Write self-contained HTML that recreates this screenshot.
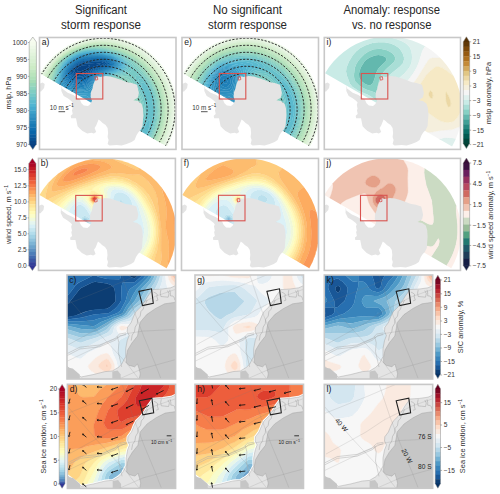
<!DOCTYPE html>
<html><head><meta charset="utf-8"><style>html,body{margin:0;padding:0;background:#fff;width:500px;height:494px;overflow:hidden}svg{display:block}</style></head><body>
<svg width="500" height="494" viewBox="0 0 500 494" font-family='"Liberation Sans", sans-serif'>
<rect width="500" height="494" fill="#ffffff"/>
<text x="101" y="14.4" text-anchor="middle" font-size="12" fill="#262626" textLength="52" lengthAdjust="spacingAndGlyphs">Significant</text>
<text x="101" y="28.6" text-anchor="middle" font-size="12" fill="#262626" textLength="80" lengthAdjust="spacingAndGlyphs">storm response</text>
<text x="247.5" y="14.4" text-anchor="middle" font-size="12" fill="#262626" textLength="69" lengthAdjust="spacingAndGlyphs">No significant</text>
<text x="247.5" y="28.6" text-anchor="middle" font-size="12" fill="#262626" textLength="79" lengthAdjust="spacingAndGlyphs">storm response</text>
<text x="391.7" y="14.4" text-anchor="middle" font-size="12" fill="#262626" textLength="96.6" lengthAdjust="spacingAndGlyphs">Anomaly: response</text>
<text x="391.7" y="28.6" text-anchor="middle" font-size="12" fill="#262626" textLength="79.5" lengthAdjust="spacingAndGlyphs">vs. no response</text>
<clipPath id="pc1f"><rect x="39.5" y="37.5" width="136.5" height="111.9"/></clipPath>
<clipPath id="pc1"><path d="M40.12,73.15 A73.3,73.3 0 0 1 167.08,146.45 Z"/></clipPath>
<g clip-path="url(#pc1f)"><g clip-path="url(#pc1)" >
<path fill="#084384" stroke="#084384" stroke-width="0.3" d="M83.5,65.2 87.5,65.1 89.9,65.5 88.3,67.5 85.2,69.5 80.4,71.5 79.5,71.7 77.5,71.3 76.8,69.5 78.2,67.5 82.2,65.5Z"/>
<path fill="#08488a" stroke="#08488a" stroke-width="0.3" d="M85.5,63.5 95.5,62.9 101.1,63.5 97.5,65.6 93.5,66.7 91.5,67.7 83.5,72.6 79.5,73.6 77.4,73.5 75.5,72.7 74.6,71.5 74.8,69.5 75.5,68.2 77.5,66.3 79.5,65.1 85.1,63.5ZM82.2,65.5 78.2,67.5 76.8,69.5 77.5,71.3 79.5,71.7 80.4,71.5 85.2,69.5 88.3,67.5 89.9,65.5 87.5,65.1 83.5,65.2Z"/>
<path fill="#084d8f" stroke="#084d8f" stroke-width="0.3" d="M97.5,61.5 101.5,61.9 104.5,63.5 101.5,65.5 93.5,68.2 83.5,74.4 79.5,75.3 75.5,74.5 73.8,73.5 73,71.5 73.5,69.1 74.6,67.5 76.8,65.5 80.7,63.5 83.5,62.8 96,61.5ZM85.1,63.5 79.5,65.1 77.5,66.3 75.5,68.2 74.8,69.5 74.6,71.5 75.5,72.7 77.4,73.5 79.5,73.6 83.5,72.6 91.5,67.7 93.5,66.7 97.5,65.6 101.1,63.5 97.5,62.9 85.5,63.5Z"/>
<path fill="#085395" stroke="#085395" stroke-width="0.3" d="M85.5,61.5 99.5,60.8 104.1,61.5 106.5,63.5 104.1,65.5 93.5,69.5 83.5,76 79.5,76.8 77.5,76.6 73.5,75.1 72.1,73.5 71.7,71.5 72.3,69.5 73.4,67.5 75.5,65.4 77.5,64.1 81.5,62.4 85.4,61.5ZM96,61.5 83.5,62.8 80.7,63.5 76.8,65.5 74.6,67.5 73.5,69.1 73,71.5 73.8,73.5 75.5,74.5 79.5,75.3 83.5,74.4 93.5,68.2 101.5,65.5 104.5,63.5 101.5,61.9 97.5,61.5Z"/>
<path fill="#08589b" stroke="#08589b" stroke-width="0.3" d="M83.5,61.1 91.5,60.2 99.5,60.1 105.5,61.2 108.1,63.5 106.2,65.5 95.5,69.5 91.5,71.9 85.5,76.4 81.5,78 77.5,77.9 73.5,76.5 71.5,75 70.8,73.5 70.7,71.5 71.5,69.1 73.5,66.3 77.1,63.5 81.8,61.5ZM85.4,61.5 81.5,62.4 77.5,64.1 75.5,65.4 73.4,67.5 72.3,69.5 71.7,71.5 72.1,73.5 73.5,75.1 77.5,76.6 79.5,76.8 83.5,76 93.5,69.5 104.1,65.5 106.5,63.5 104.1,61.5 99.5,60.8 85.5,61.5Z"/>
<path fill="#085da1" stroke="#085da1" stroke-width="0.3" d="M91.5,59.5 97.5,59.3 103.5,59.9 107.5,61.3 109.4,63.5 107.5,65.7 95.5,70.4 91.5,73 85.5,77.8 83.5,78.8 79.5,79.4 77.5,79.2 73.5,77.8 71.5,76.7 70.5,75.5 69.7,73.5 69.8,71.5 71.6,67.5 75.9,63.5 79.5,61.6 83.5,60.4 90.8,59.5ZM81.8,61.5 77.1,63.5 73.5,66.3 71.5,69.1 70.7,71.5 70.8,73.5 71.5,75 73.5,76.5 77.5,77.9 81.5,78 85.5,76.4 91.5,71.9 95.5,69.5 106.2,65.5 108.1,63.5 105.5,61.2 99.5,60.1 91.5,60.2 83.5,61.1Z"/>
<path fill="#0863a6" stroke="#0863a6" stroke-width="0.3" d="M85.5,59.4 95.5,58.7 103.5,59.3 105.5,59.8 109.1,61.5 110.5,63.5 109.3,65.5 105.5,67.3 97.5,70.2 93.5,72.6 85.5,79.1 83.5,80.1 81.5,80.5 77.5,80.4 71.5,78.1 69.2,75.5 68.8,73.5 69.1,71.5 69.7,69.5 70.9,67.5 72.5,65.5 74.9,63.5 79.5,61 84.7,59.5ZM90.8,59.5 83.5,60.4 79.5,61.6 75.9,63.5 71.6,67.5 69.8,71.5 69.7,73.5 70.5,75.5 71.5,76.7 73.5,77.8 77.5,79.2 79.5,79.4 83.5,78.8 85.5,77.8 91.5,73 95.5,70.4 107.5,65.7 109.4,63.5 107.5,61.3 103.5,59.9 97.5,59.3 91.5,59.5Z"/>
<path fill="#0868ac" stroke="#0868ac" stroke-width="0.3" d="M83.5,59.1 87.5,58.5 95.5,58.1 103.5,58.8 105.5,59.2 109.5,61 111.5,63.5 110.5,65.5 109.5,66.1 106.6,67.5 99.5,70 95.5,72.1 87.5,79 83.5,81.3 79.5,81.8 77.5,81.5 73.5,80.3 71.5,79.3 69.1,77.5 68.2,75.5 68,73.5 69.1,69.5 71.7,65.5 73.9,63.5 77.5,61.2 82,59.5ZM84.7,59.5 79.5,61 74.9,63.5 72.5,65.5 70.9,67.5 69.7,69.5 69.1,71.5 68.8,73.5 69.2,75.5 71.5,78.1 77.5,80.4 81.5,80.5 83.5,80.1 85.5,79.1 93.5,72.6 97.5,70.2 105.5,67.3 109.3,65.5 110.5,63.5 109.1,61.5 105.5,59.8 103.5,59.3 95.5,58.7 85.5,59.4Z"/>
<path fill="#0d6dae" stroke="#0d6dae" stroke-width="0.3" d="M81.5,59.1 87.5,57.9 91.5,57.6 101.5,58 107.5,59.3 109.5,60.3 111.2,61.5 112.4,63.5 111.7,65.5 109.5,66.8 99.5,70.7 95.5,72.9 87.5,80.3 85.5,81.7 83.5,82.5 81.5,82.8 77.5,82.6 73.7,81.5 69.6,79.5 67.9,77.5 67.3,75.5 67.6,71.5 69.5,67.5 71,65.5 75.5,61.7 80.2,59.5ZM82,59.5 77.5,61.2 73.9,63.5 71.7,65.5 69.1,69.5 68,73.5 68.2,75.5 69.1,77.5 71.5,79.3 73.5,80.3 77.5,81.5 79.5,81.8 83.5,81.3 87.5,79 95.5,72.1 99.5,70 106.6,67.5 109.5,66.1 110.5,65.5 111.5,63.5 109.5,61 105.5,59.2 103.5,58.8 95.5,58.1 87.5,58.5 83.5,59.1Z"/>
<path fill="#1172b1" stroke="#1172b1" stroke-width="0.3" d="M87.5,57.4 97.5,57.1 103.5,57.8 109.2,59.5 112.1,61.5 113.2,63.5 112.7,65.5 111.5,66.3 109.6,67.5 101.5,70.4 97.5,72.4 93.5,75.5 87.5,81.6 85.5,82.9 81.5,83.9 77.5,83.7 75.5,83.2 69.5,80.7 68,79.5 66.9,77.5 66.6,73.5 67,71.5 68.9,67.5 70.3,65.5 73.5,62.5 79.5,59.2 86.4,57.5ZM80.2,59.5 75.5,61.7 71,65.5 69.5,67.5 67.6,71.5 67.3,75.5 67.9,77.5 69.6,79.5 73.7,81.5 77.5,82.6 81.5,82.8 83.5,82.5 85.5,81.7 87.5,80.3 95.5,72.9 99.5,70.7 109.5,66.8 111.7,65.5 112.4,63.5 111.2,61.5 109.5,60.3 107.5,59.3 101.5,58 91.5,57.6 87.5,57.9 81.5,59.1Z"/>
<path fill="#1676b3" stroke="#1676b3" stroke-width="0.3" d="M83.5,57.5 91.5,56.6 99.5,56.8 103.5,57.3 110.3,59.5 113,61.5 114.1,63.5 113.6,65.5 111.5,67.1 99.5,71.9 94.5,75.5 87.5,82.9 85.5,84.1 81.5,85 75.5,84.3 69.5,82 67.5,80.6 66.7,79.5 65.9,77.5 65.7,75.5 65.9,73.5 67.2,69.5 69.5,65.7 71.5,63.5 77.5,59.5 83.4,57.5ZM86.4,57.5 79.5,59.2 73.5,62.5 70.3,65.5 68.9,67.5 67,71.5 66.6,73.5 66.9,77.5 68,79.5 69.5,80.7 75.5,83.2 77.5,83.7 81.5,83.9 85.5,82.9 87.5,81.6 93.5,75.5 97.5,72.4 101.5,70.4 109.6,67.5 111.5,66.3 112.7,65.5 113.2,63.5 112.1,61.5 109.2,59.5 103.5,57.8 97.5,57.1 87.5,57.4Z"/>
<path fill="#1b7bb6" stroke="#1b7bb6" stroke-width="0.3" d="M83.5,57 89.5,56.2 95.5,56.1 99.5,56.3 105.5,57.3 111.5,59.6 113.8,61.5 114.8,63.5 114.5,65.5 111.9,67.5 101.5,71.5 97.9,73.5 93.6,77.5 89.5,82.5 87.5,84.2 83.5,85.9 77.5,85.8 73.5,84.9 69.9,83.5 66.9,81.5 65.6,79.5 65.1,77.5 65.3,73.5 66.6,69.5 69.5,65 73.5,61.3 77.5,59 81.5,57.5ZM83.4,57.5 77.5,59.5 71.5,63.5 69.5,65.7 67.5,68.9 65.9,73.5 65.9,77.5 67.5,80.6 71.5,83 75.5,84.3 79.5,85 83.5,84.7 85.5,84.1 87.5,82.9 94.5,75.5 96.9,73.5 100.3,71.5 111.5,67.1 113.6,65.5 114.1,63.5 113,61.5 110.3,59.5 103.5,57.3 99.5,56.8 91.5,56.6 83.5,57.5Z"/>
<path fill="#1f80b8" stroke="#1f80b8" stroke-width="0.3" d="M81.5,57.1 87.5,55.9 91.5,55.6 97.5,55.7 103.5,56.4 107.9,57.5 112.3,59.5 114.6,61.5 115.6,63.5 115.4,65.5 113.5,67.2 109.5,69.2 102.8,71.5 97.5,74.5 94.5,77.5 89.5,83.9 87.5,85.5 85.5,86.5 81.5,87.2 79.5,87.1 71.7,85.5 67.3,83.5 65.4,81.5 64.7,79.5 64.4,77.5 64.7,73.5 65.5,70.9 67.5,66.9 69.5,64.2 72.5,61.5 75.5,59.5 80.1,57.5ZM81.5,57.5 77.5,59 73.5,61.3 69.5,65 66.6,69.5 65.3,73.5 65.1,77.5 65.6,79.5 66.9,81.5 69.9,83.5 73.5,84.9 77.5,85.8 83.5,85.9 87.5,84.2 89.5,82.5 93.6,77.5 97.9,73.5 101.5,71.5 111.9,67.5 114.5,65.5 114.8,63.5 113.8,61.5 111.5,59.6 105.5,57.3 99.5,56.3 95.5,56.1 89.5,56.2 83.5,57Z"/>
<path fill="#2485ba" stroke="#2485ba" stroke-width="0.3" d="M87.5,55.4 91.5,55.1 99.5,55.4 105.5,56.4 109.5,57.6 113.2,59.5 115.4,61.5 116.4,63.5 116.2,65.5 114.1,67.5 111.5,68.9 103.5,71.7 99.5,73.7 95.4,77.5 91.5,83.1 89.5,85.3 87.5,86.8 83.5,88.1 79.5,88.2 74.8,87.5 71.5,86.7 67.5,85.1 65.4,83.5 64.3,81.5 63.6,77.5 64.2,73.5 65.5,69.5 67.5,66 69.5,63.5 73.5,60.2 77.5,58 81.5,56.6 86.7,55.5ZM80.1,57.5 75.5,59.5 72.5,61.5 69.5,64.2 67.5,66.9 65.5,70.9 64.7,73.5 64.4,75.5 64.7,79.5 65.4,81.5 67.3,83.5 71.7,85.5 79.5,87.1 81.5,87.2 85.5,86.5 87.5,85.5 89.5,83.9 94.5,77.5 97.5,74.5 102.8,71.5 109.5,69.2 113.5,67.2 115.4,65.5 115.6,63.5 114.6,61.5 112.3,59.5 107.9,57.5 103.5,56.4 97.5,55.7 91.5,55.6 87.5,55.9 81.5,57.1Z"/>
<path fill="#298abd" stroke="#298abd" stroke-width="0.3" d="M85.5,55.2 91.5,54.7 97.5,54.8 107.5,56.5 110.4,57.5 114.1,59.5 116.1,61.5 117.1,63.5 117,65.5 115.1,67.5 111.5,69.5 103.5,72.2 98.1,75.5 96.2,77.5 90.8,85.5 87.5,88.2 85.5,88.9 81.5,89.4 75.5,88.9 67.5,86.8 65.5,85.6 64,83.5 63,79.5 63.2,75.5 64.2,71.5 66,67.5 68.9,63.5 71.5,61.1 75.5,58.5 79.5,56.8 84,55.5ZM86.7,55.5 81.5,56.6 77.5,58 73.5,60.2 69.5,63.5 67.5,66 65.5,69.5 64.2,73.5 63.6,77.5 64.3,81.5 65.4,83.5 67.5,85.1 71.5,86.7 74.8,87.5 79.5,88.2 83.5,88.1 87.5,86.8 89.5,85.3 91.5,83.1 95.4,77.5 99.5,73.7 103.5,71.7 111.5,68.9 114.1,67.5 116.2,65.5 116.4,63.5 115.4,61.5 113.2,59.5 109.5,57.6 105.5,56.4 99.5,55.4 93.5,55.1 87.5,55.4Z"/>
<path fill="#2d8fbf" stroke="#2d8fbf" stroke-width="0.3" d="M83.5,55.2 89.5,54.3 93.5,54.2 101.5,54.8 105.2,55.5 109.5,56.7 113.5,58.6 116.9,61.5 117.9,63.5 117.8,65.5 115.5,67.9 111.5,70 103.5,72.7 98.9,75.5 97,77.5 91.5,86.4 89.5,88.5 85.5,90.3 79.5,90.6 69.5,89.2 65.5,89.2 63.5,85.6 62.4,81.5 62.4,77.5 63.1,73.5 64.5,69.5 66.7,65.5 69.5,62.3 73,59.5 77.5,57.1 82.2,55.5ZM84,55.5 79.5,56.8 75.5,58.5 71.5,61.1 68.9,63.5 66,67.5 64.2,71.5 63.2,75.5 63,79.5 64,83.5 65.5,85.6 67.5,86.8 75.5,88.9 81.5,89.4 85.5,88.9 87.5,88.2 90.8,85.5 96.2,77.5 98.1,75.5 103.5,72.2 111.5,69.5 115.1,67.5 117,65.5 117.1,63.5 116.1,61.5 114.1,59.5 110.4,57.5 107.5,56.5 97.5,54.8 91.5,54.7 85.5,55.2Z"/>
<path fill="#3294c2" stroke="#3294c2" stroke-width="0.3" d="M81.5,55.3 87.5,54.1 93.5,53.8 101.5,54.4 106.9,55.5 111.5,57 115.5,59.3 117.5,61.3 118.6,63.5 118.6,65.5 117.5,67.1 115.5,68.6 113.5,69.7 103.5,73.2 99.5,75.7 96.4,79.5 91.5,88.5 89.5,90.4 87.5,91.3 83.5,91.9 71.5,91.5 68.7,97.5 67.2,103.5 66.6,111.5 67.9,119.5 71.1,127.5 75.2,133.5 79.1,137.5 85.5,142.1 93.5,145.4 99.5,146.6 103.5,146.8 103.6,149.5 76.9,149.5 69.5,143.4 63.5,135.9 59.5,128.4 57.2,121.5 55.8,111.5 56,105.5 57.5,96.9 59.5,91.2 62.1,85.5 61.6,79.5 62.1,75.5 63.2,71.5 66.2,65.5 69.7,61.5 75.5,57.6 80.7,55.5ZM82.2,55.5 77.5,57.1 73,59.5 69.5,62.3 66.7,65.5 64.5,69.5 63.1,73.5 62.4,77.5 62.4,81.5 63.5,85.6 65.5,89.2 69.5,89.2 79.5,90.6 85.5,90.3 89.5,88.5 91.5,86.4 97,77.5 98.9,75.5 103.5,72.7 111.5,70 115.5,67.9 117.8,65.5 117.9,63.5 116.9,61.5 113.5,58.6 109.5,56.7 105.2,55.5 101.5,54.8 93.5,54.2 89.5,54.3 83.5,55.2Z"/>
<path fill="#3799c5" stroke="#3799c5" stroke-width="0.3" d="M89.5,53.5 95.5,53.4 101.5,54 109.5,55.8 113.5,57.5 116.6,59.5 118.4,61.5 119.3,63.5 119.4,65.5 117.5,68 113.5,70.2 103.5,73.7 99.5,76.5 97.2,79.5 93.6,87.5 91.3,91.5 91.5,93.6 89.5,93.1 75,93.5 73,97.5 71.2,103.5 70.6,109.5 71.5,117.5 73.5,123.3 77.5,130 82.9,135.5 89.5,139.6 95.5,141.8 103.5,142.8 103.8,149.5 103.5,146.8 99.5,146.6 93.5,145.4 85.5,142.1 79.1,137.5 75.2,133.5 71.1,127.5 67.9,119.5 66.6,111.5 66.9,105.5 68.7,97.5 71.5,91.5 83.5,91.9 87.5,91.3 89.5,90.4 91.5,88.5 96.4,79.5 99.5,75.7 103.5,73.2 113.5,69.7 117.5,67.1 118.6,65.5 118.6,63.5 117.5,61.3 115.5,59.3 113.5,58 106.9,55.5 97.5,54 89.5,53.9 80.7,55.5 75.5,57.6 69.7,61.5 66.2,65.5 63.5,70.7 62.1,75.5 61.6,79.5 62.1,85.5 59.5,91.2 57.5,96.9 56,105.5 55.8,111.5 56.8,119.5 57.5,122.7 59.5,128.4 63.5,135.9 69.5,143.4 76.9,149.5 74.4,149.5 71.8,147.5 67.5,143.4 63.5,138.5 59.5,131.9 57.5,127.5 55.3,119.5 54.4,111.5 55,101.5 57.5,92.3 60.7,85.5 61.5,75.9 62.7,71.5 64.4,67.5 67.1,63.5 69,61.5 73.5,58.2 79.4,55.5 83.5,54.4 89.2,53.5Z"/>
<path fill="#3b9ec8" stroke="#3b9ec8" stroke-width="0.3" d="M87.5,53.3 97.5,53.1 103.5,53.9 109.5,55.4 114.5,57.5 117.4,59.5 119.2,61.5 120.1,63.5 120.2,65.5 119.1,67.5 115.5,69.9 105.5,73.3 101.4,75.5 99.3,77.5 97,81.5 94.2,89.5 98.4,99.5 99.5,101.2 100.2,103.5 101.5,105.4 101.5,108.4 99.5,106.3 87.5,96.3 85.5,95.6 79.3,95.5 77.5,97.9 75.6,103.5 74.9,109.5 75.5,115.5 77.4,121.5 79.6,125.5 81.5,128.1 84.9,131.5 87.4,133.5 90.9,135.5 97.5,137.8 103.5,138.4 103.9,149.5 103.5,142.8 95.5,141.8 89.5,139.6 82.9,135.5 77.5,130 73.5,123.3 71.5,117.5 70.6,109.5 70.9,105.5 72.3,99.5 75,93.5 89.5,93.1 91.5,93.6 91.3,91.5 93.6,87.5 97.2,79.5 99.5,76.5 103.5,73.7 113.5,70.2 118.1,67.5 119.4,65.5 119.3,63.5 118.4,61.5 115.5,58.7 109.5,55.8 101.5,54 91.5,53.4 83.5,54.4 79.4,55.5 75.5,57.1 71.5,59.5 67.1,63.5 63.5,69.4 61.2,77.5 60.7,85.5 57.8,91.5 55.5,98.8 54.4,107.5 54.7,115.5 55.5,120.8 57.5,127.5 61.5,135.5 67.5,143.4 74.4,149.5 72.6,149.5 69.5,146.9 65.5,142.8 61.5,137.5 57.2,129.5 55.1,123.5 53.8,117.5 53.2,109.5 53.9,101.5 55.9,93.5 59.5,85.3 61,75.5 63.5,68.3 65.5,64.9 67.5,62.4 71.5,59 77.5,55.8 85.8,53.5Z"/>
<path fill="#40a3cb" stroke="#40a3cb" stroke-width="0.3" d="M85.5,53.2 91.5,52.6 97.5,52.7 107.5,54.4 113.5,56.5 117.5,58.9 120,61.5 120.9,63.5 121,65.5 120.1,67.5 117.5,69.5 113.5,71.3 105.5,73.8 102.3,75.5 100.1,77.5 98.7,79.5 97.5,82.2 95.9,87.5 95.7,89.5 100.9,103.5 101.5,104.3 101.9,107.5 101.5,109.5 103.5,111.5 103.5,133.5 104.1,149.5 103.5,138.4 97.5,137.8 90.9,135.5 87.4,133.5 84.9,131.5 81.5,128.1 79.6,125.5 77.4,121.5 76,117.5 75,111.5 75,107.5 75.6,103.5 77.7,97.5 79.3,95.5 81.5,95.4 85.5,95.6 87.5,96.3 99.5,106.3 101.5,108.4 101.5,105.4 100.2,103.5 99.5,101.2 98.4,99.5 94.2,89.5 96.2,83.5 98,79.5 99.3,77.5 101.4,75.5 105.5,73.3 115.5,69.9 119.5,66.9 120.2,65.5 120.1,63.5 119.2,61.5 117.4,59.5 114.5,57.5 107.5,54.8 99.5,53.3 91.5,53 85.8,53.5 77.5,55.8 71.5,59 67.5,62.4 65.5,64.9 63.5,68.3 61,75.5 59.5,85.3 55.9,93.5 54.3,99.5 53.3,107.5 53.5,115.5 55.5,124.9 59.1,133.5 61.5,137.5 65.5,142.8 72.6,149.5 71.1,149.5 69.5,148.1 65.5,144.1 61.5,139.1 57.1,131.5 55.4,127.5 53.5,120.8 52.4,111.5 53,101.5 55.5,92 59.3,83.5 60.5,75.5 62.4,69.5 65.5,64.1 70.1,59.5 73.5,57.3 77.5,55.4 83.8,53.5Z"/>
<path fill="#45a9cd" stroke="#45a9cd" stroke-width="0.3" d="M83.5,53.2 89.5,52.3 95.5,52.2 101.5,52.8 107.5,54 112.2,55.5 117.5,58.3 119.1,59.5 120.8,61.5 121.7,63.5 121.8,65.5 121,67.5 118.6,69.5 115.5,71.1 105.5,74.3 103.2,75.5 100.8,77.5 98.5,81.5 97.3,85.5 97,89.5 101.6,103.5 102.1,107.5 103.5,109.4 103.7,135.5 104.3,149.5 103.5,133.5 103.5,111.5 101.5,109.5 101.9,107.5 101.5,104.3 100.9,103.5 95.7,89.5 95.9,87.5 97,83.5 98.7,79.5 100.1,77.5 102.3,75.5 105.5,73.8 115.5,70.5 117.5,69.5 120.1,67.5 121,65.5 120.9,63.5 120,61.5 118.2,59.5 115.4,57.5 111,55.5 107.5,54.4 99.5,52.9 91.5,52.6 83.8,53.5 77.5,55.4 73.5,57.3 70.1,59.5 65.5,64.1 62.4,69.5 60.5,75.5 59.3,83.5 55.5,92 53.5,98.8 52.4,107.5 52.9,117.5 55.4,127.5 59.2,135.5 63.5,141.8 66.8,145.5 71.1,149.5 69.9,149.5 65.5,145.3 59.5,137.5 55.4,129.5 52.9,121.5 51.9,115.5 51.5,109.5 52.6,99.5 54.9,91.5 58.5,83.5 60,75.5 61.9,69.5 65.4,63.5 69.4,59.5 76.3,55.5 82.2,53.5Z"/>
<path fill="#49aed0" stroke="#49aed0" stroke-width="0.3" d="M81.5,53.3 85.5,52.4 91.5,51.8 97.5,51.9 105.5,53.1 111.5,54.8 117.3,57.5 119.9,59.5 121.6,61.5 122.5,63.5 122.7,65.5 122,67.5 119.8,69.5 115.9,71.5 107.5,74 104.2,75.5 101.5,77.6 99.2,81.5 98.6,83.5 97.9,87.5 98.1,89.5 101.5,101.9 102.3,107.5 103.7,109.5 103.9,137.5 104.4,149.5 103.7,135.5 103.5,109.4 102.1,107.5 101.6,103.5 97,89.5 97,87.5 98.5,81.5 99.4,79.5 101.5,76.9 103.5,75.3 105.5,74.3 115.5,71.1 118.6,69.5 121,67.5 121.8,65.5 121.7,63.5 120.8,61.5 119.1,59.5 115.5,57 111.5,55.2 107.5,54 99.5,52.5 89.5,52.3 82.2,53.5 76.3,55.5 69.4,59.5 65.4,63.5 61.9,69.5 60,75.5 58.5,83.5 55.5,89.9 53,97.5 51.7,105.5 51.5,109.5 51.9,115.5 53.5,124 55.4,129.5 57.5,134 62.3,141.5 65.5,145.3 69.9,149.5 68.9,149.5 65.5,146.3 61.4,141.5 58.7,137.5 55.5,131.5 53.2,125.5 52.2,121.5 51.4,117.5 50.9,111.5 51,105.5 51.5,101.4 53.4,93.5 55.5,88.1 57.8,83.5 60,73.5 61.4,69.5 63.5,65.4 64.9,63.5 68.8,59.5 75.5,55.4 80.8,53.5Z"/>
<path fill="#4eb3d3" stroke="#4eb3d3" stroke-width="0.3" d="M91.5,51.4 97.5,51.5 103.5,52.3 109.5,53.7 113.5,55.1 118.2,57.5 120.8,59.5 122.4,61.5 123.3,63.5 123.6,65.5 123,67.5 119.5,70.4 115.5,72.2 107.5,74.5 103.5,76.6 100.9,79.5 99.3,83.5 98.8,87.5 99,89.5 101.5,100.3 102.5,107.5 103.8,109.5 104,111.5 104,135.5 104.6,149.5 103.9,137.5 103.7,109.5 102.3,107.5 101.5,101.9 98.1,89.5 97.9,87.5 99.2,81.5 101.6,77.5 105.5,74.8 117.5,70.8 119.8,69.5 122,67.5 122.7,65.5 122.5,63.5 121.6,61.5 119.9,59.5 117.3,57.5 111.5,54.8 103.5,52.7 95.5,51.8 89.5,51.9 85.5,52.4 77.5,54.6 71.6,57.5 66.6,61.5 62.3,67.5 60,73.5 57.8,83.5 54.9,89.5 52.3,97.5 51,105.5 51,113.5 52.2,121.5 53.2,125.5 55.5,131.5 57.5,135.5 61.4,141.5 65.5,146.3 68.9,149.5 67.9,149.5 63.5,145.1 60.6,141.5 57.5,136.7 53.2,127.5 51.1,119.5 50.2,109.5 50.6,103.5 51.6,97.5 53.4,91.5 57.5,82.3 59.5,73.5 60.9,69.5 62.9,65.5 67.5,60.1 73.5,56 81.5,52.9 89.8,51.5Z"/>
<path fill="#54b6d1" stroke="#54b6d1" stroke-width="0.3" d="M87.5,51.4 91.5,51 99.5,51.3 105.5,52.3 111.5,53.9 115.5,55.5 119.5,57.7 121.7,59.5 123.3,61.5 124.3,63.5 124.5,65.5 124,67.5 122.2,69.5 117.5,72.1 107.5,75 105.5,75.9 103.2,77.5 101.6,79.5 100.1,83.5 99.6,87.5 102.7,107.5 104,109.5 104.2,111.5 104.2,137.5 104.8,149.5 104.3,145.5 104,135.5 104,111.5 103.8,109.5 102.5,107.5 101.5,100.3 99,89.5 99,85.5 99.9,81.5 100.9,79.5 103.5,76.6 107.5,74.5 117.5,71.5 120.9,69.5 123,67.5 123.6,65.5 123.3,63.5 122.4,61.5 120.8,59.5 117.5,57.1 113.5,55.1 109.5,53.7 103.5,52.3 95.5,51.4 89.5,51.5 85.5,52 77.5,54.2 70.9,57.5 66,61.5 63.5,64.6 61.8,67.5 59.5,73.5 57.1,83.5 53.4,91.5 51.6,97.5 50.4,105.5 50.5,115.5 52,123.5 53.2,127.5 55.5,133 60.6,141.5 63.5,145.1 67.9,149.5 67,149.5 63.5,146 57.2,137.5 53.3,129.5 51.3,123.5 50.5,119.5 49.7,113.5 49.6,107.5 51,97.5 53.5,89.5 57.1,81.5 59,73.5 61.5,67.1 63.7,63.5 65.4,61.5 67.5,59.5 71.5,56.7 78.5,53.5 86.6,51.5Z"/>
<path fill="#5abacf" stroke="#5abacf" stroke-width="0.3" d="M85.5,51.3 89.5,50.8 97.5,50.7 105.5,51.9 111.5,53.5 116.6,55.5 120.2,57.5 122.7,59.5 124.3,61.5 125.2,63.5 125.5,65.5 125.1,67.5 123.5,69.6 119.5,72 107.5,75.5 105.5,76.6 104.1,77.5 102.4,79.5 100.8,83.5 100.4,87.5 100.6,89.5 102.9,107.5 104.1,109.5 104.3,111.5 104.3,135.5 104.9,149.5 104.2,137.5 104.2,111.5 104,109.5 102.7,107.5 99.6,87.5 99.8,85.5 100.7,81.5 101.6,79.5 103.2,77.5 107.5,75 118.9,71.5 122.2,69.5 124,67.5 124.5,65.5 124.3,63.5 123.3,61.5 121.7,59.5 119.5,57.7 115.5,55.5 109.5,53.3 99.5,51.3 91.5,51 86.6,51.5 78.5,53.5 73.7,55.5 69.5,58 65.4,61.5 62.4,65.5 60.4,69.5 59,73.5 57.1,81.5 52.1,93.5 50.2,101.5 49.6,111.5 49.9,115.5 51.3,123.5 54.1,131.5 57.2,137.5 59.5,141 63.5,146 67,149.5 66.1,149.5 63.5,146.9 57.5,139.1 53.5,131.6 50.7,123.5 49.5,117.5 49,111.5 49.6,101.5 51.5,93.4 56.6,81.5 58.5,73.5 60.8,67.5 63.2,63.5 64.9,61.5 69.6,57.5 73.5,55.2 77.4,53.5 84.5,51.5Z"/>
<path fill="#60bdcd" stroke="#60bdcd" stroke-width="0.3" d="M83.5,51.4 89.5,50.4 95.5,50.2 103.5,51.1 109.5,52.5 115.5,54.5 121.2,57.5 125.3,61.5 126.3,63.5 126.7,65.5 126.4,67.5 125.1,69.5 119.5,72.7 109.1,75.5 105.5,77.2 103.2,79.5 101.6,83.5 101.2,87.5 103.1,107.5 104.3,109.5 104.5,111.5 104.5,139.5 105.1,149.5 104.6,145.5 104.3,135.5 104.3,111.5 104.1,109.5 102.9,107.5 100.6,89.5 100.5,85.5 101.4,81.5 102.4,79.5 104.1,77.5 107.5,75.5 119.5,72 123.5,69.6 125.1,67.5 125.5,65.5 125.2,63.5 124.3,61.5 121.5,58.5 116.6,55.5 111.5,53.5 103.5,51.5 95.5,50.6 87.5,51 79.5,52.8 73.5,55.2 69.6,57.5 64.9,61.5 61.5,66.1 59.9,69.5 58.5,73.5 56.6,81.5 51.5,93.4 49.3,103.5 49,111.5 49.5,117.5 50.7,123.5 53.5,131.6 56.5,137.5 59.1,141.5 66.1,149.5 65.3,149.5 61.5,145.5 58.4,141.5 55.5,136.9 52.9,131.5 50.1,123.5 48.7,115.5 48.4,111.5 49,101.5 51.5,91.5 56,81.5 58,73.5 60.2,67.5 64.3,61.5 68.9,57.5 75.5,53.9 82.9,51.5ZM149.5,118.1 149.9,121.5 149.7,125.5 147.5,133 143.6,139.5 141.5,142 137.5,146.2 133.6,149.5 122.4,149.5 129.5,145.3 136,139.5 140.6,133.5 144.5,127.5 147.5,121.6 149.1,119.5Z"/>
<path fill="#66c0cb" stroke="#66c0cb" stroke-width="0.3" d="M81.5,51.5 87.5,50.3 93.5,49.8 97.5,49.9 103.5,50.7 111.5,52.6 118.8,55.5 123.5,58.5 126.4,61.5 127.9,65.5 127.7,67.5 126.7,69.5 123.9,71.5 119.5,73.5 109.5,75.9 105.5,77.9 104,79.5 102.3,83.5 102,87.5 103.3,107.5 104.4,109.5 104.7,111.5 104.7,141.5 105.3,149.5 104.5,139.5 104.5,111.5 104.3,109.5 103.1,107.5 101.2,87.5 101.3,85.5 102.2,81.5 103.2,79.5 105,77.5 109.1,75.5 117.5,73.4 121.5,71.8 125.1,69.5 126.4,67.5 126.7,65.5 126.3,63.5 125.3,61.5 121.5,57.7 117.5,55.4 113.5,53.7 103.5,51.1 97.5,50.3 89.5,50.4 82.9,51.5 75.5,53.9 68.9,57.5 64.3,61.5 61.3,65.5 59.3,69.5 56,81.5 51.5,91.5 49,101.5 48.4,111.5 48.7,115.5 50.1,123.5 53.5,132.9 58.4,141.5 61.5,145.5 65.3,149.5 64.4,149.5 61.5,146.4 56.4,139.5 52.2,131.5 49.5,123.5 48.1,115.5 47.8,109.5 48.8,99.5 50.9,91.5 55.5,81.2 58.8,69.5 62.1,63.5 67.5,58.1 71.5,55.5 75.5,53.5 81.5,51.5ZM141.5,82.4 143.5,82.7 145.5,84.3 147.9,87.5 150.7,93.5 152.3,99.5 153.2,107.5 153,115.5 151.7,125.5 149.5,132.3 145.5,139.4 140.4,145.5 136,149.5 133.6,149.5 137.5,146.2 141.5,142 143.6,139.5 147.5,133 149.7,125.5 149.9,121.5 149.5,118.1 149.1,119.5 147.5,121.6 144.5,127.5 140.6,133.5 137.5,137.8 133.5,142 129.5,145.3 122.4,149.5 116.9,149.5 121.5,147.7 125.5,145.5 131,141.5 133.5,139.1 138.2,133.5 143.5,125 146,119.5 147.2,115.5 147.8,111.5 147.6,105.5 145.8,97.5 141.5,86.4 141,83.5Z"/>
<path fill="#6cc4c9" stroke="#6cc4c9" stroke-width="0.3" d="M93.5,49.5 97.5,49.5 105.5,50.6 113.5,52.8 120,55.5 123.5,57.6 125.8,59.5 127.6,61.5 129.3,65.5 129.4,67.5 128.8,69.5 127.5,70.7 121.5,73.6 107.5,77.3 104.9,79.5 103.7,81.5 103.1,83.5 102.8,89.5 103.5,107.5 104.6,109.5 104.8,111.5 104.8,139.5 105.5,149.5 104.7,141.5 104.7,111.5 104.4,109.5 103.3,107.5 102,87.5 102.3,83.5 104,79.5 106.1,77.5 109.5,75.9 119.5,73.5 123.9,71.5 126.7,69.5 127.7,67.5 127.9,65.5 126.4,61.5 123.5,58.5 118.8,55.5 109.5,52 99.5,50.1 93.5,49.8 85.5,50.6 75.5,53.5 69.5,56.7 65.8,59.5 63.5,61.8 60.8,65.5 58.8,69.5 55.4,81.5 51.5,89.9 49.7,95.5 48.2,103.5 47.8,109.5 48.1,115.5 49.5,123.5 52.2,131.5 54.1,135.5 57.7,141.5 64.4,149.5 63.6,149.5 60,145.5 57,141.5 53.5,135.5 50.1,127.5 47.8,117.5 47.3,111.5 47.4,105.5 49.1,95.5 51.5,88.4 54.8,81.5 58.3,69.5 61.5,63.6 65.2,59.5 67.7,57.5 74.8,53.5 79.5,51.7 83.5,50.7 92.6,49.5ZM139.5,78.6 141.5,78.8 143.5,79.9 145.5,81.7 149.6,87.5 151.5,91.5 153.4,97.5 154.7,107.5 154.1,119.5 153.5,123.2 151.5,130.4 149.5,135.1 147.5,138.5 142,145.5 137.8,149.5 136,149.5 140.4,145.5 143.9,141.5 147.5,136.3 149.5,132.3 151.7,125.5 152.6,119.5 153.2,107.5 151.9,97.5 149.5,90.4 147.9,87.5 145.5,84.3 143.5,82.7 141.5,82.4 141,83.5 141.2,85.5 145.8,97.5 147.3,103.5 147.8,107.5 147.8,111.5 147.2,115.5 144.3,123.5 136.7,135.5 133.1,139.5 128.5,143.5 123.5,146.7 116.9,149.5 109.8,149.5 115.5,148.2 121.5,145.8 125.5,143.5 130.7,139.5 136.1,133.5 141.5,125.1 144.2,119.5 145.7,113.5 145.8,105.5 143.9,97.5 138.5,83.5 138.6,79.5Z"/>
<path fill="#72c7c7" stroke="#72c7c7" stroke-width="0.3" d="M89.5,49.4 95.5,49.1 103.5,49.8 111.5,51.7 117.5,53.8 123.5,56.9 127,59.5 130.2,63.5 131.5,67.5 131.6,69.5 130.6,71.5 121.5,74.5 108.6,77.5 105.8,79.5 103.9,83.5 103.6,103.5 103.9,107.5 105,111.5 105,141.5 105.5,148.4 111.5,147.6 117.5,145.8 123.5,142.9 127.5,140.1 130.5,137.5 134.1,133.5 139.5,125.5 142.6,119.5 144.2,113.5 144.5,109.5 144.2,105.5 142.3,97.5 136.6,83.5 135.5,77.5 136.3,75.5 137.5,75.1 139.6,75.5 143.5,77.9 147.5,82.2 151.8,89.5 154,95.5 155.6,103.5 155.9,107.5 155.7,115.5 154.5,123.5 152.9,129.5 149.3,137.5 143.5,145.3 139.3,149.5 137.8,149.5 143.8,143.5 149.3,135.5 151.5,130.4 153.5,123.2 154.5,115.5 154.7,107.5 153.5,97.9 151.5,91.5 149.6,87.5 145.5,81.7 143.5,79.9 141.5,78.8 139.5,78.6 138.6,79.5 138.5,83.5 143.9,97.5 145.1,101.5 146,107.5 145.3,115.5 144.2,119.5 142.4,123.5 137.5,131.4 134.5,135.5 130.7,139.5 127.5,142.1 121.5,145.8 115.5,148.2 109.8,149.5 105.5,149.5 104.8,139.5 104.8,111.5 104.6,109.5 103.5,107.5 102.8,89.5 103.1,83.5 103.7,81.5 104.9,79.5 107.5,77.3 111.5,76 117.5,74.8 123.5,72.8 127.5,70.7 128.8,69.5 129.4,67.5 129.3,65.5 127.6,61.5 123.5,57.6 120,55.5 113.5,52.8 105.5,50.6 101.5,49.9 97.5,49.5 89.5,49.7 80.3,51.5 75.5,53.2 70.8,55.5 65.2,59.5 61.5,63.6 59.5,66.9 56.9,73.5 54.8,81.5 51.5,88.4 49.1,95.5 47.6,103.5 47.3,111.5 48.5,121.5 51.6,131.5 57,141.5 63.6,149.5 62.8,149.5 59.3,145.5 55.5,140.2 52.8,135.5 49.5,127.5 47.9,121.5 46.8,113.5 46.7,107.5 47.3,101.5 48.5,95.5 50.4,89.5 54.2,81.5 57.7,69.5 59.7,65.5 62.7,61.5 67.1,57.5 70.1,55.5 75.5,52.8 79.1,51.5 88.3,49.5Z"/>
<path fill="#78cac5" stroke="#78cac5" stroke-width="0.3" d="M87.5,49.3 95.5,48.7 101.5,49.1 107.5,50.2 115.5,52.5 119.5,54.1 125.7,57.5 130.3,61.5 135.4,69.5 145.5,78 149.5,83.3 151.9,87.5 153.5,91.1 155.5,97.4 156.5,103.5 156.9,111.5 155.9,121.5 154.5,127.5 151.4,135.5 147.7,141.5 144.5,145.5 140.6,149.5 139.3,149.5 143.5,145.3 149.3,137.5 152.9,129.5 154.5,123.5 155.7,115.5 155.9,107.5 155.3,101.5 153.4,93.5 149.7,85.5 145.5,79.8 143.5,77.9 139.6,75.5 137.5,75.1 136.3,75.5 135.5,77.5 136.6,83.5 142.3,97.5 144.2,105.5 144.5,109.5 144.2,113.5 142.6,119.5 139.5,125.5 134.1,133.5 131.5,136.5 127.5,140.1 123.5,142.9 117.5,145.8 111.5,147.6 105.5,148.4 105,141.5 105,111.5 103.9,107.5 103.6,103.5 103.9,83.5 105.8,79.5 108.6,77.5 121.5,74.5 129.5,72 130.6,71.5 131.6,69.5 131.5,67.5 130.2,63.5 127.5,60 124.5,57.5 119.5,54.7 113.5,52.3 107.5,50.6 101.5,49.5 93.5,49.1 87.5,49.6 81.5,50.8 75.5,52.8 70.1,55.5 65.5,58.8 61.1,63.5 58.6,67.5 57,71.5 54.2,81.5 50.4,89.5 48.5,95.5 47,103.5 46.8,113.5 47.9,121.5 51,131.5 55.5,140.2 59.3,145.5 62.8,149.5 62.1,149.5 61.5,148.9 57,143.5 53.2,137.5 51.2,133.5 48.3,125.5 46.6,117.5 46.1,109.5 46.7,101.5 47.9,95.5 50.6,87.5 53.6,81.5 56.4,71.5 59.2,65.5 61.5,62.3 67.5,56.8 73.2,53.5 77.5,51.7 86,49.5ZM121.4,75.5 111.5,77.2 109.5,77.9 106.9,79.5 105.5,81.4 104.8,83.5 104,103.5 104.2,107.5 105.2,111.5 105.1,139.5 105.5,146.7 113.5,145.5 117.5,144.1 122.7,141.5 128.1,137.5 132,133.5 137.7,125.5 140.1,121.5 142.4,115.5 143.1,109.5 142.1,101.5 139.2,93.5 135.5,85.5 132.8,77.5 131.4,75.5 129.5,74.6 127.5,74.4 121.5,75.5Z"/>
<path fill="#7ecdc3" stroke="#7ecdc3" stroke-width="0.3" d="M85.5,49.2 95.5,48.3 105.5,49.3 115.5,52 123.6,55.5 127.5,57.9 131.8,61.5 138.4,69.5 145.5,76.4 149.5,81.6 151.5,84.9 155.3,93.5 157.2,101.5 157.8,111.5 157.1,119.5 155.4,127.5 152.3,135.5 147.5,143.1 141.8,149.5 140.6,149.5 144.5,145.5 147.7,141.5 151.4,135.5 153.5,130.5 155.5,123.5 156.8,113.5 156.7,105.5 155.5,97.4 153.5,91.1 150.8,85.5 147.5,80.4 143.5,76 135.4,69.5 131.8,63.5 128.3,59.5 122.3,55.5 115.5,52.5 107.5,50.2 101.5,49.1 95.5,48.7 89.5,49 83.5,50 75.5,52.5 69.5,55.5 64.2,59.5 61.5,62.3 58.1,67.5 56.4,71.5 53.6,81.5 51.5,85.5 49.1,91.5 47.5,97.4 46.3,105.5 46.1,111.5 46.6,117.5 47.3,121.5 49.6,129.5 51.2,133.5 54.4,139.5 57,143.5 62.1,149.5 61.2,149.5 57.8,145.5 53.7,139.5 50.6,133.5 48.3,127.5 46.7,121.5 45.8,115.5 45.6,107.5 46.1,101.5 48.5,91.5 53.7,79.5 56.7,69.5 58.7,65.5 61.5,61.7 66,57.5 71.5,54 77.1,51.5 84.2,49.5ZM121.5,75.5 127.5,74.4 129.5,74.6 131.4,75.5 132.8,77.5 135.5,85.5 139.2,93.5 142.1,101.5 143.1,109.5 142.4,115.5 140.1,121.5 137.7,125.5 132,133.5 128.1,137.5 122.7,141.5 117.5,144.1 113.5,145.5 105.5,146.7 105.1,139.5 105.2,111.5 104.2,107.5 104,103.5 104.8,83.5 105.5,81.4 106.9,79.5 109.5,77.9 111.5,77.2 121.4,75.5ZM113.9,77.5 109.5,78.8 107.5,80.2 106.6,81.5 105.5,85.2 104.4,103.5 104.5,107.5 105.3,111.5 105.3,141.5 105.5,145 107.5,144.8 113.9,143.5 117.5,142.2 122.6,139.5 127.5,135.7 131.5,131.4 138.4,121.5 141,115.5 141.7,111.5 141.5,105.5 140.1,99.5 131.2,79.5 129.5,77.4 127.5,76.5 125.5,76.2 115.5,77.3Z"/>
<path fill="#84cfc1" stroke="#84cfc1" stroke-width="0.3" d="M83.5,49.3 93.5,48 103.5,48.5 115.5,51.5 123.5,54.8 131,59.5 135.2,63.5 147.5,77.3 151.5,83.3 155.5,91.7 157.7,99.5 158.6,109.5 158.2,117.5 156.2,127.5 153.5,134.7 149.5,141.7 142.9,149.5 141.8,149.5 147.5,143.1 152.3,135.5 155.4,127.5 157.1,119.5 157.8,111.5 157.2,101.5 155.9,95.5 153.5,88.9 149.5,81.6 145.5,76.4 138.4,69.5 131.8,61.5 127.5,57.9 123.6,55.5 115.5,52 107.5,49.7 99.5,48.5 95.5,48.3 85.5,49.2 79.5,50.7 73.5,53 67.5,56.4 63.6,59.5 59.5,64.3 57.5,67.7 55.9,71.5 53.7,79.5 50,87.5 47.3,95.5 46.1,101.5 45.6,107.5 45.8,115.5 46.7,121.5 49,129.5 50.6,133.5 53.7,139.5 56.3,143.5 61.2,149.5 60.4,149.5 59.5,148.5 54.2,141.5 49.9,133.5 48.3,129.5 46.1,121.5 45.5,117.7 44.9,109.5 45.1,105.5 46.2,97.5 47.5,92.7 50.2,85.5 53.1,79.5 56.1,69.5 58.2,65.5 61.2,61.5 65.5,57.4 71.5,53.6 77.5,51 82.8,49.5ZM115.5,77.3 125.5,76.2 127.5,76.5 129.5,77.4 131.2,79.5 140.1,99.5 141.5,105.5 141.7,111.5 141,115.5 138.4,121.5 131.5,131.4 127.5,135.7 122.6,139.5 117.5,142.2 113.9,143.5 107.5,144.8 105.5,145 105.3,141.5 105.3,111.5 104.5,107.5 104.4,103.5 105.5,85.2 106.6,81.5 107.5,80.2 109.5,78.8 113.9,77.5ZM110.1,79.5 107.8,81.5 106.9,83.5 104.9,101.5 104.9,107.5 105.5,111.5 105.5,142.6 113.5,141.2 117.5,139.7 121.5,137.5 126.4,133.5 129.5,130.1 137.8,119.5 139.5,115.6 140.4,109.5 139.5,102.6 137.5,96.6 131.1,83.5 128.4,79.5 125.5,78 123.5,77.8 117.5,78.1 111.5,79Z"/>
<path fill="#8ad2bf" stroke="#8ad2bf" stroke-width="0.3" d="M81.5,49.5 87.5,48.2 91.5,47.8 99.5,47.7 105.5,48.4 110.4,49.5 122.1,53.5 129.5,57.5 132.3,59.5 136.7,63.5 145.6,73.5 151.4,81.5 155.5,89.6 157.5,95.5 158.8,101.5 159.4,111.5 158.7,119.5 158,123.5 156.3,129.5 153.5,136.4 149.1,143.5 143.9,149.5 142.9,149.5 149.5,141.7 153.5,134.7 155.6,129.5 157.6,121.5 158.5,113.5 158.4,105.5 157.7,99.5 154.6,89.5 151.5,83.3 147.5,77.3 135.2,63.5 131,59.5 124.8,55.5 117.5,52.2 108.4,49.5 99.5,48.1 91.5,48.1 85.5,48.9 77.5,51 71.7,53.5 67.5,56 63.1,59.5 59.5,63.6 56.1,69.5 53.1,79.5 49.5,87.2 46.7,95.5 45.5,101.5 44.9,109.5 45.2,115.5 46.1,121.5 48.3,129.5 49.9,133.5 54.2,141.5 60.4,149.5 59.5,149.4 53.5,141.5 48.4,131.5 46.4,125.5 44.8,117.5 44.3,111.5 44.5,105.5 45.2,99.5 47.2,91.5 52.4,79.5 55.5,69.7 57.5,65.8 60.7,61.5 64.9,57.5 69.5,54.4 75.4,51.5 81.4,49.5ZM111.5,79 117.5,78.1 123.5,77.8 125.5,78 128.4,79.5 131.1,83.5 137.5,96.6 139.5,102.6 140.4,109.5 139.5,115.6 137.8,119.5 129.5,130.1 126.4,133.5 121.5,137.5 117.5,139.7 113.5,141.2 105.5,142.6 105.5,111.5 104.9,107.5 104.9,101.5 106.9,83.5 107.8,81.5 110.1,79.5ZM114,79.5 111.5,80.3 109.5,81.5 108.4,83.5 106.8,95.5 105.5,100.5 105.1,105.5 105.5,110.6 107.5,110.9 109.5,111.9 123.5,116.6 125.1,117.5 129.5,122 131.5,122.3 133.5,121.5 135.5,119.7 137.9,115.5 138.9,109.5 138.5,105.5 137.5,101.1 133.3,91.5 129.5,84.6 127.2,81.5 123.5,79.5 115.5,79.3Z"/>
<path fill="#90d4bd" stroke="#90d4bd" stroke-width="0.3" d="M91.5,47.4 101.5,47.4 107.5,48.3 117.5,51.1 127.5,55.5 133.6,59.5 140,65.5 147.5,74.5 153.4,83.5 157,91.5 159.2,99.5 160.1,107.5 159.7,117.5 157.7,127.5 154.7,135.5 152.6,139.5 149.5,144.1 144.9,149.5 143.9,149.5 149.1,143.5 153.5,136.4 155.5,131.9 158,123.5 159.3,113.5 159.2,105.5 158,97.5 155.5,89.6 151.4,81.5 147.2,75.5 136.7,63.5 132.3,59.5 126.1,55.5 119.5,52.4 110.4,49.5 103.5,48.1 93.5,47.6 87.5,48.2 81.4,49.5 75.4,51.5 69.5,54.4 64.9,57.5 60.7,61.5 57.5,65.8 55.5,69.7 52.4,79.5 48.7,87.5 46.6,93.5 44.9,101.5 44.3,111.5 44.8,117.5 45.9,123.5 48.4,131.5 53.5,141.5 59.6,149.5 58.7,149.5 55.5,145.5 50.5,137.5 47,129.5 44.8,121.5 43.8,113.5 43.8,105.5 45.4,95.5 47.2,89.5 51.8,79.5 54.2,71.5 56,67.5 60.2,61.5 62.1,59.5 67.1,55.5 71.5,52.9 79.5,49.7 90.6,47.5ZM115.5,79.3 123.5,79.5 127.2,81.5 129.5,84.6 133.3,91.5 137.5,101.1 138.5,105.5 138.9,109.5 137.9,115.5 135.5,119.7 133.5,121.5 131.5,122.3 129.5,122 125.1,117.5 123.5,116.6 109.5,111.9 107.5,110.9 105.5,110.6 105.1,105.5 105.5,100.5 106.8,95.5 108.4,83.5 109.5,81.5 111.5,80.3 114,79.5ZM113.1,81.5 110.8,83.5 110.4,85.5 111.7,89.5 110.8,93.5 109.4,95.5 109.4,99.5 113.5,92.7 114.4,91.5 115.5,91.3 118.1,93.5 119.5,95.4 119.5,97.3 119.2,97.5 121.5,97.3 123.5,99.6 124.1,101.5 124,103.5 123.5,104.3 119.6,105.5 113.5,106.7 112.2,107.5 105.5,107.9 105.5,109.6 109.5,109.9 116.6,111.5 125.5,112.6 129.5,116.6 131.5,117.7 133.5,117.5 135.6,115.5 136.4,113.5 136.9,111.5 136.9,107.5 135.5,101.4 131.5,92.8 127.5,86.1 125.4,83.5 121.5,81.5 117.5,81.1 113.5,81.4ZM107.4,101.5 107.5,103 108.7,101.5 107.5,100.4ZM105.5,105.5 105.5,106.6 106.8,105.5 105.5,105.3Z"/>
<path fill="#96d6bb" stroke="#96d6bb" stroke-width="0.3" d="M89.5,47.3 97.5,46.8 103.5,47.2 109.5,48.3 120.1,51.5 128.7,55.5 134.7,59.5 141.2,65.5 147.8,73.5 153.5,82.2 157.8,91.5 159.5,97.4 160.8,107.5 160.4,117.5 158.4,127.5 155.5,135.5 150.8,143.5 145.8,149.5 144.9,149.5 149.5,144.1 152.6,139.5 154.7,135.5 157.1,129.5 159.1,121.5 160.1,111.5 159.8,103.5 158.3,95.5 155.4,87.5 151,79.5 145.5,71.9 140,65.5 133.6,59.5 127.5,55.5 117.5,51.1 107.5,48.3 101.5,47.4 95.5,47.2 89.5,47.6 80.3,49.5 75.5,51.1 69.5,54 64.4,57.5 60.2,61.5 56,67.5 53.5,73.5 51.8,79.5 47.2,89.5 45.4,95.5 43.8,105.5 43.7,111.5 44.2,117.5 44.8,121.5 47,129.5 51.6,139.5 55.5,145.5 58.7,149.5 57.9,149.5 56.2,147.5 50.8,139.5 47.5,132.6 44.6,123.5 43.3,115.5 43.2,105.5 43.9,99.5 45.9,91.5 48.1,85.5 51.1,79.5 54.5,69.5 56.7,65.5 59.7,61.5 63.5,57.8 67.5,54.9 75.5,50.8 81.5,48.8 88,47.5ZM113.5,81.4 117.5,81.1 121.5,81.5 125.4,83.5 127.5,86.1 131.5,92.8 135.5,101.4 136.9,107.5 136.9,111.5 136.4,113.5 135.6,115.5 133.5,117.5 131.5,117.7 129.5,116.6 125.5,112.6 116.6,111.5 109.5,109.9 105.5,109.6 105.5,107.9 112.2,107.5 113.5,106.7 119.6,105.5 123.5,104.3 124,103.5 124.1,101.5 123.5,99.6 121.5,97.3 119.2,97.5 119.5,97.3 119.5,95.4 118.1,93.5 115.5,91.3 114.4,91.5 113.5,92.7 109.4,99.5 109.4,95.5 110.8,93.5 111.7,89.5 110.4,85.5 110.8,83.5 113.1,81.5ZM107.5,100.4 108.7,101.5 107.5,103 107.4,101.5ZM105.5,105.3 106.8,105.5 105.5,106.6 105.5,105.5Z"/>
<path fill="#9cd8b9" stroke="#9cd8b9" stroke-width="0.3" d="M87.5,47.2 97.5,46.4 108.1,47.5 117.5,50 127.5,54.2 135.5,59.2 142.3,65.5 147.3,71.5 153.5,80.7 157,87.5 159.8,95.5 161.4,105.5 161.3,115.5 159.5,126 156.2,135.5 151.6,143.5 146.7,149.5 145.8,149.5 150.8,143.5 155.5,135.5 157.8,129.5 159.8,121.5 160.8,111.5 160.5,103.5 159,95.5 156.2,87.5 151.5,78.8 145.5,70.5 139.3,63.5 133.5,58.6 128.7,55.5 120.1,51.5 109.5,48.3 101.5,47 93.5,46.9 85.5,47.9 79.5,49.4 73.5,51.6 67.5,54.9 63.5,57.8 59.7,61.5 55.5,67.5 52.9,73.5 51.1,79.5 48.1,85.5 45.9,91.5 43.9,99.5 43.2,105.5 43.5,117.5 44.6,123.5 46.3,129.5 50.8,139.5 54.7,145.5 57.9,149.5 57,149.5 51.2,141.5 47.5,134.3 45,127.5 43.5,121.5 42.5,113.5 42.5,105.5 43.6,97.5 46.6,87.5 50.4,79.5 53.1,71.5 55,67.5 57.6,63.5 61.2,59.5 66.1,55.5 73.5,51.3 77.5,49.7 86,47.5Z"/>
<path fill="#a2dbb7" stroke="#a2dbb7" stroke-width="0.3" d="M85.5,47.3 89.5,46.6 97.5,46 105.5,46.6 115.5,48.8 125.5,52.6 134.2,57.5 141.4,63.5 147.5,70.5 153.5,79.3 157.5,87 160.5,95.5 161.9,103.5 162.1,113.5 161.5,119.5 160.3,125.5 157.8,133.5 153.7,141.5 147.6,149.5 146.7,149.5 151.6,143.5 156.2,135.5 158.5,129.5 160.5,121.5 161.5,111.6 161.2,103.5 159.8,95.5 157,87.5 152.8,79.5 147.3,71.5 142.3,65.5 135.5,59.2 127.5,54.2 119.5,50.7 109.5,47.8 101.5,46.6 97.5,46.4 87.5,47.2 81.5,48.5 73.5,51.3 69.5,53.3 63.5,57.4 57.6,63.5 55,67.5 53.1,71.5 50.4,79.5 47.4,85.5 45.2,91.5 43.6,97.5 42.4,107.5 42.9,117.5 43.9,123.5 45.5,129 47.5,134.3 51.2,141.5 57,149.5 56.2,149.5 51.7,143.5 47.3,135.5 45.5,131 43.5,124.4 42.2,117.5 41.7,109.5 41.9,105.5 42.6,99.5 44.5,91.5 46.7,85.5 49.7,79.5 53.5,69.5 55.5,65.9 58.8,61.5 63.5,57 71.5,51.9 77.5,49.4 84.4,47.5Z"/>
<path fill="#a8ddb5" stroke="#a8ddb5" stroke-width="0.3" d="M83.5,47.4 93.5,45.8 103.5,45.9 113.5,47.7 123.5,51.1 132.2,55.5 137.9,59.5 145.5,66.9 152,75.5 155.5,81.3 160,91.5 161.5,96.8 162.6,103.5 162.8,111.5 161.8,121.5 159.2,131.5 155.5,139.8 153.2,143.5 148.5,149.5 147.6,149.5 153.7,141.5 157.8,133.5 159.8,127.5 161.5,119.5 162.2,111.5 161.9,103.5 160.5,95.5 157.5,87 153.5,79.3 147.5,70.5 141.4,63.5 134.2,57.5 127.4,53.5 119.5,50.1 111.5,47.7 101.5,46.2 97.5,46 87.5,46.9 77.5,49.4 71.5,51.9 65.5,55.5 60.7,59.5 57.5,63.1 54.5,67.5 51.8,73.5 49.7,79.5 46.7,85.5 44.5,91.5 42.6,99.5 41.9,105.5 41.7,109.5 42.2,117.5 44.3,127.5 47.3,135.5 49.3,139.5 51.7,143.5 56.2,149.5 55.3,149.5 49.7,141.5 46.6,135.5 43.5,127 42.2,121.5 41.2,113.5 41.1,107.5 41.6,101.5 43.5,92.6 45.2,87.5 49.5,78.3 52,71.5 53.5,68.5 55.5,65.2 59.5,60.3 65,55.5 71.5,51.6 75.5,49.8 83,47.5Z"/>
<path fill="#addfb7" stroke="#addfb7" stroke-width="0.3" d="M93.5,45.5 101.5,45.3 111.5,46.7 121.5,49.7 129.5,53.3 136.2,57.5 143.5,63.8 146.9,67.5 151.5,73.5 156.4,81.5 160.8,91.5 162.7,99.5 163.5,107.5 163,117.5 161.1,127.5 158.3,135.5 155.2,141.5 149.3,149.5 148.5,149.5 153.2,143.5 157.6,135.5 160.4,127.5 162.4,117.5 162.8,111.5 162.6,103.5 161.2,95.5 158.5,87.5 154.5,79.5 149.5,72 143.5,64.7 137.9,59.5 132.2,55.5 123.5,51.1 113.5,47.7 105.5,46.1 99.5,45.7 91.5,46 85.5,46.9 75.5,49.8 71.5,51.6 65,55.5 59.5,60.3 55.3,65.5 52,71.5 49.5,78.3 45.2,87.5 43.5,92.6 41.6,101.5 41.1,107.5 41.2,113.5 42.2,121.5 43.5,127 46.6,135.5 48.6,139.5 52.3,145.5 55.3,149.5 54.5,149.5 51.5,145.5 47.5,138.8 43.6,129.5 41.5,121.5 40.7,115.5 40.6,105.5 41.5,98.4 43.8,89.5 51.5,71.5 53.5,67.6 58,61.5 62,57.5 67.5,53.5 71.5,51.3 79.5,48.1 87.5,46.2 93.2,45.5Z"/>
<path fill="#b2e1b9" stroke="#b2e1b9" stroke-width="0.3" d="M91.5,45.3 101.5,44.9 109.5,45.8 119.5,48.4 129.5,52.7 137.2,57.5 144.1,63.5 149.4,69.5 156.1,79.5 159.5,86.2 162.6,95.5 163.9,103.5 164,113.5 162.7,123.5 159.8,133.5 155.5,142.2 150.1,149.5 149.3,149.5 155.2,141.5 158.3,135.5 161.1,127.5 163,117.5 163.5,111.5 163,101.5 161.4,93.5 158.4,85.5 154.1,77.5 146.9,67.5 141.5,61.8 135.5,57 127.5,52.3 117.5,48.3 109.5,46.3 101.5,45.3 93.2,45.5 83.5,47 75.5,49.5 71.5,51.3 65.5,54.8 62,57.5 56.3,63.5 53.5,67.6 43.8,89.5 41.5,98.4 40.6,105.5 40.9,117.5 41.5,121.5 43.5,129.2 47.5,138.8 51.5,145.5 54.5,149.5 53.7,149.5 48.3,141.5 44.4,133.5 41.8,125.5 40.3,117.5 39.9,111.5 40,105.5 41.5,95.4 43.5,88.5 45.5,83.5 53.1,67.5 57.5,61.5 61.5,57.5 67,53.5 73.5,50 81.5,47.2 90.1,45.5Z"/>
<path fill="#b6e3bb" stroke="#b6e3bb" stroke-width="0.3" d="M89.5,45.2 101.5,44.5 109.5,45.3 117.5,47.2 127.5,51.1 135.5,55.7 142.9,61.5 149.5,68.6 155.8,77.5 160,85.5 161.6,89.5 163.3,95.5 164.7,105.5 164.5,115.5 162.9,125.5 159.5,135.8 155.4,143.5 151,149.5 150.1,149.5 154.7,143.5 159,135.5 161.5,128.3 163.4,119.5 164.1,111.5 163.7,101.5 162.1,93.5 159.2,85.5 153.7,75.5 147.8,67.5 141.5,61 135.5,56.3 127.5,51.7 119.5,48.4 109.5,45.8 101.5,44.9 93.5,45.1 87.5,45.9 81.5,47.2 73.5,50 67,53.5 61.5,57.5 55.5,64 52,69.5 43.5,88.5 40.7,99.5 39.9,107.5 40.1,115.5 40.6,119.5 41.3,123.5 43.5,131.1 47.5,140.1 53.7,149.5 53,149.5 48.8,143.5 45.5,137.5 43,131.5 41.2,125.5 39.5,115.5 39.8,101.5 41.5,93 44,85.5 49.5,73.5 52.7,67.5 55.4,63.5 61.1,57.5 67.5,52.8 73.5,49.7 81.5,46.9 87.9,45.5Z"/>
<path fill="#bbe4be" stroke="#bbe4be" stroke-width="0.3" d="M87.5,45.2 97.5,44.1 107.5,44.6 115.5,46.1 125.5,49.6 135.5,55 143.8,61.5 151.1,69.5 156.6,77.5 161.5,87.4 164,95.5 165.2,103.5 165.1,115.5 163.5,125.5 161.1,133.5 157.4,141.5 151.7,149.5 151,149.5 155.4,143.5 159.5,135.8 161.8,129.5 163.7,121.5 164.5,115.5 164.8,107.5 164.1,99.5 162.8,93.5 160,85.5 155.8,77.5 151.5,71.2 146.9,65.5 142.9,61.5 138.1,57.5 131.5,53.2 123.8,49.5 117.5,47.2 109.5,45.3 101.5,44.5 95.5,44.6 89.5,45.2 81.5,46.9 73.5,49.7 67.5,52.8 63.6,55.5 59,59.5 55.4,63.5 51.5,69.5 43.5,86.8 40.9,95.5 39.5,104.2 39.5,99.5 40.3,95.5 43.4,85.5 51,69.5 55,63.5 60.7,57.5 67.5,52.5 71.5,50.3 77.5,47.8 86.2,45.5ZM39.5,115.5 41.2,125.5 43.5,132.8 47.6,141.5 53,149.5 52.3,149.5 48.1,143.5 43.5,134.3 41.5,128.7 40.2,123.5 39.5,120 39.5,115.5Z"/>
<path fill="#c0e6c0" stroke="#c0e6c0" stroke-width="0.3" d="M85.5,45.3 93.5,44 105.5,43.9 115.5,45.6 123.5,48.2 131.5,52 135.5,54.4 141.5,58.8 149.5,66.6 155.5,74.5 160.6,83.5 163.5,91 165.5,100.3 166,105.5 166,111.5 164.9,121.5 163.5,127.9 161.5,134.1 157.5,142.4 152.5,149.5 151.7,149.5 157.4,141.5 160.3,135.5 163,127.5 164.3,121.5 165.1,115.5 165.4,107.5 165,101.5 163.5,93.5 160.7,85.5 156.6,77.5 152.6,71.5 147.7,65.5 143.8,61.5 137.5,56.4 131.5,52.6 125.5,49.6 119.5,47.3 111.5,45.2 103.5,44.2 97.5,44.1 87.5,45.2 81.5,46.6 73.5,49.4 67.5,52.5 63.1,55.5 57.5,60.6 53.5,65.5 51,69.5 43.4,85.5 41.3,91.5 39.5,99.5 39.5,96.6 40.2,93.5 43.5,83.9 50.6,69.5 55.5,62.4 58.1,59.5 62.6,55.5 69.5,51 77.5,47.5 84.6,45.5ZM39.8,121.5 41.5,128.7 44,135.5 48.1,143.5 52.3,149.5 51.5,149.4 47.5,143.5 43.4,135.5 40.6,127.5 39.5,123 39.5,120Z"/>
<path fill="#c5e8c2" stroke="#c5e8c2" stroke-width="0.3" d="M97.5,43.4 105.5,43.5 115.5,45.1 123,47.5 131.5,51.4 137.5,55.1 141.5,58.1 147.5,63.6 154.2,71.5 159.3,79.5 163,87.5 165.5,96.3 166.5,103.5 166.5,113.5 164.7,125.5 161.6,135.5 157.5,143.6 153.3,149.5 152.5,149.5 157.5,142.4 160.1,137.5 163.5,127.9 164.9,121.5 166,111.5 166,105.5 165.4,99.5 164.2,93.5 162.3,87.5 159.5,81.3 155.5,74.5 150.3,67.5 144.6,61.5 139.9,57.5 131.5,52 126.5,49.5 115.5,45.6 107.5,44.1 99.5,43.7 93.5,44 83.5,45.7 77.5,47.5 69.5,51 65.5,53.4 60.2,57.5 55.5,62.4 53.1,65.5 49.5,71.5 43.5,83.9 41.5,89.1 39.5,96.6 39.5,94.2 41.5,87.5 44,81.5 49,71.5 53.5,64.4 55.8,61.5 59.8,57.5 63.5,54.5 68.1,51.5 75.5,47.9 85.5,44.9 95.7,43.5ZM39.6,123.5 41.5,130.5 44.3,137.5 47.5,143.5 51.6,149.5 50.9,149.5 47.5,144.5 43.7,137.5 41.3,131.5 39.5,125.5 39.5,123Z"/>
<path fill="#caeac4" stroke="#caeac4" stroke-width="0.3" d="M93.5,43.3 101.5,42.9 109.5,43.5 113.5,44.2 118.7,45.5 124.4,47.5 132.7,51.5 141.5,57.4 148.3,63.5 155,71.5 160.1,79.5 163.5,86.9 165.6,93.5 167.1,103.5 167.1,113.5 165.5,124.6 163,133.5 159.5,141.4 154.1,149.5 153.3,149.5 157.5,143.6 161.6,135.5 163.7,129.5 165.5,121.5 166.5,113.5 166.6,105.5 166.3,101.5 164.9,93.5 163,87.5 159.3,79.5 155.5,73.3 151.1,67.5 145.4,61.5 141.5,58.1 135.5,53.8 127.5,49.4 123,47.5 115.5,45.1 107.5,43.7 99.5,43.3 91.5,43.9 85.5,44.9 75.5,47.9 69.5,50.7 64.9,53.5 59.8,57.5 55.8,61.5 51.5,67.2 43.5,82.6 41.5,87.5 39.5,94.2 39.5,92.3 41.5,86.2 43.5,81.4 48.5,71.5 52.2,65.5 57.5,59.3 63.5,54.1 67.5,51.5 73.5,48.4 81.5,45.6 92.1,43.5ZM39.5,125.5 41.3,131.5 43.7,137.5 46.9,143.5 50.9,149.5 50.3,149.5 47.5,145.5 43.2,137.5 39.5,127.5 39.5,125.4Z"/>
<path fill="#cdecc6" stroke="#cdecc6" stroke-width="0.3" d="M91.5,43.2 101.5,42.5 107.5,42.8 112.3,43.5 119.5,45.2 129.5,49.2 139.8,55.5 147,61.5 154.3,69.5 159.7,77.5 162.8,83.5 164.4,87.5 166.7,95.5 167.6,101.5 167.7,113.5 165.9,125.5 162.9,135.5 160.1,141.5 154.8,149.5 154.1,149.5 157.5,144.7 161.4,137.5 164.3,129.5 166.1,121.5 167.1,113.5 167.3,107.5 166.7,99.5 165.6,93.5 163.5,86.9 160.1,79.5 156.4,73.5 151.9,67.5 148.3,63.5 141.5,57.4 136,53.5 128.9,49.5 121.5,46.4 113.5,44.2 109.5,43.5 101.5,42.9 95.5,43.1 87.5,44.2 81.5,45.6 73.5,48.4 67.5,51.5 63.5,54.1 57.5,59.3 53.7,63.5 48.5,71.5 43.5,81.4 39.5,92.3 39.5,90.6 41.2,85.5 47,73.5 51.8,65.5 57.5,58.8 63.9,53.5 71.5,49 77.5,46.5 83.5,44.7 89.6,43.5ZM39.5,127.5 43.2,137.5 47.5,145.5 50.3,149.5 49.7,149.5 48.3,147.5 43.6,139.5 39.6,129.5 39.5,127.3Z"/>
<path fill="#d0edc9" stroke="#d0edc9" stroke-width="0.3" d="M89.5,43.1 101.5,42.1 109.5,42.6 115.5,43.7 121.5,45.4 129.5,48.7 137.9,53.5 145.5,59.3 153.5,67.5 159.5,75.9 163.5,83.5 166.9,93.5 168.2,101.5 168.3,113.5 167,123.5 166.1,127.5 163.5,135.5 160.8,141.5 155.6,149.5 154.8,149.5 160.1,141.5 162.9,135.5 164.9,129.5 166.7,121.5 167.7,113.5 167.9,107.5 167.6,101.5 165.7,91.5 163.5,85.2 160.8,79.5 157.2,73.5 152.7,67.5 149.1,63.5 142.5,57.5 135.5,52.6 129.5,49.2 119.5,45.2 113.5,43.7 107.5,42.8 101.5,42.5 91.5,43.2 83.5,44.7 77.5,46.5 71.5,49 65.5,52.4 61.2,55.5 56.8,59.5 53.3,63.5 49.2,69.5 43.9,79.5 41.2,85.5 39.5,90.6 39.5,89 41.5,83.6 48.7,69.5 52.9,63.5 57.5,58.4 63.5,53.4 71.5,48.7 79.5,45.5 87.6,43.5ZM39.6,129.5 43.6,139.5 49.7,149.5 49.1,149.5 47.7,147.5 43.1,139.5 39.8,131.5 39.5,129Z"/>
<path fill="#d3eecc" stroke="#d3eecc" stroke-width="0.3" d="M87.5,43.1 95.5,42 101.5,41.7 109.5,42.2 117.5,43.7 128.2,47.5 137.5,52.6 145.5,58.6 153.5,66.6 160,75.5 164.2,83.5 167.5,93.5 169,103.5 168.9,113.5 167.6,123.5 164.9,133.5 161.4,141.5 156.3,149.5 155.6,149.5 159.5,143.7 162.7,137.5 164.9,131.5 167,123.5 168.3,113.5 168.5,107.5 168,99.5 166.9,93.5 165.1,87.5 161.5,79.4 157.5,72.9 153.5,67.5 147.9,61.5 143.3,57.5 137.9,53.5 131.5,49.7 123.5,46.1 117.5,44.2 111.5,42.9 105.5,42.3 97.5,42.2 89.5,43.1 81.5,44.9 75.5,46.9 69.5,49.7 63.5,53.4 57.5,58.4 54.6,61.5 50,67.5 46.5,73.5 41.5,83.6 39.5,89 39.5,87.5 41.9,81.5 47.1,71.5 52.4,63.5 58,57.5 63.5,53 69.3,49.5 75.5,46.6 85.9,43.5ZM39.8,131.5 44.1,141.5 49.1,149.5 48.6,149.5 47.2,147.5 43.6,141.5 40,133.5 39.5,130.6Z"/>
<path fill="#d5efcf" stroke="#d5efcf" stroke-width="0.3" d="M97.5,41.5 105.5,41.4 115.5,42.7 125.5,45.8 133.5,49.6 142.5,55.5 149.5,61.5 156.6,69.5 161.9,77.5 165.7,85.5 168.6,95.5 169.7,105.5 169.5,113.6 168.6,121.5 166.2,131.5 162.1,141.5 157,149.5 156.3,149.5 160.3,143.5 163.5,137.1 165.5,131.6 167.6,123.5 168.9,113.5 169.1,105.5 168.3,97.5 167,91.5 164.2,83.5 161.2,77.5 157.3,71.5 153.5,66.6 148.7,61.5 144.2,57.5 137.5,52.6 131.5,49.1 123.3,45.5 117.5,43.7 113.5,42.8 105.5,41.8 95.5,42 87.5,43.1 83.5,44 75.5,46.6 69.3,49.5 63.5,53 58,57.5 54.1,61.5 50.9,65.5 47.1,71.5 41.9,81.5 39.5,87.6 39.5,86.2 41.4,81.5 46.6,71.5 49.1,67.5 55.5,59.5 61.5,54.1 69.5,49 77.5,45.5 85.5,43.2 97.3,41.5ZM40,133.5 43.6,141.5 48.6,149.5 48,149.5 46.6,147.5 43.1,141.5 39.5,133.5 39.5,132Z"/>
<path fill="#d8f0d2" stroke="#d8f0d2" stroke-width="0.3" d="M93.5,41.4 103.5,40.9 113.5,41.9 123.5,44.5 133.5,49 140.7,53.5 149.5,60.7 155.8,67.5 160.2,73.5 162.6,77.5 166.3,85.5 168.8,93.5 170.1,101.5 170.2,113.5 168.8,123.5 166.2,133.5 162.8,141.5 157.8,149.5 157,149.5 161,143.5 164,137.5 166.2,131.5 167.8,125.5 168.9,119.5 169.7,109.5 169.6,103.5 168.6,95.5 166.4,87.5 163.5,80.6 160.7,75.5 156.6,69.5 151.5,63.5 147.5,59.6 139.5,53.3 133.5,49.6 125.5,45.8 117.5,43.2 113.5,42.3 105.5,41.4 93.5,41.8 85.5,43.2 77.5,45.5 71.5,48 65.3,51.5 61.5,54.1 55.5,59.5 50.5,65.5 46.6,71.5 41.4,81.5 39.5,86.2 39.5,85 40.9,81.5 45,73.5 48.6,67.5 53.2,61.5 59.3,55.5 65.5,51 73.5,46.7 83.5,43.3 93.2,41.5ZM39.5,133.5 43.1,141.5 48,149.5 47.5,149.5 46.1,147.5 42.6,141.5 39.8,135.5 39.5,133.4Z"/>
<path fill="#dbf1d5" stroke="#dbf1d5" stroke-width="0.3" d="M91.5,41.3 99.5,40.5 109.5,40.8 119.5,42.7 129.5,46.4 139.5,52 147.5,58.1 154.9,65.5 160.9,73.5 166.2,83.5 168.9,91.5 170.5,99.5 171,109.5 170.4,117.5 168.1,129.5 164.4,139.5 162.4,143.5 158.5,149.5 157.8,149.5 162.8,141.5 166.2,133.5 169.2,121.5 170.2,113.5 170.4,107.5 170.1,101.5 168.8,93.5 166.3,85.5 163.5,79.2 160.2,73.5 155.8,67.5 152.3,63.5 145.9,57.5 140.7,53.5 133.5,49 127.5,46.1 120.3,43.5 113.5,41.9 107.5,41.1 99.5,40.9 93.5,41.4 85.5,42.8 77.5,45.1 69.5,48.6 64.7,51.5 59.3,55.5 55.1,59.5 48.6,67.5 42.9,77.5 39.5,85 39.5,83.7 41.5,79.2 48.1,67.5 52.7,61.5 59.5,54.9 65.5,50.6 73.5,46.3 83.5,42.9 90.4,41.5ZM39.8,135.5 43.5,143.2 47.5,149.5 46.9,149.5 43.1,143.5 39.5,135.9 39.5,134.6Z"/>
<path fill="#ddf2d8" stroke="#ddf2d8" stroke-width="0.3" d="M89.5,41.2 101.5,40 111.5,40.6 119.5,42.2 129.5,45.8 139.5,51.3 147.5,57.3 155.7,65.5 161.5,73.3 166,81.5 169,89.5 171.1,99.5 171.6,109.5 170.5,121.5 167.5,133.5 163.1,143.5 159.2,149.5 158.5,149.5 162.4,143.5 166.1,135.5 168.1,129.5 169.8,121.5 170.8,113.5 171,107.5 170.5,99.5 168.9,91.5 167,85.5 163.3,77.5 156.6,67.5 151.2,61.5 145.5,56.4 139.5,52 133.5,48.4 125.5,44.7 119.5,42.7 113.5,41.4 105.5,40.5 97.5,40.6 89.5,41.6 83.5,42.9 73.5,46.3 67.5,49.4 61.3,53.5 56.6,57.5 52.7,61.5 46.8,69.5 41.5,79.2 39.5,83.7 39.5,82.5 40.8,79.5 46.3,69.5 51.5,62.4 58.3,55.5 63.5,51.5 71.5,46.9 79.5,43.7 88.1,41.5ZM40.2,137.5 43.1,143.5 46.9,149.5 46.3,149.5 42.6,143.5 39.5,137.1 39.5,135.9Z"/>
<path fill="#e0f3db" stroke="#e0f3db" stroke-width="0.3" d="M87.5,41.2 95.5,39.9 107.5,39.7 117.5,41.2 123.5,42.9 129.5,45.2 139.5,50.6 146.3,55.5 154.8,63.5 161.1,71.5 166.7,81.5 169.5,89.1 171.8,99.5 172.3,109.5 171.2,121.5 168.2,133.5 163.8,143.5 160,149.5 159.2,149.5 163.1,143.5 166.8,135.5 168.7,129.5 170.5,121.5 171.6,109.5 171.5,103.5 170.5,95.5 168.4,87.5 166,81.5 164,77.5 158.9,69.5 153.5,63 147.5,57.3 139.5,51.3 135.5,48.9 129.5,45.8 121.5,42.8 113.5,40.9 107.5,40.2 101.5,40 93.5,40.6 85.5,42 77.5,44.4 69.5,47.9 63.5,51.5 58.3,55.5 53.5,60.1 49.5,64.9 46.3,69.5 39.5,82.5 39.5,81.3 41.5,77.1 47.1,67.5 51.5,61.8 57.5,55.7 63.5,51.1 71.5,46.5 81.5,42.6 86.1,41.5ZM39.7,137.5 42.6,143.5 46.3,149.5 45.7,149.5 42,143.5 39.5,138.3 39.5,137.1Z"/>
<path fill="#e3f4de" stroke="#e3f4de" stroke-width="0.3" d="M95.5,39.5 105.5,39.1 115.5,40.2 123.5,42.3 133.5,46.4 137.5,48.6 144.8,53.5 151.5,59.2 159.5,68.1 164.4,75.5 168.3,83.5 171.4,93.5 172.9,103.5 173,111.5 171.9,121.5 170.2,129.5 166.6,139.5 160.9,149.5 160,149.5 163.8,143.5 168.2,133.5 171.2,121.5 172,115.5 172.3,105.5 171.8,99.5 170.2,91.5 168.3,85.5 165.5,79.1 162.4,73.5 158.2,67.5 153.5,62.1 148.7,57.5 143.7,53.5 135.5,48.2 129.5,45.2 123.5,42.9 117.5,41.2 111.5,40.1 105.5,39.6 95.5,39.9 89.5,40.7 81.5,42.6 75.5,44.7 69.5,47.5 62.9,51.5 57.5,55.7 53.5,59.6 48.5,65.5 44.6,71.5 39.5,81.3 39.5,80.1 40.7,77.5 44,71.5 48,65.5 53,59.5 61.5,52 67.5,48.1 73.5,45.1 79.5,42.8 85.5,41.1 95.4,39.5ZM40,139.5 45.7,149.5 45.1,149.5 42.6,145.5 39.5,139.5 39.5,138.3Z"/>
<path fill="#e6f5e1" stroke="#e6f5e1" stroke-width="0.3" d="M93.5,39.2 97.5,38.7 105.5,38.5 113.5,39.3 119.5,40.5 125.5,42.3 133.5,45.7 141.5,50.3 149.5,56.4 156.7,63.5 162.8,71.5 168.2,81.5 171.1,89.5 173.2,99.5 173.8,109.5 172.4,123.5 170.4,131.5 166.4,141.5 161.7,149.5 160.9,149.5 164.6,143.5 168.2,135.5 170.2,129.5 171.9,121.5 172.9,113.5 173,105.5 172.5,99.5 171.4,93.5 169.5,86.9 166.5,79.5 163.2,73.5 159.5,68.1 155.7,63.5 149.5,57.4 144.8,53.5 137.5,48.6 133.5,46.4 123.5,42.3 117.5,40.6 109.5,39.4 99.5,39.1 93.5,39.7 85.5,41.1 79.5,42.8 73.5,45.1 67.5,48.1 61.5,52 55.5,57 51.2,61.5 47.5,66.2 44,71.5 39.5,80.1 39.5,78.8 41.5,74.9 44.6,69.5 48.9,63.5 54.4,57.5 59.5,53.1 63.5,50.1 73.5,44.6 81.5,41.7 91.5,39.5ZM40.4,141.5 45.1,149.5 44.4,149.5 40.8,143.5 39.5,140.8 39.5,139.5Z"/>
<path fill="#e9f7e3" stroke="#e9f7e3" stroke-width="0.3" d="M89.5,39.2 93.5,38.5 101.5,37.9 109.5,38.2 119.5,39.9 129.5,43.1 137.5,47 147.2,53.5 151.5,57.1 155.9,61.5 162.4,69.5 168.1,79.5 171.3,87.5 173,93.5 173.7,97.5 174.7,107.5 174.2,117.5 172.4,127.5 168.3,139.5 162.7,149.5 161.7,149.5 166.4,141.5 170.4,131.5 172.4,123.5 173,119.5 173.8,109.5 173.6,103.5 172.6,95.5 171.1,89.5 169.8,85.5 166.3,77.5 162.8,71.5 158.4,65.5 152.9,59.5 147.5,54.7 141.5,50.3 135.5,46.7 125.5,42.3 119.5,40.5 107.5,38.6 95.5,38.9 85.5,40.6 79.5,42.3 73.5,44.6 63.5,50.1 54.4,57.5 48.9,63.5 44.6,69.5 39.5,78.8 39.5,77.5 40.4,75.5 46.7,65.5 51.8,59.5 57.5,54.1 65.5,48.3 71.5,45 81.5,41.1 88.5,39.5ZM39.8,141.5 44.4,149.5 43.5,149.1 40.1,143.5 39.5,142.2 39.5,140.8Z"/>
<path fill="#ecf8e6" stroke="#ecf8e6" stroke-width="0.3" d="M87.5,38.7 98.6,37.5 108.1,37.5 117.5,38.5 125.5,40.6 135.5,44.9 145.5,51 149.5,54.1 155.3,59.5 162.1,67.5 168.2,77.5 172.3,87.5 174.4,95.5 175.6,107.5 175,119.5 172.9,129.5 170.2,137.5 168.4,141.5 163.8,149.5 162.7,149.5 168.3,139.5 170.6,133.5 172.4,127.5 173.9,119.5 174.7,109.5 174.5,103.5 172.5,91.5 169.9,83.5 166.1,75.5 162.4,69.5 159.5,65.7 154,59.5 149.5,55.4 143.5,50.8 137.5,47 127.5,42.3 119.5,39.9 111.5,38.4 103.5,37.9 97.5,38.1 91.5,38.8 81.5,41.1 73.5,44.1 67.5,47.1 61.5,50.9 57.5,54.1 51.8,59.5 46.7,65.5 42.7,71.5 39.5,77.5 39.5,76 40.6,73.5 44.4,67.5 50.9,59.5 55.5,55 63.5,48.7 66.1,47.5 67.5,46.3 73.9,43.5 75.5,42.4 78.9,41.5 81.5,40.3 85.7,39.5ZM40.1,143.5 43.8,149.5 42.7,149.5 39.5,143.6 39.5,142.2Z"/>
<path fill="#eff9e9" stroke="#eff9e9" stroke-width="0.3" d="M83.5,37.5 98.6,37.5 89.5,38.3 81.5,40.3 78.9,41.5 75.5,42.4 73.9,43.5 67.5,46.3 66.1,47.5 63.5,48.7 55.5,55 50.9,59.5 44.4,67.5 40.6,73.5 39.5,76 39.5,71.5 43.5,67.5 43.5,65.5 59.5,49.5 61.5,49.5 65.5,45.5 67.5,45.5 69.5,43.5 71.5,43.5 73.5,41.5 75.5,41.5 77.5,39.5 81.5,39.5ZM109.5,37.5 123.5,37.5 125.5,39.5 129.5,39.5 131.5,41.5 135.5,41.5 135.5,39.5 135.5,43.5 139.5,43.5 139.5,41.5 139.5,45.5 141.5,45.5 145.5,49.5 149.5,49.5 149.5,51.5 163.5,65.5 163.5,67.5 167.5,71.5 167.5,73.5 169.5,73.5 171.5,71.5 171.5,69.5 171.5,71.5 169.5,73.5 169.5,77.5 173.5,77.5 171.5,77.5 171.5,81.5 173.5,83.5 173.5,87.5 175.5,89.5 175.5,95.5 177.5,97.5 177.5,123.5 175.5,125.5 175.5,130.5 176.5,131.5 177.5,133.5 177.5,137.5 175.5,139.5 177.5,141.5 177.5,143.5 175.5,143.5 171.5,147.5 172.2,149.5 163.8,149.5 168.4,141.5 172.3,131.5 174.7,121.5 175.6,111.5 175.4,103.5 174,93.5 170.9,83.5 166,73.5 160.6,65.5 155.3,59.5 149.5,54.1 141.5,48.3 135.5,44.9 125.5,40.6 117.5,38.5 108.1,37.5ZM174.5,133.5 175.5,134.5 177.5,133.5 175.5,132.5ZM173.5,135.5 172.5,137.5 171.5,138.5 171.5,142.2 173.5,140.5 175.5,139.5 177.5,137.5 175.5,136.5 173.5,134.5ZM169.5,145.5 171.5,147.5 173.5,145.5 171.5,144.8ZM149.5,39.5 151.5,37.5 149.5,39.5 148.5,41.5 147.5,42.2 146.8,41.5 149.5,39.5ZM159.5,45.5 161.5,47.5 159.5,45.5ZM155.5,47.5 153.5,49.5 153.5,51.5 153.5,49.5 155.5,47.5ZM165.5,49.5 165.5,51.5 165.5,49.5ZM175.5,63.5 177.5,63.5 175.5,63.5ZM40.4,145.5 42.7,149.5 41.5,149.5 39.5,147.5 39.5,143.6Z"/>
<path fill="#f2faec" stroke="#f2faec" stroke-width="0.3" d="M41.5,37.5 91.5,37.5 83.5,37.5 81.5,39.5 77.5,39.5 75.5,41.5 73.5,41.5 71.5,43.5 69.5,43.5 67.5,45.5 65.5,45.5 61.5,49.5 59.5,49.5 43.5,65.5 43.5,67.5 39.5,71.5 39.5,73.5 39.5,37.5ZM117.5,37.5 151.5,37.5 146.8,41.5 147.5,42.2 148.5,41.5 149.5,39.5 151.5,37.5 177.5,37.5 177.5,63.5 175.5,63.5 177.5,63.5 177.5,97.5 175.5,95.5 175.5,89.5 173.5,87.5 173.5,83.5 171.5,81.5 171.5,77.5 173.5,77.5 169.5,77.5 169.5,73.5 171.5,71.5 171.5,69.5 171.5,71.5 169.5,73.5 167.5,73.5 167.5,71.5 163.5,67.5 163.5,65.5 149.5,51.5 149.5,49.5 145.5,49.5 141.5,45.5 139.5,45.5 139.5,41.5 139.5,43.5 135.5,43.5 135.5,39.5 135.5,41.5 131.5,41.5 129.5,39.5 125.5,39.5 123.5,37.5 117.5,37.5ZM159.5,45.5 161.5,47.5 159.5,45.5ZM155.5,47.5 153.5,49.5 153.5,51.5 153.5,49.5 155.5,47.5ZM165.5,49.5 165.5,51.5 165.5,49.5ZM177.5,101.5 177.5,133.5 176.5,131.5 175.5,130.5 175.5,125.5 177.5,123.5 177.5,103.5ZM175.5,132.5 177.5,133.5 175.5,134.5 174.5,133.5ZM173.5,134.5 175.5,136.5 177.5,137.5 175.5,139.5 173.5,140.5 171.5,142.2 171.5,138.5 172.5,137.5 173.5,135.5ZM177.5,137.5 177.5,141.5 175.5,139.5ZM39.5,145.5 39.5,147.5 41.5,149.5 39.5,149.5 39.5,145.5ZM171.5,144.8 173.5,145.5 171.5,147.5 169.5,145.5ZM175.5,143.5 177.5,143.5 177.5,149.5 172.2,149.5 171.5,147.5 173.5,145.5Z"/>
</g>
<g clip-path="url(#pc1)"><path d="M41.1,75.0L42.2,73.1M43.0,71.9L44.2,70.0M45.0,68.9L46.3,67.1M47.1,65.9L48.5,64.2M49.4,63.1L50.9,61.5M51.8,60.5L53.4,58.9M54.4,57.9L56.0,56.4M57.1,55.5L58.8,54.1M59.9,53.2L61.7,51.9M62.8,51.0L64.7,49.8M65.9,49.1L67.8,47.9M69.0,47.2L70.9,46.2M72.2,45.6L74.2,44.6M75.5,44.0L77.5,43.2M78.9,42.7L80.9,42.0M82.3,41.5L84.4,40.9M85.8,40.5L87.9,40.0M89.3,39.7L91.5,39.3M92.9,39.1L95.1,38.8M96.5,38.6L98.7,38.5M100.1,38.4L102.3,38.3M103.7,38.3L105.9,38.3M107.3,38.4L109.5,38.5M110.9,38.7L113.1,38.9M114.5,39.1L116.7,39.5M118.1,39.8L120.2,40.3M121.6,40.6L123.7,41.2M125.1,41.6L127.2,42.3M128.5,42.8L130.6,43.6M131.9,44.1L133.9,45.0M135.2,45.6L137.1,46.6M138.4,47.3L140.3,48.4M141.5,49.2L143.4,50.4M144.5,51.2L146.3,52.5M147.5,53.3L149.2,54.7M150.3,55.6L151.9,57.1M152.9,58.0L154.5,59.6M155.5,60.6L157.0,62.2M157.9,63.3L159.3,65.0M160.2,66.1L161.5,67.9M162.4,69.0L163.6,70.9M164.3,72.1L165.5,74.0M166.2,75.2L167.2,77.1M167.8,78.4L168.8,80.4M169.4,81.7L170.2,83.7M170.7,85.1L171.4,87.1M171.9,88.5L172.5,90.6M172.9,92.0L173.4,94.1M173.7,95.5L174.1,97.7M174.3,99.1L174.6,101.3M174.8,102.7L174.9,104.9M175.0,106.3L175.1,108.5M175.1,109.9L175.1,112.1M175.0,113.5L174.9,115.7M174.7,117.1L174.5,119.3M174.3,120.7L173.9,122.9M173.6,124.3L173.1,126.4M172.8,127.8L172.2,129.9M171.8,131.3L171.1,133.4M170.6,134.7L169.8,136.8M169.3,138.1L168.4,140.1M167.8,141.4L166.8,143.3M166.1,144.6L165.0,146.5M47.2,78.5L48.3,76.6M49.0,75.4L50.2,73.5M51.1,72.4L52.4,70.6M53.2,69.5L54.6,67.8M55.6,66.7L57.1,65.1M58.1,64.1L59.6,62.6M60.7,61.6L62.4,60.2M63.5,59.3L65.2,58.0M66.4,57.1L68.2,55.9M69.4,55.1L71.3,54.0M72.5,53.3L74.4,52.3M75.7,51.6L77.7,50.7M79.0,50.2L81.1,49.4M82.4,48.9L84.5,48.2M85.8,47.8L88.0,47.2M89.3,46.9L91.5,46.4M92.9,46.2L95.1,45.9M96.5,45.7L98.7,45.5M100.1,45.4L102.3,45.3M103.7,45.3L105.9,45.3M107.3,45.4L109.5,45.6M110.9,45.7L113.1,46.0M114.5,46.2L116.7,46.6M118.1,46.9L120.2,47.5M121.6,47.8L123.7,48.5M125.0,48.9L127.1,49.7M128.4,50.2L130.4,51.1M131.7,51.7L133.6,52.7M134.9,53.4L136.8,54.5M138.0,55.2L139.9,56.4M141.0,57.3L142.8,58.6M143.9,59.4L145.6,60.8M146.7,61.8L148.3,63.3M149.3,64.3L150.8,65.8M151.8,66.9L153.2,68.6M154.1,69.7L155.4,71.4M156.3,72.6L157.5,74.4M158.3,75.6L159.4,77.5M160.1,78.7L161.1,80.6M161.8,81.9L162.7,83.9M163.2,85.2L164.0,87.3M164.5,88.6L165.2,90.7M165.6,92.0L166.2,94.2M166.5,95.5L167.0,97.7M167.2,99.1L167.5,101.3M167.7,102.7L167.9,104.9M168.0,106.3L168.1,108.5M168.1,109.9L168.1,112.1M168.0,113.5L167.8,115.7M167.7,117.1L167.4,119.3M167.2,120.7L166.8,122.9M166.5,124.3L165.9,126.4M165.6,127.8L164.9,129.9M164.5,131.2L163.7,133.3M163.2,134.6L162.3,136.6M161.7,137.9L160.7,139.8M160.0,141.1L158.9,143.0M53.3,82.0L54.4,80.1M55.1,78.9L56.3,77.1M57.1,75.9L58.5,74.2M59.4,73.1L60.8,71.4M61.7,70.4L63.3,68.8M64.3,67.8L65.9,66.3M67.0,65.4L68.7,64.1M69.9,63.2L71.7,62.0M72.9,61.2L74.8,60.0M76.0,59.4L77.9,58.3M79.2,57.7L81.2,56.8M82.5,56.3L84.6,55.5M85.9,55.1L88.0,54.4M89.4,54.1L91.5,53.6M92.9,53.3L95.1,52.9M96.5,52.7L98.7,52.5M100.1,52.4L102.3,52.3M103.7,52.3L105.9,52.3M107.3,52.4L109.5,52.6M110.9,52.8L113.1,53.1M114.5,53.3L116.6,53.8M118.0,54.1L120.1,54.7M121.5,55.1L123.5,55.9M124.9,56.4L126.9,57.2M128.2,57.8L130.2,58.8M131.4,59.5L133.3,60.6M134.5,61.3L136.3,62.5M137.5,63.3L139.2,64.7M140.3,65.6L142.0,67.0M143.0,67.9L144.6,69.5M145.6,70.5L147.1,72.1M148.0,73.2L149.3,74.9M150.2,76.1L151.4,77.9M152.2,79.1L153.4,81.0M154.0,82.2L155.1,84.1M155.7,85.4L156.6,87.4M157.1,88.7L157.9,90.8M158.3,92.1L159.0,94.2M159.3,95.6L159.8,97.7M160.1,99.1L160.5,101.3M160.7,102.7L160.9,104.9M161.0,106.3L161.1,108.5M161.1,109.9L161.1,112.1M161.0,113.5L160.8,115.7M160.6,117.1L160.3,119.3M160.1,120.7L159.6,122.8M159.3,124.2L158.7,126.3M158.3,127.7L157.5,129.7M157.0,131.1L156.2,133.1M155.6,134.4L154.6,136.4M153.9,137.6L152.8,139.5M59.3,85.5L60.4,83.6M61.2,82.4L62.4,80.6M63.2,79.4L64.6,77.7M65.5,76.6L67.0,75.0M68.0,74.0L69.5,72.5M70.6,71.6L72.3,70.2M73.4,69.3L75.2,68.0M76.4,67.3L78.3,66.1M79.5,65.4L81.4,64.4M82.7,63.8L84.7,62.9M86.0,62.4L88.1,61.7M89.5,61.3L91.6,60.7M93.0,60.4L95.1,60.0M96.5,59.8L98.7,59.5M100.1,59.4L102.3,59.3M103.7,59.3L105.9,59.3M107.3,59.4L109.5,59.6M110.9,59.8L113.1,60.2M114.4,60.5L116.6,61.0M117.9,61.4L120.0,62.0M121.3,62.5L123.4,63.3M124.7,63.9L126.7,64.9M127.9,65.5L129.8,66.6M131.0,67.4L132.8,68.6M134.0,69.4L135.7,70.8M136.8,71.7L138.4,73.2M139.4,74.2L140.9,75.7M141.8,76.8L143.2,78.5M144.1,79.6L145.4,81.4M146.1,82.6L147.3,84.5M148.0,85.7L149.0,87.6M149.6,88.9L150.5,90.9M151.0,92.2L151.7,94.3M152.1,95.7L152.7,97.8M153.0,99.2L153.4,101.3M153.6,102.7L153.9,104.9M154.0,106.3L154.1,108.5M154.1,109.9L154.1,112.1M154.0,113.5L153.8,115.7M153.6,117.1L153.2,119.3M152.9,120.6L152.4,122.8M152.0,124.1L151.4,126.2M150.9,127.5L150.1,129.6M149.5,130.9L148.5,132.9M147.9,134.1L146.8,136.0M65.4,89.0L66.5,87.1M67.3,85.8L68.5,84.0M69.4,82.8L70.8,81.2M71.9,80.0L73.4,78.5M74.5,77.5L76.2,76.0M77.3,75.1L79.1,73.8M80.4,73.0L82.3,71.9M83.6,71.2L85.6,70.2M86.9,69.6L89.0,68.8M90.4,68.3L92.5,67.7M94.0,67.4L96.1,66.9M97.6,66.7L99.8,66.5M101.3,66.3L103.5,66.3M105.0,66.3L107.2,66.4M108.6,66.6L110.8,66.9M112.3,67.2L114.4,67.7M115.9,68.1L118.0,68.7M119.4,69.2L121.4,70.1M122.8,70.7L124.7,71.7M126.0,72.5L127.9,73.7M129.1,74.5L130.8,75.9M132.0,76.8L133.6,78.3M134.7,79.3L136.2,81.0M137.1,82.1L138.5,83.8M139.4,85.0L140.6,86.9M141.3,88.2L142.4,90.1M143.0,91.4L143.9,93.5M144.5,94.8L145.2,96.9M145.6,98.4L146.1,100.5M146.4,102.0L146.7,104.1M146.9,105.6L147.1,107.8M147.1,109.3L147.1,111.5M147.0,113.0L146.8,115.2M146.6,116.7L146.2,118.8M145.8,120.3L145.2,122.4M144.8,123.8L144.0,125.9M143.4,127.3L142.5,129.3M141.8,130.6L140.7,132.5M71.4,92.5L72.5,90.6M73.4,89.3L74.6,87.6M75.6,86.4L77.0,84.7M78.1,83.7L79.7,82.2M80.9,81.2L82.6,79.9M83.9,79.1L85.8,77.9M87.1,77.2L89.1,76.3M90.5,75.7L92.5,75.0M94.0,74.6L96.1,74.1M97.6,73.8L99.8,73.5M101.3,73.4L103.5,73.3M105.0,73.3L107.2,73.5M108.7,73.6L110.8,74.0M112.3,74.3L114.4,74.9M115.8,75.4L117.9,76.2M119.2,76.8L121.2,77.8M122.5,78.6L124.4,79.8M125.6,80.6L127.3,82.0M128.4,83.0L130.0,84.5M131.0,85.6L132.4,87.3M133.3,88.5L134.5,90.4M135.3,91.7L136.3,93.6M137.0,95.0L137.8,97.0M138.3,98.4L138.9,100.5M139.3,102.0L139.7,104.1M139.9,105.6L140.1,107.8M140.1,109.3L140.1,111.5M140.0,113.0L139.7,115.2M139.5,116.7L139.0,118.8M138.6,120.3L137.9,122.4M137.3,123.8L136.4,125.8M135.8,127.1L134.7,129.0" stroke="#262626" stroke-width="0.95" fill="none"/></g>
<path d="M61.6,85.6 L62.1,88.6 L67.7,92.7 L73.4,95.1 L75.8,96.7 L79.9,99.6 L81.5,103.2 L83.9,105.6 L88.0,106.0 L90.4,104.0 L92.0,100.8 L90.6,97.1 L90.8,92.5 L92.5,88.5 L93.3,84.4 L94.9,80.4 L97.3,76.3 L100.6,77.1 L105.6,76.1 L110.6,76.6 L116.1,78.3 L121.5,80.1 L126.1,82.0 L131.6,82.9 L137.0,84.7 L137.9,88.3 L138.9,92.9 L137.9,97.4 L133.4,100.2 L137.9,101.1 L141.6,103.8 L143.0,108.4 L143.4,115.1 L143.0,120.1 L142.6,126.1 L140.6,130.1 L138.6,132.1 L136.6,135.1 L134.6,140.1 L131.6,142.1 L126.6,144.1 L121.6,145.6 L116.6,145.1 L109.6,145.6 L107.6,144.1 L108.6,140.1 L107.6,137.1 L108.1,133.1 L107.6,128.1 L105.6,125.1 L102.6,123.1 L100.6,121.1 L98.6,119.6 L96.2,125.5 L94.6,127.9 L96.2,132.0 L93.8,133.6 L91.4,132.8 L87.3,133.6 L82.5,131.1 L80.0,128.7 L77.6,126.3 L76.8,122.2 L76.0,118.2 L71.1,118.2 L70.7,115.8 L72.7,114.1 L71.9,110.1 L72.6,108.9 L71.8,104.8 L72.6,102.4 L71.0,100.8 L67.7,98.3 L63.7,95.9 L61.3,91.1 Z" fill="#e4e4e4"/>
<path d="M39.0,84.1 L42.6,82.6 L44.7,84.1 L44.1,88.1 L41.1,91.4 L39.0,91.4 Z" fill="#e4e4e4"/>
</g>
<rect x="76.3" y="73.5" width="26.5" height="25.5" fill="none" stroke="#d9534f" stroke-width="1.1"/>
<path d="M94.8,77.0 L97.39999999999999,76.6 L97.8,79.6 L95.39999999999999,80.2 Z" fill="none" stroke="#d9534f" stroke-width="0.8"/>
<text x="49.7" y="109.7" font-size="7.2" fill="#333" textLength="24" lengthAdjust="spacingAndGlyphs">10 m s<tspan dy="-2.8" font-size="5">−1</tspan></text>
<line x1="58.5" y1="111.7" x2="65.1" y2="111.7" stroke="#444" stroke-width="0.9"/>
<clipPath id="pc2f"><rect x="182" y="37.5" width="136.5" height="111.9"/></clipPath>
<clipPath id="pc2"><path d="M183.12,73.15 A73.3,73.3 0 0 1 310.08,146.45 Z"/></clipPath>
<g clip-path="url(#pc2f)"><g clip-path="url(#pc2)" >
<path fill="#1b7bb6" stroke="#1b7bb6" stroke-width="0.3" d="M224,79.1 226.5,79.5 227.5,81.5 226.4,83.5 226,83.8 224,83.5 222.9,81.5 223.5,79.5Z"/>
<path fill="#1f80b8" stroke="#1f80b8" stroke-width="0.3" d="M222,76.2 224,75.6 226,75.8 228,76.7 230,78.9 230.6,81.5 230.2,83.5 228,86.5 226,87.2 224,87.1 221.3,85.5 220,83.3 219.6,81.5 219.7,79.5 220.6,77.5ZM223.5,79.5 222.9,81.5 224,83.5 226,83.8 226.4,83.5 227.5,81.5 226.5,79.5 224,79.1Z"/>
<path fill="#2485ba" stroke="#2485ba" stroke-width="0.3" d="M224,73.5 226,73.7 229.9,75.5 231.6,77.5 232.4,79.5 232.2,83.5 230.4,87.5 228,89.2 226,89.6 222,89.1 220,87.8 218.5,85.5 217.8,83.5 217.6,79.5 218.1,77.5 220,75 222,73.8 223.6,73.5ZM220.6,77.5 219.7,79.5 219.6,81.5 220,83.3 221.3,85.5 224,87.1 226,87.2 228,86.5 230.2,83.5 230.6,81.5 230,78.9 228,76.7 226,75.8 224,75.6 222,76.2Z"/>
<path fill="#298abd" stroke="#298abd" stroke-width="0.3" d="M220,73.3 224,71.8 228,72.5 230,73.5 232,75.1 233.6,77.5 234.1,81.5 233.2,85.5 232,89 230,91 226,91.7 221.8,91.5 220,90.9 218,88.9 216,83.5 215.9,79.5 217.6,75.5 219.7,73.5ZM223.6,73.5 222,73.8 219.5,75.5 218,77.8 217.6,81.5 218.5,85.5 220,87.8 222,89.1 224,89.6 228,89.2 230,88 232,84.2 232.5,81.5 232,78.3 229.9,75.5 226,73.7 224,73.5Z"/>
<path fill="#2d8fbf" stroke="#2d8fbf" stroke-width="0.3" d="M222,71.1 224,70.6 228,70.8 232,73 234.3,75.5 235.2,77.5 235.4,81.5 233.3,91.5 234.8,95.5 234,95.8 232,93.7 218,94.3 218,93.5 215.8,89.5 214.7,85.5 214.3,81.5 214.5,79.5 216,75.9 217.9,73.5 221,71.5ZM219.7,73.5 217.6,75.5 215.9,79.5 216,83.5 218,88.9 220,90.9 221.8,91.5 226,91.7 230,91 232,89 233.2,85.5 234.1,81.5 233.6,77.5 232,75.1 230,73.5 228,72.5 224,71.8 220,73.3ZM216,97.5 216,100 216,97.5ZM236,96.6 236.4,97.5 236,97.8 235.6,97.5ZM238,99.1 238,99.9 237.6,99.5ZM240,101.4 240,101.7 239.7,101.5ZM218,124.9 218.2,125.5 218,125.8 217.9,125.5ZM222,131.2 222.2,131.5 221.9,131.5ZM224,133.3 224.3,133.5 223.9,133.5ZM238,141.4 241.7,141.5 237.7,141.5Z"/>
<path fill="#3294c2" stroke="#3294c2" stroke-width="0.3" d="M224,69.4 228,69.3 230,69.9 234,72.7 236.1,75.5 236.8,79.5 235.4,89.5 235.8,91.5 244,105.4 244.2,107.5 244,108.1 240,104.5 230,96.7 228,96.1 226,96.1 224,96.8 223.2,97.5 222,100.2 220.5,105.5 220.2,111.5 221.3,117.5 222.9,121.5 225.3,125.5 230,130.4 234.9,133.5 238,134.8 242,135.8 246,136.2 246,147.5 240,146.9 234.5,145.5 230,143.7 224,140 220,136.5 215.8,131.5 212.3,125.5 210,118.9 209.1,113.5 209,107.5 210,100.7 211.7,95.5 213.7,91.5 212.9,83.5 213.3,79.5 214,77.5 216.6,73.5 220,70.8 223.7,69.5ZM221,71.5 217.9,73.5 216,75.9 214.5,79.5 214.3,81.5 214.7,85.5 215.8,89.5 218,93.5 218,94.3 232,93.7 234,95.8 234.8,95.5 233.3,91.5 235.4,81.5 235.2,77.5 234.3,75.5 232,73 228,70.8 224,70.6 222,71.1ZM216,97.5 216,100 216,97.5ZM235.6,97.5 236,97.8 236.4,97.5 236,96.6ZM237.6,99.5 238,99.9 238,99.1ZM239.7,101.5 240,101.7 240,101.4ZM217.9,125.5 218,125.8 218.2,125.5 218,124.9ZM221.9,131.5 222.2,131.5 222,131.2ZM223.9,133.5 224.3,133.5 224,133.3ZM237.7,141.5 241.7,141.5 238,141.4Z"/>
<path fill="#3799c5" stroke="#3799c5" stroke-width="0.3" d="M222,68.9 226,68.1 230,68.5 232,69.3 234,70.6 236,72.6 237.6,75.5 238,79.9 236.7,89.5 243.2,103.5 244,104.5 244.5,107.5 244,109.5 242,107.5 240,107.5 238,105.5 236,105.5 232,101.5 230,101.5 228,99.5 228,101.5 226,103.5 226,115.5 228,117.5 228,121.5 234,127.5 236,127.5 238,129.5 242,129.5 244,131.5 246,131.5 246,149.5 240,149.4 234,147.9 228.3,145.5 222,141.5 217.6,137.5 214.2,133.5 210.6,127.5 208.2,121.5 206.9,115.5 206.5,111.5 206.7,105.5 208.4,97.5 211.8,89.5 211.5,83.5 212,80.5 213,77.5 215.4,73.5 218,71 220.6,69.5ZM223.7,69.5 220,70.8 216.6,73.5 215.1,75.5 213.3,79.5 212.9,83.5 213.7,91.5 211.7,95.5 210,100.7 209,107.5 209.1,113.5 210,118.9 212.3,125.5 215.8,131.5 220,136.5 224,140 230,143.7 234.5,145.5 240,146.9 246,147.5 246,136.2 242,135.8 238,134.8 234.9,133.5 230,130.4 225.3,125.5 222.9,121.5 221.3,117.5 220.2,111.5 220.5,105.5 222,100.2 223.2,97.5 224,96.8 226,96.1 228,96.1 230,96.7 240,104.5 244,108.1 244.2,107.5 244,105.4 235.8,91.5 235.4,89.5 236.8,79.5 236.1,75.5 234,72.7 230,69.9 228,69.3 224,69.4Z"/>
<path fill="#3b9ec8" stroke="#3b9ec8" stroke-width="0.3" d="M224,67.3 226,67 230,67.2 234,68.6 236,70.2 238,72.6 239,75.5 239.2,79.5 237.9,87.5 237.9,89.5 244,103.7 244.9,107.5 246.1,109.5 246.2,149.5 246,131.5 244,131.5 242,129.5 238,129.5 236,127.5 234,127.5 228,121.5 228,117.5 226,115.5 226,103.5 228,101.5 228,99.5 230,101.5 232,101.5 236,105.5 238,105.5 240,107.5 242,107.5 244,109.5 244.5,107.5 244,104.5 243.2,103.5 236.7,89.5 238,79.9 238,77.3 236.7,73.5 234,70.6 230,68.5 226,68.1 224,68.4 220.6,69.5 218,71 216,72.8 214,75.5 213,77.5 211.8,81.5 211.5,83.5 211.8,89.5 209.1,95.5 207.8,99.5 206.7,105.5 206.5,111.5 207.7,119.5 209.7,125.5 214,133.2 217.6,137.5 222,141.5 228.3,145.5 234,147.9 240.9,149.5 232.5,149.5 224,145.4 220,142.5 216.7,139.5 211.8,133.5 208,126.7 206.1,121.5 205.2,117.5 204.5,111.5 204.7,105.5 206.3,97.5 209.7,89.5 210.7,81.5 211.3,79.5 213,75.5 216.1,71.5 218.7,69.5 223.4,67.5Z"/>
<path fill="#40a3cb" stroke="#40a3cb" stroke-width="0.3" d="M222,67 226,66 228,65.9 232,66.3 234,66.9 236,67.8 238,69.6 239.4,71.5 240.1,73.5 240.5,77.5 238.9,87.5 239.1,89.5 244,102.7 245.2,107.5 246.3,109.5 246.4,149.5 246.1,109.5 244.9,107.5 244,103.7 237.9,89.5 237.9,87.5 239.2,79.5 239,75.5 238,72.6 236,70.2 234,68.6 230,67.2 226,67 224,67.3 218.7,69.5 216.1,71.5 214.3,73.5 212,77.5 210.7,81.5 209.7,89.5 206.3,97.5 205.3,101.5 204.5,107.5 204.9,115.5 206.1,121.5 208,126.7 212,133.8 216.7,139.5 221.3,143.5 227.8,147.5 232.5,149.5 227.8,149.5 224,147.5 216.2,141.5 212,136.8 208,130.7 206,126.5 204.3,121.5 203.2,115.5 202.8,109.5 203,105.5 204,99.1 205.8,93.5 208.7,87.5 209.7,81.5 212,75.5 216,70.5 220.7,67.5Z"/>
<path fill="#45a9cd" stroke="#45a9cd" stroke-width="0.3" d="M224,65.4 230,64.8 236,65.9 239,67.5 240.6,69.5 241.4,71.5 241.8,75.5 240,87.9 240.2,89.5 246.4,109.5 246.6,149.5 246.3,109.5 245.2,107.5 244,102.7 239.1,89.5 238.9,87.5 240.5,77.5 240.1,73.5 239.4,71.5 238,69.6 236,67.8 232,66.3 230,66 226,66 224,66.4 220,67.8 218,69 214,72.6 212,75.5 210.3,79.5 208.7,87.5 205.8,93.5 204,99.1 203,105.5 203,113.5 203.8,119.5 206,126.5 208,130.7 212,136.8 216.2,141.5 221.1,145.5 227.8,149.5 225.1,149.5 222,147.7 216.5,143.5 212.6,139.5 207,131.5 204,124.8 203,121.5 201.6,113.5 201.5,107.5 202,102.8 204,94.8 207.3,87.5 209.3,79.5 211.1,75.5 214,71.4 218,68.1 220,66.9 223.7,65.5Z"/>
<path fill="#49aed0" stroke="#49aed0" stroke-width="0.3" d="M222,65.2 228,63.7 234,63.9 240.6,65.5 242.7,67.5 243.4,71.5 243.3,73.5 240.9,87.5 241.1,89.5 246.6,109.5 246.8,149.5 246.4,109.5 240.2,89.5 240,87.2 241.8,75.5 241.4,71.5 240,68.6 238,66.8 236,65.9 232,65 226,65 220,66.9 216,69.5 214,71.4 211.1,75.5 209.3,79.5 207.3,87.5 204,94.8 202.2,101.5 201.5,107.5 201.8,115.5 203,121.5 206,129.6 210.9,137.5 214.4,141.5 220,146.3 225.1,149.5 222.8,149.5 219.7,147.5 214,142.7 211.1,139.5 208,135.4 205.7,131.5 203.8,127.5 202,122.2 200.7,115.5 200.3,109.5 200.7,103.5 202.6,95.5 206.8,85.5 209.2,77.5 211.4,73.5 216,68.6 221.2,65.5Z"/>
<path fill="#4eb3d3" stroke="#4eb3d3" stroke-width="0.3" d="M226,63.1 232,62.5 240,63.1 244,64 246.6,65.5 246.5,67.5 242.5,83.5 241.9,87.5 245.5,105.5 246.7,109.5 247,149.5 246.6,135.5 246.6,109.5 241.1,89.5 241.1,85.5 242.8,77.5 243.4,71.5 242.7,67.5 240.6,65.5 234,63.9 230,63.6 226,64 221.2,65.5 217.5,67.5 214.9,69.5 211.4,73.5 209.2,77.5 206.8,85.5 203.3,93.5 201.5,99.5 200.7,103.5 200.3,111.5 201.3,119.5 203.8,127.5 206.8,133.5 211.1,139.5 217.1,145.5 222.8,149.5 220.7,149.5 218,147.6 214,144.2 210,139.9 208.1,137.5 204.5,131.5 201.2,123.5 199.8,117.5 199.4,113.5 199.2,109.5 199.6,103.5 201.4,95.5 205.7,85.5 207.5,79.5 210,74.4 214,69.4 218,66.3 222,64.3 224.5,63.5Z"/>
<path fill="#54b6d1" stroke="#54b6d1" stroke-width="0.3" d="M232,61.4 238,61.3 246,61.9 252,63.5 253.1,65.5 248.9,69.5 246.5,73.5 244.5,79.5 242.8,87.5 245.4,103.5 246.9,109.5 247.2,149.5 246.7,133.5 246.7,109.5 245.5,105.5 241.9,87.5 242.5,83.5 246.5,67.5 246.6,65.5 246,65 242,63.4 236,62.7 230,62.6 226,63.1 222,64.3 216,67.7 212,71.5 209.3,75.5 200.8,97.5 199.6,103.5 199.2,109.5 199.8,117.5 202,125.8 204.5,131.5 208.1,137.5 214,144.2 220.7,149.5 218.9,149.5 214,145.6 210,141.5 206,136.2 201.5,127.5 200.1,123.5 198.8,117.5 198.3,113.5 198.2,107.5 199.3,99.5 201,93.5 208.5,75.5 212.9,69.5 218,65.5 224,62.8 230.4,61.5Z"/>
<path fill="#5abacf" stroke="#5abacf" stroke-width="0.3" d="M226,61.4 234,60.2 246,60.3 252,61.2 254,61.9 257.4,63.5 259,65.5 256.4,67.5 252,69.8 248.2,73.5 245.6,79.5 244,85.5 243.9,89.5 246,105.1 247,109.5 247,137.5 247.4,149.5 246.9,139.5 246.9,109.5 245.4,103.5 242.8,87.5 244.5,79.5 246.5,73.5 248.9,69.5 253.1,65.5 252,63.5 246,61.9 234,61.3 228,61.8 224,62.8 220,64.4 216,66.8 214,68.5 209.7,73.5 206.6,79.5 204.6,85.5 202,90.9 199.3,99.5 198.2,107.5 198.5,115.5 200.1,123.5 203.3,131.5 208,139.1 212,143.7 218.9,149.5 217.2,149.5 214,147 210.4,143.5 206,138 203.2,133.5 201.3,129.5 199.7,125.5 198.1,119.5 197.2,111.5 197.2,107.5 198,100.8 199.9,93.5 203.6,85.5 206.6,77.5 210,71.9 214.1,67.5 220,63.6 225.6,61.5ZM288,90.7 288.4,91.5 290,92.8 292.2,97.5 294,105.5 293.8,113.5 292,120.7 290,121.6 290.3,117.5 290,105.5 288.7,95.5 288,93.7 287.8,91.5Z"/>
<path fill="#60bdcd" stroke="#60bdcd" stroke-width="0.3" d="M232,59.4 244,58.9 252,59.8 257.5,61.5 261.3,63.5 263.7,65.5 264.6,67.5 254,70.9 250.2,73.5 247.6,77.5 245.5,83.5 244.8,87.5 246,102.7 247.1,109.5 247.2,141.5 247.6,149.5 247,137.5 247,109.5 246,105.1 243.9,89.5 244,85.5 245.6,79.5 248.2,73.5 252,69.8 256.4,67.5 259,65.5 257.4,63.5 252,61.2 246,60.3 234,60.2 225.6,61.5 220,63.6 214.1,67.5 210,71.9 206.6,77.5 203.6,85.5 199.9,93.5 198.7,97.5 197.2,107.5 197.5,115.5 198.1,119.5 199.7,125.5 204,134.9 207.1,139.5 210.4,143.5 217.2,149.5 215.6,149.5 212,146.4 207.4,141.5 204.5,137.5 202.1,133.5 199.4,127.5 198.1,123.5 196.8,117.5 196.2,109.5 196.6,103.5 197.7,97.5 200,90.6 206.8,75.5 211.1,69.5 216,65.2 218,63.9 224,61.2 231.4,59.5ZM282,80.2 284,81.4 288,85.6 291.6,91.5 294,97.4 295.5,105.5 295.6,111.5 294,121.5 292,127 288,134.5 286.1,137.5 281,143.5 274,149.5 265.4,149.5 272.3,145.5 276,142.5 280,138.4 284.8,131.5 286.8,125.5 287.5,121.5 288.3,111.5 287.6,101.5 284.9,91.5 282,84.4 281.2,81.5ZM287.8,91.5 288,93.7 288.7,95.5 290,105.5 290.3,111.5 290,121.6 292,120.7 293.8,113.5 294,105.5 292.2,97.5 290,92.8 288.4,91.5 288,90.7Z"/>
<path fill="#66c0cb" stroke="#66c0cb" stroke-width="0.3" d="M228,59.3 236,58.1 242,57.8 248,58.1 254,59.1 260.8,61.5 267.3,65.5 274,71.1 280,75.2 282.7,77.5 288,83.2 292,89.3 294,93.6 295.3,97.5 296.5,103.5 296.9,109.5 296.5,115.5 295.8,119.5 294.2,125.5 292.6,129.5 288.2,137.5 284,143 277,149.5 274,149.5 280,144.5 286.1,137.5 290,131.1 292,127 294,121.5 295.2,115.5 295.7,109.5 295.5,105.5 294,97.4 291.6,91.5 288,85.6 284,81.4 282,80.2 281.2,81.5 286.7,97.5 287.6,101.5 288.2,107.5 288.1,115.5 287.5,121.5 285.6,129.5 283.6,133.5 280,138.4 276,142.5 272.3,145.5 265.4,149.5 259.4,149.5 266,146.8 272,142.9 278,137.3 282,131.9 284.8,125.5 286.1,119.5 286.8,111.5 286.6,105.5 285.1,97.5 283,91.5 276.8,79.5 274,75.5 272,73.6 268,71.5 262,71 256,72 252,74 250.4,75.5 248,79.5 245.8,87.5 246.3,101.5 247.3,109.5 247.6,149.5 247.2,141.5 247.1,109.5 246,102.7 244.8,87.5 245.5,83.5 247.6,77.5 250.2,73.5 254,70.9 264.6,67.5 263.7,65.5 261.3,63.5 257.5,61.5 250,59.4 244,58.9 234,59.2 228,60.1 224,61.2 218,63.9 214,66.7 211.1,69.5 208,73.5 205.8,77.5 200,90.6 197.7,97.5 196.4,105.5 196.2,111.5 196.5,115.5 198.7,125.5 202.1,133.5 207.4,141.5 212,146.4 215.6,149.5 214.1,149.5 210,145.8 206,141.2 202,135.2 198,126.2 196.2,119.5 195.6,115.5 195.3,111.5 195.5,105.5 196.3,99.5 197.3,95.5 199.5,89.5 204.9,77.5 207.2,73.5 210.2,69.5 214,65.9 217.4,63.5 222,61.2 227.2,59.5Z"/>
<path fill="#6cc4c9" stroke="#6cc4c9" stroke-width="0.3" d="M234,57.4 244,56.9 252,57.7 258.8,59.5 267.1,63.5 278,71.4 284,76.7 290,83.9 294.3,91.5 296.4,97.5 297.8,105.5 297.8,113.5 296,123.6 294,129.5 289.8,137.5 284,144.9 279.1,149.5 277,149.5 282,145.1 286.8,139.5 290.6,133.5 294.2,125.5 296.2,117.5 296.9,109.5 296.5,103.5 295.3,97.5 294,93.6 292,89.3 288,83.2 284,78.7 280,75.2 274,71.1 264.4,63.5 260.8,61.5 254,59.1 248,58.1 242,57.8 234,58.3 226,59.8 221.3,61.5 216,64.4 212,67.6 208,72.3 204.9,77.5 199.5,89.5 197.3,95.5 195.7,103.5 195.4,113.5 196.2,119.5 197.2,123.5 199.2,129.5 201.1,133.5 206,141.2 210,145.8 214.1,149.5 212.8,149.5 208,144.9 203.7,139.5 200,133.3 197.5,127.5 196,122.5 194.7,115.5 194.4,109.5 194.8,103.5 195.9,97.5 198.5,89.5 206,74.1 211.2,67.5 216,63.6 220,61.3 226,59 233.4,57.5ZM258,71.5 262,71 268,71.5 272,73.6 274,75.5 276,78.2 279.1,83.5 283,91.5 285.1,97.5 286.6,105.5 286.8,111.5 286.4,117.5 284.8,125.5 283.3,129.5 279.5,135.5 274,141.3 268.2,145.5 262,148.6 259.4,149.5 251.3,149.5 258,148.2 266,144.8 272,140.7 277.3,135.5 281.4,129.5 283.1,125.5 284.6,119.5 285.5,109.5 285,103.5 284.2,99.5 282.2,93.5 277,83.5 272.4,77.5 268,74.3 264,73.1 258,73.2 256,73.7 252.6,75.5 249.4,79.5 247.8,83.5 246.9,87.5 246.8,101.5 247.4,109.5 247.4,139.5 247.8,149.5 247.3,141.5 247.3,109.5 246.3,101.5 245.8,87.5 248,79.5 250,76 252,74 254,72.8 258,71.5Z"/>
<path fill="#72c7c7" stroke="#72c7c7" stroke-width="0.3" d="M230,57.3 240,56.1 250,56.5 255.4,57.5 260,58.9 266,61.5 275.2,67.5 282,73.1 288.1,79.5 293.5,87.5 296.9,95.5 298.6,103.5 299,109.5 298,119.6 295.9,127.5 292.3,135.5 286.7,143.5 280.8,149.5 279.1,149.5 286,142.6 291,135.5 294,129.5 296,123.6 297.6,115.5 298,109.5 297.6,103.5 296,96 294.3,91.5 290,83.9 286,78.8 282,74.8 275.5,69.5 267.1,63.5 258.8,59.5 252,57.7 244,56.9 236,57.2 228,58.5 224.5,59.5 220,61.3 214,65.1 210,68.8 206,74.1 198.5,89.5 196.4,95.5 194.6,105.5 194.7,115.5 196,122.5 197.5,127.5 200.1,133.5 202,136.9 206,142.6 212.8,149.5 211.5,149.5 207.4,145.5 204,141.4 200.2,135.5 198.2,131.5 196,125.6 194.1,117.5 193.7,113.5 193.9,103.5 195,97.5 196.8,91.5 204,76.2 206.9,71.5 210,67.8 214,64.2 218,61.6 224,58.9 229,57.5ZM258,73.2 264,73.1 268,74.3 272,77.1 274.2,79.5 279.3,87.5 283,95.5 285,103.5 285.5,109.5 285.2,115.5 283.7,123.5 281.4,129.5 278.8,133.5 275.5,137.5 271,141.5 266,144.8 258,148.2 251.3,149.5 248,149.5 247.4,139.5 247.4,109.5 246.8,101.5 246.9,87.5 247.8,83.5 250,78.4 252,76 254,74.6 256.9,73.5ZM255.9,75.5 254,76.4 251.1,79.5 249.2,83.5 248.1,87.5 247.2,103.5 247.6,109.5 247.5,137.5 248,148.2 256,147.1 262,145 268.3,141.5 273.2,137.5 276.8,133.5 279.6,129.5 282.2,123.5 283.6,117.5 284.2,111.5 283.7,103.5 282.8,99.5 280.7,93.5 277.6,87.5 274,82.1 270,77.9 266,75.6 264,75 260,74.7 256,75.4Z"/>
<path fill="#78cac5" stroke="#78cac5" stroke-width="0.3" d="M238,55.4 248,55.4 254,56.3 262,58.7 270,62.6 279.7,69.5 284.1,73.5 290.9,81.5 295.6,89.5 298.5,97.5 299.8,105.5 299.8,113.5 298.6,121.5 296.2,129.5 292.3,137.5 288.1,143.5 282.3,149.5 280.8,149.5 286.7,143.5 292.3,135.5 295.1,129.5 297.1,123.5 298.6,115.5 299,109.5 298.6,103.5 296.9,95.5 293.5,87.5 290,82 286.4,77.5 280,71.3 272,65.2 266,61.5 260,58.9 252,56.8 244,56.1 238,56.2 232,56.9 224,58.9 218,61.6 214,64.2 210,67.8 206.9,71.5 202.3,79.5 196.1,93.5 193.9,103.5 193.7,113.5 194.9,121.5 196.6,127.5 198.2,131.5 200.2,135.5 204,141.4 207.4,145.5 211.5,149.5 210.2,149.5 204.6,143.5 200.4,137.5 198,133 195.7,127.5 193.6,119.5 192.9,113.5 192.9,105.5 193.7,99.5 195.3,93.5 196.7,89.5 201.5,79.5 204.7,73.5 207.6,69.5 211.4,65.5 216,62 220,59.8 226,57.5 232,56.1 236.6,55.5ZM256,75.4 260,74.7 264,75 266,75.6 270,77.9 274,82.1 277.6,87.5 282,96.8 283.3,101.5 284,106.2 284.2,111.5 283.6,117.5 282.2,123.5 280.6,127.5 278.3,131.5 275.2,135.5 270,140.3 264,144.1 256,147.1 248,148.2 247.5,137.5 247.6,109.5 247.2,103.5 248.1,87.5 249.2,83.5 251.1,79.5 254,76.4 255.9,75.5ZM255.6,77.5 254,78.6 252,81.1 250.1,85.5 248,99.1 247.5,105.5 248,146.6 252,146.3 255.8,145.5 262,143.3 265.4,141.5 270,138.3 274.8,133.5 277.8,129.5 280,125.1 281.8,119.5 282.7,113.5 282.8,107.5 282,101.7 280,95.4 276,87.8 272,82.3 268,78.7 264,76.9 260,76.5 256,77.3Z"/>
<path fill="#7ecdc3" stroke="#7ecdc3" stroke-width="0.3" d="M232,55.3 242,54.4 250,54.9 254,55.5 260,57.1 268,60.4 276,65.3 283.5,71.5 290,78.7 295.7,87.5 298.3,93.5 300.3,101.5 300.9,109.5 300,119.5 297.9,127.5 294.5,135.5 290,142.5 283.7,149.5 282.3,149.5 288.1,143.5 292.3,137.5 294,134.4 296.2,129.5 298.6,121.5 299.8,113.5 299.8,105.5 298.5,97.5 296.5,91.5 293.5,85.5 287.8,77.5 282,71.5 277.1,67.5 271.5,63.5 264,59.5 258,57.3 248,55.4 242,55.2 232,56.1 226,57.5 220,59.8 216,62 211.4,65.5 207.6,69.5 203.5,75.5 196.7,89.5 194.7,95.5 193.1,103.5 192.9,113.5 193.6,119.5 194.5,123.5 195.7,127.5 198,133 200.4,137.5 203.1,141.5 206,145.2 210.2,149.5 209,149.5 206,146.4 202,141.4 199.5,137.5 196.4,131.5 194.9,127.5 193.2,121.5 192.2,115.5 191.9,109.5 192.3,103.5 193.8,95.5 195.1,91.5 197.6,85.5 202.7,75.5 206,70.5 210,65.9 214,62.6 219.1,59.5 224,57.4 231.1,55.5ZM256,77.3 260,76.5 264,76.9 268,78.7 272,82.3 276,87.8 280,95.4 282,101.7 282.6,105.5 282.8,111.5 282.2,117.5 280.6,123.5 278.9,127.5 276.4,131.5 272,136.5 268,139.8 264,142.3 255.8,145.5 252,146.3 248,146.6 247.5,105.5 248,99.1 250.1,85.5 252,81.1 254,78.6 255.6,77.5ZM256.4,79.5 254.2,81.5 252.3,85.5 248.8,101.5 248,103.7 247.9,143.5 248,144.9 250,144.8 256,143.7 260,142.3 265.4,139.5 268.3,137.5 272.6,133.5 276,129.1 278,125.6 280.2,119.5 281.2,113.5 281.4,109.5 281.1,105.5 279.9,99.5 278,94.7 276,90.9 272,85 268.6,81.5 265.4,79.5 262,78.5 258,78.8Z"/>
<path fill="#84cfc1" stroke="#84cfc1" stroke-width="0.3" d="M228,55.4 238,53.8 246,53.7 254,54.7 257.4,55.5 266,58.5 274,62.8 282,68.8 288.6,75.5 294.5,83.5 298.5,91.5 299.9,95.5 301.2,101.5 301.8,107.5 301.2,117.5 298.9,127.5 295.5,135.5 291.9,141.5 288.8,145.5 285,149.5 283.7,149.5 290,142.5 294.5,135.5 297.2,129.5 299.1,123.5 300.3,117.5 300.9,109.5 300.3,101.5 298.3,93.5 295.7,87.5 292.1,81.5 286,74 278.9,67.5 273.3,63.5 266,59.4 258,56.5 250,54.9 242,54.4 234,55 228,56.2 222,58.2 215.6,61.5 212,64.1 208,68 202.7,75.5 196.7,87.5 193.8,95.5 192.1,105.5 192.2,115.5 194,124.6 195.6,129.5 198,134.8 202,141.4 205.2,145.5 209,149.5 207.9,149.5 205.9,147.5 199.8,139.5 196,132.5 194,127.5 192.4,121.5 191.4,115.5 191.2,107.5 191.5,103.5 192.5,97.5 193.6,93.5 195.8,87.5 200.8,77.5 204.4,71.5 208,67 211.7,63.5 216,60.4 222,57.4 227.8,55.5ZM258,78.8 262,78.5 265.4,79.5 268.6,81.5 272,85 276,90.9 278,94.7 279.9,99.5 281.1,105.5 281.4,109.5 281.2,113.5 280.2,119.5 278,125.6 276,129.1 272.6,133.5 268.3,137.5 265.4,139.5 260,142.3 256,143.7 250,144.8 248,144.9 247.9,143.5 248,103.7 248.8,101.5 252.3,85.5 254.2,81.5 256.4,79.5ZM259.3,81.5 257,83.5 256.1,85.5 256,87.5 257.4,91.5 252,100.6 250.7,103.5 250,104.2 250,107.2 252,106.1 262.8,97.5 264,97.4 266.1,99.5 266,104.8 256,107.3 252,109 250,108.9 249.3,107.5 248,107.4 248,142.6 255.7,141.5 260.9,139.5 264,137.8 268,134.8 272,130.7 276,124.7 278,119.8 279.4,111.5 279.2,105.5 278,99.8 274,91.6 270,86.1 267.4,83.5 264,81.5 262,81.1 260,81.3ZM250,111.4 252,111 256,111.2 268,112.8 268,113.5 266.1,115.5 266,119.5 264,121.5 262,119.5 260,119.5 256,115.5 254,115.5 252,113.5 250,113.5 248,111.5Z"/>
<path fill="#8ad2bf" stroke="#8ad2bf" stroke-width="0.3" d="M234,53.5 238,53 244,52.9 252,53.6 260,55.4 265.8,57.5 270,59.5 276.7,63.5 281.9,67.5 286,71.3 291.4,77.5 296.7,85.5 300.2,93.5 302.1,101.5 302.7,109.5 301.8,119.5 299.8,127.5 296.5,135.5 291.5,143.5 286.3,149.5 285,149.5 290.4,143.5 295.5,135.5 298.2,129.5 300.5,121.5 301.6,113.5 301.8,107.5 301.5,103.5 300.4,97.5 298.5,91.5 294.5,83.5 290.3,77.5 284.9,71.5 277.9,65.5 271.9,61.5 263.6,57.5 257.4,55.5 250,54.1 242,53.6 236,54 228,55.4 222,57.4 216,60.4 211.7,63.5 208,67 203.1,73.5 195.8,87.5 193,95.5 191.3,105.5 191.4,115.5 193.4,125.5 196,132.5 201.1,141.5 204,145.3 207.9,149.5 206.8,149.5 203.1,145.5 197.6,137.5 193.2,127.5 192,123.5 190.6,115.5 190.4,107.5 190.7,103.5 191.7,97.5 194.1,89.5 202.2,73.5 206.6,67.5 210.6,63.5 216,59.6 222,56.6 226,55.2 233.9,53.5ZM260,81.3 262,81.1 264,81.5 267.4,83.5 270,86.1 274,91.6 278,99.8 279.2,105.5 279.4,111.5 278,119.8 276,124.7 272,130.7 268,134.8 264,137.8 260.9,139.5 255.7,141.5 248,142.6 248,107.4 249.3,107.5 250,108.9 252,109 256,107.3 266,104.8 266.1,99.5 264,97.4 262.8,97.5 252,106.1 250,107.2 250,104.2 250.7,103.5 252,100.6 257.4,91.5 256,87.5 256.1,85.5 257,83.5 259.3,81.5ZM248,111.5 250,113.5 252,113.5 254,115.5 256,115.5 260,119.5 262,119.5 264,121.5 266,119.5 266.1,115.5 268,113.5 268,112.8 256,111.2 252,111 250,111.4Z"/>
<path fill="#90d4bd" stroke="#90d4bd" stroke-width="0.3" d="M230,53.4 238,52.3 246,52.2 255.6,53.5 262,55.2 266,56.7 276,62 283.2,67.5 290,74.4 296,82.6 299.6,89.5 302.2,97.5 303,101.5 303.6,109.5 303,117.5 301.3,125.5 298.4,133.5 294,141.4 291,145.5 287.4,149.5 286.3,149.5 291.5,143.5 296.5,135.5 299.1,129.5 301.4,121.5 302.4,115.5 302.7,109.5 302.1,101.5 300.2,93.5 296.7,85.5 292.9,79.5 288.1,73.5 281.9,67.5 273.6,61.5 265.8,57.5 260,55.4 250,53.3 244,52.9 236,53.2 230,54.2 222,56.6 216,59.6 210.6,63.5 206.6,67.5 202.2,73.5 194.1,89.5 191.7,97.5 190.5,105.5 190.6,115.5 192,123.5 193.9,129.5 198.8,139.5 203.1,145.5 206.8,149.5 205.6,149.5 203.8,147.5 198,139.7 194.7,133.5 192.4,127.5 191.2,123.5 189.8,115.5 189.6,107.5 189.9,103.5 190.9,97.5 193.3,89.5 200,75.8 204,69.6 208,65 214,60 218,57.7 224,55.1 229.8,53.5Z"/>
<path fill="#96d6bb" stroke="#96d6bb" stroke-width="0.3" d="M240,51.4 250,51.8 258.9,53.5 268,56.7 276,61 284,67 290,73 296,81 300,88.3 302.6,95.5 303.9,101.5 304.3,105.5 304.3,113.5 303.2,121.5 301.6,127.5 298.4,135.5 293.6,143.5 288.6,149.5 287.4,149.5 291,145.5 294,141.4 298.4,133.5 300.7,127.5 302.3,121.5 303.4,113.5 303.4,105.5 302.2,97.5 300.4,91.5 297.7,85.5 292,76.8 288,72.1 280.8,65.5 275.2,61.5 266,56.7 260,54.6 252,52.8 244,52.1 238,52.3 230,53.4 224,55.1 218,57.7 212,61.5 206,67.1 202,72.5 195,85.5 191.9,93.5 189.9,103.5 189.6,111.5 189.8,115.5 191.2,123.5 194.7,133.5 196.7,137.5 200,142.7 205.6,149.5 204.5,149.5 202.7,147.5 198.2,141.5 195.8,137.5 193.8,133.5 190.9,125.5 189.6,119.5 188.8,111.5 188.9,105.5 190,97.9 191.7,91.5 194.1,85.5 198.2,77.5 202,71.1 206,66 210,62.1 216.8,57.5 222,55.1 230,52.7 238.4,51.5Z"/>
<path fill="#9cd8b9" stroke="#9cd8b9" stroke-width="0.3" d="M234,51.2 244,50.6 254,51.6 262,53.6 271.5,57.5 278.3,61.5 285.8,67.5 293.2,75.5 298,82.6 302,90.9 304,97.5 305.2,105.5 305,115.5 303.1,125.5 300,134 296,141.4 289.8,149.5 288.6,149.5 293.6,143.5 298.4,135.5 301.6,127.5 303.2,121.5 304.3,113.5 304.3,105.5 303.1,97.5 300.5,89.5 298,84.3 292.1,75.5 286.7,69.5 278,62.3 270,57.6 264,55.1 256,52.8 250,51.8 246,51.4 236,51.7 226,53.7 220,55.9 213.5,59.5 208,63.9 204,68.4 200,74.3 194.1,85.5 192.4,89.5 190,97.9 188.9,105.5 189,115.5 190.4,123.5 192.2,129.5 193.8,133.5 198.2,141.5 204.5,149.5 203.4,149.5 202,147.9 196,139.5 192.1,131.5 190.7,127.5 189.1,121.5 188.2,115.5 188,107.5 188.5,101.5 189.7,95.5 192,88.4 195.2,81.5 200.8,71.5 203.7,67.5 208,62.9 214,58.3 220,55.1 224.2,53.5 232.1,51.5Z"/>
<path fill="#a2dbb7" stroke="#a2dbb7" stroke-width="0.3" d="M230,51.2 236,50.2 242,49.8 250,50.2 260,52.2 269.2,55.5 278,60.3 284,64.8 290.9,71.5 297.1,79.5 301.5,87.5 304.4,95.5 305.9,103.5 306,113.6 304.5,123.5 302,131.5 300,136 296.9,141.5 290.9,149.5 289.8,149.5 296,141.4 300,134 302.5,127.5 304.4,119.5 305.3,111.5 305,103.5 303.5,95.5 300.6,87.5 296.1,79.5 289.8,71.5 284,65.9 278.3,61.5 274,58.8 266,55 256,52 248,50.8 240,50.6 232,51.5 224.2,53.5 216,57.1 212,59.6 206,64.9 202.2,69.5 198,76.2 193.2,85.5 190.9,91.5 188.5,101.5 188,107.5 188.2,115.5 189.1,121.5 192.1,131.5 196,139.5 200,145.4 203.4,149.5 202.3,149.5 196.3,141.5 191.2,131.5 188.7,123.5 187.6,117.5 187.1,109.5 187.7,101.5 188.4,97.5 190.7,89.5 192.3,85.5 198.6,73.5 202,68.5 206,63.8 210,60.2 216,56.3 222,53.5 228.6,51.5Z"/>
<path fill="#a8ddb5" stroke="#a8ddb5" stroke-width="0.3" d="M236,49.4 244,49 254,50 262,51.9 272,55.9 280,60.7 288,67.3 295.3,75.5 300,82.7 303.3,89.5 306,98.8 307,107.5 306.7,115.5 304.8,125.5 302,133.6 297.9,141.5 292,149.5 290.9,149.5 296.9,141.5 300,136 302,131.5 304,125.5 305.3,119.5 306.2,109.5 305.9,103.5 304.9,97.5 302.4,89.5 299.5,83.5 294,75.2 290,70.5 282,63.2 274,57.9 268,55 260,52.2 250,50.2 242,49.8 232,50.8 224,52.8 217.5,55.5 210,60.2 206.3,63.5 202,68.5 198.6,73.5 192.3,85.5 190.7,89.5 188.4,97.5 187.3,105.5 187.1,109.5 187.6,117.5 189.8,127.5 191.2,131.5 195.1,139.5 197.6,143.5 202.3,149.5 201.3,149.5 200,148 194.1,139.5 191.2,133.5 188.4,125.5 187.1,119.5 186.4,113.5 186.5,105.5 187.2,99.5 189.2,91.5 191.4,85.5 197.7,73.5 200.3,69.5 205.3,63.5 210,59.3 216,55.5 222,52.8 230,50.4 235.5,49.5Z"/>
<path fill="#addfb7" stroke="#addfb7" stroke-width="0.3" d="M232,49.3 242,48.3 250,48.6 260,50.5 266,52.4 272,55 280,59.7 287.3,65.5 294,72.6 300.3,81.5 304.9,91.5 307.3,101.5 307.8,107.5 307.3,117.5 305.7,125.5 302.1,135.5 298,142.9 293.1,149.5 292,149.5 297.9,141.5 302,133.6 304.8,125.5 306.7,115.5 307,107.5 306,98.8 304.7,93.5 302,86.6 298.1,79.5 293.7,73.5 286,65.4 280,60.7 272,55.9 266,53.3 258,50.8 248,49.2 242,49 232,50 226,51.4 218,54.5 212,57.9 206,62.8 201.8,67.5 197.7,73.5 191.4,85.5 189.8,89.5 188,95.5 186.5,105.5 186.3,111.5 186.8,117.5 187.9,123.5 189.6,129.5 194.1,139.5 198,145.5 201.3,149.5 200,149.3 194,140.9 190.3,133.5 188.1,127.5 186.3,119.5 185.6,113.5 185.8,103.5 186.4,99.5 187.7,93.5 189.7,87.5 192,82.4 198,71.6 202,66.1 206.3,61.5 212,57.1 218,53.7 223.6,51.5 231,49.5Z"/>
<path fill="#b2e1b9" stroke="#b2e1b9" stroke-width="0.3" d="M228,49.5 232,48.6 240,47.6 250,47.8 259.3,49.5 265.8,51.5 274.6,55.5 283.8,61.5 292.4,69.5 298.7,77.5 303.3,85.5 306.9,95.5 307.8,99.5 308.5,105.5 308.3,115.5 307,123.5 303.8,133.5 299.8,141.5 294.1,149.5 293.1,149.5 298,142.9 302.1,135.5 305.7,125.5 307.3,117.5 307.8,111.5 307.3,101.5 304.9,91.5 302.4,85.5 298,77.9 293.1,71.5 287.3,65.5 280,59.7 272,55 266,52.4 256,49.5 248,48.4 238,48.5 232,49.3 223.6,51.5 218,53.7 212,57.1 206.3,61.5 200.9,67.5 196,74.9 192,82.4 188.3,91.5 186.4,99.5 185.5,109.5 186.3,119.5 188.1,127.5 189.5,131.5 194,140.9 197,145.5 200.2,149.5 199.1,149.5 194.7,143.5 190.3,135.5 187.9,129.5 185.8,121.5 185.2,117.5 184.7,109.5 185.3,101.5 186.4,95.5 188.1,89.5 190.6,83.5 195.9,73.5 200,67.4 204,62.8 207.6,59.5 214,55.1 221.6,51.5 228,49.5Z"/>
<path fill="#b6e3bb" stroke="#b6e3bb" stroke-width="0.3" d="M236,47.3 244,46.8 254,47.6 264,50 272.5,53.5 282,59.2 289.6,65.5 296,72.5 302.1,81.5 306,90 308.5,99.5 309.3,107.5 308.8,117.5 307.8,123.5 306.7,127.5 303.8,135.5 300,142.6 295.1,149.5 294.1,149.5 299.8,141.5 303.8,133.5 306.5,125.5 308.1,117.5 308.6,109.5 308.1,101.5 306.9,95.5 304.2,87.5 300,79.5 294,71.3 288,65.1 281.1,59.5 272,54.1 265.8,51.5 259.3,49.5 250,47.8 242,47.5 232,48.6 224,50.7 218,53 212,56.3 206,60.9 200,67.4 195.9,73.5 190.6,83.5 188.1,89.5 186,97.3 184.9,105.5 184.7,109.5 185.2,117.5 185.8,121.5 187.9,129.5 192.3,139.5 194.7,143.5 199.1,149.5 198.1,149.5 192,140.5 188.6,133.5 186.5,127.5 184.7,119.5 184,112.2 184.1,105.5 184.8,99.5 186.7,91.5 189.7,83.5 193.9,75.5 198,69 202,64 206.6,59.5 212.1,55.5 219.9,51.5 225.6,49.5 234.7,47.5Z"/>
<path fill="#bbe4be" stroke="#bbe4be" stroke-width="0.3" d="M232,47.3 244,46.1 252,46.6 262,48.6 272,52.4 280,56.9 288,63 296,71.3 301.8,79.5 305.8,87.5 308.4,95.5 310,105.5 309.8,115.5 308,125.6 305.4,133.5 301.5,141.5 296,149.5 295.1,149.5 300,142.6 304.6,133.5 307.8,123.5 308.8,117.5 309.3,111.5 308.8,101.5 307.7,95.5 306,90 304,85.2 300,78.1 294,70.1 288,64 280,57.8 272.5,53.5 264,50 254,47.6 248,46.9 238,47.1 230,48.4 222,50.7 215.6,53.5 210,56.9 204,61.9 199.1,67.5 193.9,75.5 189.7,83.5 186.7,91.5 184.8,99.5 184,107.3 184,112.2 184.7,119.5 186,125.7 187.8,131.5 192,140.5 198.1,149.5 197.2,149.5 192.9,143.5 189.6,137.5 186,128.4 184.3,121.5 183.5,115.5 183.2,109.5 184,99.9 185.9,91.5 188,85.6 192,77.5 196.8,69.5 201.6,63.5 205.7,59.5 212,54.9 218,51.7 223.6,49.5 231,47.5Z"/>
<path fill="#c0e6c0" stroke="#c0e6c0" stroke-width="0.3" d="M244,45.5 252,45.9 260,47.3 270,50.7 278,54.8 284.9,59.5 292,65.8 298.6,73.5 304,82 308,91.5 310,99.8 310.7,107.5 310,119.5 308.2,127.5 305.3,135.5 301.1,143.5 296.9,149.5 296,149.5 301.5,141.5 306.2,131.5 308.5,123.5 309.8,115.5 310,105.5 309.2,99.5 307.3,91.5 304,83.5 300,76.7 294,69 288,63 280,56.9 272,52.4 264,49.2 256,47.2 248,46.2 240,46.3 230,47.7 223.6,49.5 214,53.7 208,57.6 203.5,61.5 198.3,67.5 194,73.9 188,85.6 186,91.2 184.4,97.5 183.4,105.5 183.2,109.5 183.7,117.5 184.7,123.5 186,128.4 187.8,133.5 190.6,139.5 194,145.2 197.2,149.5 196.3,149.5 194.8,147.5 189.8,139.5 186.3,131.5 184,123.5 183,117.5 182.5,109.5 183.7,97.5 185.2,91.5 188,83.9 192.3,75.5 196,69.5 202,62.2 206,58.5 213.3,53.5 221.9,49.5 228,47.6 238,45.8 242.1,45.5Z"/>
<path fill="#c5e8c2" stroke="#c5e8c2" stroke-width="0.3" d="M236,45.4 248,44.9 254.3,45.5 263.2,47.5 268.9,49.5 274,51.8 282,56.5 290,62.9 298,71.5 303.4,79.5 308,89.4 310,96.4 311.1,103.5 311.4,109.5 311.1,115.5 309.4,125.5 306,135.6 301.9,143.5 297.7,149.5 296.9,149.5 302.3,141.5 306,133.8 308.2,127.5 310,119.5 310.7,111.5 310.6,105.5 310,99.8 308,91.5 305.7,85.5 302,78.5 296,70.2 289.6,63.5 282.2,57.5 274,52.6 267,49.5 260,47.3 248,45.5 240,45.6 230,47.1 221.9,49.5 214,53.1 207.3,57.5 202,62.2 196,69.5 192.3,75.5 188,83.9 185.2,91.5 183.7,97.5 182.5,109.5 183.6,121.5 185.6,129.5 189.8,139.5 192.1,143.5 196.3,149.5 195.5,149.5 191.3,143.5 187.2,135.5 184.3,127.5 182.6,119.5 182,114.1 182,105.4 182.7,99.5 184.5,91.5 188,82.3 192,74.8 196,68.5 200,63.5 206,57.8 212,53.6 220.4,49.5 228,47 235.6,45.5Z"/>
<path fill="#caeac4" stroke="#caeac4" stroke-width="0.3" d="M234,45.2 242,44.3 252,44.6 262,46.5 270,49.2 280,54.4 287.1,59.5 295.5,67.5 301.7,75.5 306.2,83.5 310,93.8 311.5,101.5 312,111.5 310.9,121.5 308,132.2 303.8,141.5 298.5,149.5 297.7,149.5 301.9,143.5 306,135.6 308.3,129.5 310.3,121.5 311.4,109.5 311.1,103.5 310,96.4 308.7,91.5 305.5,83.5 302.2,77.5 298,71.5 292.7,65.5 288,61.1 280,55.2 273.4,51.5 266,48.4 258,46.2 250,45 242,44.9 236,45.4 228,47 220.4,49.5 216,51.4 209.1,55.5 204,59.5 198.3,65.5 194,71.4 189.4,79.5 185.8,87.5 183.9,93.5 182,105.4 182,99.5 183.8,91.5 185.9,85.5 188,80.8 192,73.5 198,65 202,60.7 205.6,57.5 214,51.9 224,47.6 232.2,45.5ZM182.1,115.5 183.8,125.5 186,132.6 190,141.2 195.5,149.5 194.7,149.5 191.8,145.5 188,138.8 186,134.3 184,128.6 182.3,121.5 182,114.1Z"/>
<path fill="#cdecc6" stroke="#cdecc6" stroke-width="0.3" d="M230,45.4 240,43.9 250,43.8 262,45.8 272,49.4 279.8,53.5 284,56.3 290,61.1 296,67.1 302.4,75.5 306,81.7 310,91.5 312.1,101.5 312.5,105.5 312.5,113.5 311.1,123.5 308,133.9 304,142.3 299.3,149.5 298.5,149.5 303.8,141.5 306.7,135.5 309.5,127.5 310.9,121.5 311.9,113.5 312,107.5 311.5,101.5 310,93.8 307.1,85.5 304,79.3 300.3,73.5 295.5,67.5 289.5,61.5 284,57.1 278,53.2 270,49.2 265.4,47.5 258,45.5 250,44.4 242,44.3 232,45.5 226,47 220,49.1 214,51.9 208.2,55.5 203.3,59.5 199.3,63.5 194.6,69.5 190,77.1 185.9,85.5 183.8,91.5 182,99.8 182,96.5 182.7,93.5 184.5,87.5 187,81.5 192.6,71.5 198.6,63.5 204,58.2 212,52.5 218,49.4 222,47.8 229.7,45.5ZM182.3,121.5 184,128.6 186.5,135.5 190,142.5 194.7,149.5 193.9,149.5 190,143.7 186,135.9 184,130.6 182,123.1 182,119.8Z"/>
<path fill="#d0edc9" stroke="#d0edc9" stroke-width="0.3" d="M240,43.4 244,43.1 250,43.3 258,44.3 268,47.1 276,50.7 284,55.5 292,62.1 298,68.5 304.4,77.5 309.2,87.5 311.6,95.5 312.9,103.5 312.9,115.5 311.7,123.5 310,129.9 308,135.5 304,143.5 300,149.5 299.3,149.5 304,142.3 308,133.9 310,128 311.5,121.5 312.5,113.5 312.5,105.5 311.8,99.5 310,91.5 307.8,85.5 303.7,77.5 300,72 296,67.1 290,61.1 284,56.3 279.8,53.5 272,49.4 267.3,47.5 260,45.3 250,43.8 244,43.7 238,44.1 230,45.4 222,47.8 213.8,51.5 207.4,55.5 202,60 198,64.2 193.9,69.5 190.2,75.5 186,83.7 183.8,89.5 182,96.5 182,93.9 183.9,87.5 188,78.3 191.9,71.5 194.7,67.5 202,59.4 209.5,53.5 218,48.9 228,45.4 238.4,43.5ZM182.1,123.5 184,130.6 186,135.9 190,143.7 193.9,149.5 193.2,149.5 190.5,145.5 186,137.3 182.5,127.5 182,125.7 182,123.1Z"/>
<path fill="#d3eecc" stroke="#d3eecc" stroke-width="0.3" d="M236,43.3 240,42.8 248,42.6 256,43.4 266,45.8 274,49 284,54.8 290,59.5 296.2,65.5 299.6,69.5 304,75.8 308,83.2 311.7,93.5 313.2,101.5 313.7,111.5 312.6,121.5 310.1,131.5 305.7,141.5 300.6,149.5 300,149.5 304,143.5 308,135.5 310,129.9 312.1,121.5 312.9,115.5 313.1,107.5 312.4,99.5 311.1,93.5 309.2,87.5 306,80.4 301.8,73.5 298,68.5 292,62.1 286,57 280,52.9 273.7,49.5 266,46.4 258,44.3 252,43.4 244,43.1 238,43.5 230,44.9 221.4,47.5 216,49.8 209.5,53.5 204.1,57.5 199.8,61.5 194.7,67.5 190.7,73.5 186.4,81.5 183.9,87.5 182,93.9 182,91.7 184,85.7 188.9,75.5 195.6,65.5 202,58.7 210,52.6 216,49.3 225.9,45.5 234.7,43.5ZM182.5,127.5 186,137.3 188.1,141.5 193.2,149.5 192.6,149.5 189.8,145.5 185.5,137.5 182.5,129.5 182,127.8 182,125.7Z"/>
<path fill="#d5efcf" stroke="#d5efcf" stroke-width="0.3" d="M232,43.5 240,42.3 250,42.2 260,43.6 266,45.2 272.1,47.5 282,52.8 290,58.7 297,65.5 304,74.7 308,81.9 311.7,91.5 313.7,101.5 314.2,111.5 313.2,121.5 310.6,131.5 308.3,137.5 306,142.1 301.3,149.5 300.6,149.5 304.6,143.5 308,136.8 310.1,131.5 312.6,121.5 313.6,113.5 313.7,107.5 313.2,101.5 311.7,93.5 309.8,87.5 306.2,79.5 302.5,73.5 298,67.6 294,63.2 288,57.8 280,52.2 274,49 266,45.8 260,44.2 252,42.9 244,42.6 238,43 230,44.4 222,46.8 216,49.3 210,52.6 206,55.4 202,58.7 195.6,65.5 191.3,71.5 187.8,77.5 184,85.7 182,91.7 182,89.9 183.5,85.5 188.3,75.5 194,66.8 200.5,59.5 206,54.8 214,49.8 220,47 231.9,43.5ZM182.5,129.5 184,133.9 187.5,141.5 192.6,149.5 191.9,149.5 190,146.8 186,139.8 182.6,131.5 182,129.7 182,127.8Z"/>
<path fill="#d8f0d2" stroke="#d8f0d2" stroke-width="0.3" d="M230,43.4 240,41.8 252,41.8 262,43.5 272,46.9 282,52.1 290,57.9 298,65.8 303.9,73.5 308.4,81.5 312,90.8 314.3,101.5 314.8,109.5 314,119.7 312.9,125.5 311.2,131.5 306.9,141.5 302,149.5 301.3,149.5 306,142.1 309.1,135.5 311.8,127.5 313.2,121.5 314,115.5 314.1,105.5 313.1,97.5 311.7,91.5 309.6,85.5 306.8,79.5 303.2,73.5 298.7,67.5 296,64.4 290,58.7 284,54.1 276.3,49.5 272.1,47.5 264,44.6 258,43.2 248,42.1 240,42.3 234,43.1 228,44.4 220,47 214,49.8 208,53.4 202,58.1 198,62 192,69.5 188.3,75.5 184.3,83.5 182,89.9 182,88.2 182.9,85.5 187.7,75.5 192.8,67.5 200,59.3 207.1,53.5 213.6,49.5 220,46.5 229.7,43.5ZM182.6,131.5 186,139.8 191.9,149.5 191.2,149.5 189.8,147.5 186,140.9 182.7,133.5 182,131.5 182,129.7Z"/>
<path fill="#dbf1d5" stroke="#dbf1d5" stroke-width="0.3" d="M240,41.3 250,41.1 260,42.5 268,44.7 278,49.1 286,54.1 292.7,59.5 300.2,67.5 305.8,75.5 310,83.7 312.8,91.5 314.8,101.5 315.3,111.5 314.3,121.5 312.4,129.5 308.5,139.5 305.3,145.5 302.6,149.5 302,149.5 306,143.2 310.5,133.5 312.4,127.5 313.7,121.5 314.8,109.5 314.3,101.5 312.8,93.5 310.2,85.5 307.4,79.5 303.9,73.5 300,68.2 296,63.6 290,57.9 284,53.4 276,48.7 268,45.3 262,43.5 254,42 248,41.6 240,41.8 234,42.6 228,43.9 220,46.5 213.6,49.5 207.1,53.5 202,57.5 198,61.3 192.8,67.5 187.7,75.5 183.7,83.5 182,88.2 182,86.5 184,81.5 190,70.7 196,62.8 199.1,59.5 204,55.2 210,51 218,46.8 228,43.4 238.1,41.5ZM182,131.5 186.3,141.5 191.2,149.5 190.6,149.5 190,148.7 186,142.1 182.9,135.5 182,133.1 182,131.5Z"/>
<path fill="#ddf2d8" stroke="#ddf2d8" stroke-width="0.3" d="M236,41.2 244,40.5 252,40.7 256,41.2 260,41.9 268,44.1 276.1,47.5 282,50.7 286.2,53.5 294,59.9 299.3,65.5 302.5,69.5 306.5,75.5 310.5,83.5 313.9,93.5 315.1,99.5 315.8,111.5 314.8,121.5 312.3,131.5 309.1,139.5 303.3,149.5 302.6,149.5 305.3,145.5 310.3,135.5 312.4,129.5 314.3,121.5 315.2,113.5 315.3,107.5 314.2,97.5 312.8,91.5 310,83.7 308,79.5 304,72.7 300.2,67.5 294.8,61.5 290.4,57.5 284,52.7 278,49.1 270.1,45.5 264,43.5 258,42.1 250,41.1 242,41.1 234,42.1 228,43.4 220,46 212.6,49.5 208,52.3 202,56.9 197.2,61.5 193.7,65.5 189.5,71.5 186,77.5 182,86.5 182,85 183.4,81.5 187.6,73.5 190.2,69.5 196.5,61.5 202.9,55.5 210,50.5 218,46.3 226,43.4 234.5,41.5ZM182.2,133.5 186,142.1 190.6,149.5 189.9,149.5 188,146.6 184,139.3 182,134.6 182,133.1Z"/>
<path fill="#e0f3db" stroke="#e0f3db" stroke-width="0.3" d="M232,41.4 240,40.2 252,40.2 262,41.8 272,45 282,50 289.8,55.5 294,59.1 298.3,63.5 304.6,71.5 310,81 312.7,87.5 313.9,91.5 315.9,101.5 316.4,111.5 315.4,121.5 312.9,131.5 310.6,137.5 308,142.9 303.9,149.5 303.3,149.5 308,141.7 310.9,135.5 313.5,127.5 314.8,121.5 315.6,115.5 315.8,107.5 315.1,99.5 313.9,93.5 312.1,87.5 308.7,79.5 302.5,69.5 298,64 292,58.1 286.2,53.5 279.9,49.5 274,46.5 268,44.1 260,41.9 252,40.7 244,40.5 236,41.2 232,41.9 222,44.7 216,47.2 208.4,51.5 202.9,55.5 196.5,61.5 191.6,67.5 187.6,73.5 183.4,81.5 182,85 182,83.5 184,79 189.5,69.5 196,61.3 202,55.6 210,49.9 216,46.7 224,43.5 231.7,41.5ZM182.3,135.5 186,143.2 189.9,149.5 189.2,149.5 185.5,143.5 182,136.1 182,134.6Z"/>
<path fill="#e3f4de" stroke="#e3f4de" stroke-width="0.3" d="M244,39.5 254,39.8 264,41.7 274,45.2 282,49.3 290,54.8 298,62.2 302.5,67.5 307.8,75.5 312.6,85.5 315.5,95.5 316.7,103.5 316.9,113.5 315.6,123.5 313.5,131.5 310.4,139.5 304.7,149.5 303.9,149.5 307.7,143.5 312.2,133.5 314.6,125.5 315.4,121.5 316.4,111.5 316.1,103.5 315.3,97.5 313.9,91.5 312.7,87.5 309.3,79.5 304.6,71.5 300,65.4 294,59.1 289.8,55.5 286,52.6 278,47.8 270,44.2 264,42.3 254,40.4 248,40 240,40.2 234,41 228,42.3 220,44.9 212,48.7 206,52.5 202,55.6 196,61.3 192.4,65.5 188.2,71.5 184,79 182,83.5 182,82 184.1,77.5 187.5,71.5 192,65.2 198,58.5 206,51.9 212,48.1 218,45.2 224,42.9 234,40.4 243.3,39.5ZM182.6,137.5 185.5,143.5 189.2,149.5 188.5,149.5 184.8,143.5 182,137.6 182,136.1Z"/>
<path fill="#e6f5e1" stroke="#e6f5e1" stroke-width="0.3" d="M238,39.3 248,38.8 260,40.1 268,42.2 276,45.4 282,48.5 292,55.6 300,63.5 304.8,69.5 307.4,73.5 311.6,81.5 315.2,91.5 317.1,101.5 317.5,113.5 316.6,121.5 314.8,129.5 313.5,133.5 309.1,143.5 305.4,149.5 304.7,149.5 309.4,141.5 312.8,133.5 314.7,127.5 316.3,119.5 317,109.5 316.7,103.5 315.5,95.5 314.5,91.5 312.6,85.5 308.9,77.5 306,72.5 300.9,65.5 295.3,59.5 290,54.8 284,50.5 278,47.1 268,42.9 262,41.2 254,39.8 246,39.4 236,40.1 224,42.9 216,46.1 210,49.3 202,54.9 198,58.5 193.4,63.5 188.8,69.5 184.1,77.5 182,82 182,80.5 183.4,77.5 189.5,67.5 196,59.8 202.9,53.5 210,48.6 218,44.6 226,41.7 232,40.2 236.7,39.5ZM182.8,139.5 188.5,149.5 187.8,149.5 183.1,141.5 182,139.1 182,137.6Z"/>
<path fill="#e9f7e3" stroke="#e9f7e3" stroke-width="0.3" d="M234,39.2 244,38.1 256,38.7 264,40.3 272,42.9 276,44.6 284,48.9 292,54.6 296,58.2 301,63.5 307,71.5 312,80.8 315.3,89.5 317.5,99.5 318.2,111.5 317.3,121.5 314.9,131.5 310.9,141.5 306.2,149.5 305.4,149.5 309.1,143.5 312.8,135.5 314.8,129.5 316.6,121.5 317.2,117.5 317.6,109.5 317.1,101.5 315.7,93.5 313.2,85.5 310.7,79.5 304.8,69.5 296,59.2 290,54 282,48.5 276,45.4 268,42.2 262,40.5 254,39.2 244,38.8 238,39.3 232,40.2 224,42.3 214,46.4 210,48.6 200,55.9 194,61.9 189.5,67.5 185.6,73.5 182,80.5 182,79 183.7,75.5 188.7,67.5 193.5,61.5 200,55.1 208,49.2 216,44.8 222,42.3 232.7,39.5ZM182.2,139.5 187.8,149.5 187,149.5 182,140.7 182,139.1Z"/>
<path fill="#ecf8e6" stroke="#ecf8e6" stroke-width="0.3" d="M230,39.2 232,38.6 240,37.7 252,37.6 262,38.9 268,40.5 274,42.7 286,49.1 294,55.2 300.4,61.5 306.7,69.5 310.4,75.5 314.9,85.5 316.8,91.5 318.4,99.5 319.1,107.5 318.8,117.5 317,127.5 312.8,139.5 307.2,149.5 306.2,149.5 310.9,141.5 313.5,135.5 315.5,129.5 317.3,121.5 318,115.5 318.2,107.5 317.5,99.5 316.4,93.5 314.7,87.5 311.4,79.5 307,71.5 302.7,65.5 298,60.2 292,54.6 282,47.7 272,42.9 266,40.9 256,38.7 252,38.3 244,38.1 238,38.6 230,40 222,42.3 216,44.8 208,49.2 204,51.9 198,56.9 193.5,61.5 188.7,67.5 184.8,73.5 182,79 182,77.2 182.8,75.5 189.2,65.5 194.4,59.5 202,52.5 210,47 214,44.8 224,40.7 229.3,39.5ZM182.4,141.5 187,149.5 186.1,149.5 183.5,145.5 182,142.4 182,140.7Z"/>
<path fill="#eff9e9" stroke="#eff9e9" stroke-width="0.3" d="M182,37.5 182,37.5 182,37.5ZM184,39.5 186,39.5 186,45.5 188,47.5 188,49.5 188,47.5 186,45.5 186,41.5 184,39.5ZM190,38.8 190.7,39.5 190,40.5 189.3,39.5ZM196,37.5 197,37.5 196,38.5 195.5,37.5ZM200,37.5 200,39.5 200,37.5ZM204,39.5 206,37.5 208,39.5 208,41.5 204,39.5ZM218,39.5 224,39.5 224,37.5 243.8,37.5 232,38.6 224,40.7 214,44.8 210,47 202,52.5 194.4,59.5 189.2,65.5 185.1,71.5 182,77.2 182,73.5 184,71.5 184,69.5 188,65.5 188,63.5 200,51.5 202,51.5 208,45.5 210,45.5 212,43.5 214,43.5 216,41.5 218,41.5 218,39.5ZM250,37.5 266,37.5 268,39.5 272,39.5 274,41.5 276,41.5 278,43.5 280,43.5 282,45.5 284,45.5 286,47.5 288,47.5 306,65.5 308,65.5 308,69.5 312,73.5 312,75.5 314,77.5 314,79.5 316,81.5 316,85.5 318,87.5 318,91.5 320,93.5 320,125.5 318,127.5 318,131.5 316,133.5 316,137.5 314,139.5 314,141.5 312,143.5 312,145.5 310,147.5 310,149.5 307.2,149.5 312.8,139.5 315.1,133.5 317,127.5 318.8,117.5 319.1,113.5 318.7,101.5 316.8,91.5 314.9,85.5 310.4,75.5 305.3,67.5 300.4,61.5 294,55.2 286,49.1 278,44.6 268,40.5 260,38.5 249.1,37.5ZM312,37.5 312.5,37.5 312,38.5 311,37.5ZM194,41.5 196,41.5 194,41.5ZM200,45.5 199,47.5 200,49.5 197,47.5 198,46.5 200,45.5ZM308,49.5 310,49.5 308,51.5 308,49.5ZM308,58.8 309,59.5 308,60.5 307,59.5ZM182.5,143.5 186.1,149.5 184,149.5 182,147.5 182,142.4Z"/>
<path fill="#f2faec" stroke="#f2faec" stroke-width="0.3" d="M184,37.5 195.5,37.5 196,38.5 197,37.5 200,37.5 200,39.5 200,37.5 206,37.5 204,39.5 208,41.5 208,39.5 206,37.5 224,37.5 224,39.5 218,39.5 218,41.5 216,41.5 214,43.5 212,43.5 210,45.5 208,45.5 202,51.5 200,51.5 188,63.5 188,65.5 184,69.5 184,71.5 182,73.5 182,37.5ZM184,39.5 186,41.5 186,45.5 188,47.5 188,49.5 188,47.5 186,45.5 186,39.5 184,39.5ZM189.3,39.5 190,40.5 190.7,39.5 190,38.8ZM194,41.5 196,41.5 194,41.5ZM200,45.5 198,46.5 197,47.5 200,49.5 199,47.5 200,45.5ZM260,37.5 311,37.5 312,38.5 312.5,37.5 320,37.5 320,115.5 320,93.5 318,91.5 318,87.5 316,85.5 316,81.5 314,79.5 314,77.5 312,75.5 312,73.5 308,69.5 308,65.5 306,65.5 288,47.5 286,47.5 284,45.5 282,45.5 280,43.5 278,43.5 276,41.5 274,41.5 272,39.5 268,39.5 266,37.5 260,37.5ZM308,49.5 308,51.5 310,49.5 308,49.5ZM307,59.5 308,60.5 309,59.5 308,58.8ZM318,127.5 320,125.5 320,149.5 310,149.5 310,147.5 312,145.5 312,143.5 314,141.5 314,139.5 316,137.5 316,133.5 318,131.5 318,127.5ZM182,145.5 182,147.5 184,149.5 182,149.5 182,145.5Z"/>
</g>
<g clip-path="url(#pc2)"><path d="M184.1,75.0L185.2,73.1M186.0,71.9L187.2,70.0M188.0,68.9L189.3,67.1M190.1,65.9L191.5,64.2M192.4,63.1L193.9,61.5M194.8,60.5L196.4,58.9M197.4,57.9L199.0,56.4M200.1,55.5L201.8,54.1M202.9,53.2L204.7,51.9M205.8,51.0L207.7,49.8M208.9,49.1L210.8,47.9M212.0,47.2L213.9,46.2M215.2,45.6L217.2,44.6M218.5,44.0L220.5,43.2M221.9,42.7L223.9,42.0M225.3,41.5L227.4,40.9M228.8,40.5L230.9,40.0M232.3,39.7L234.5,39.3M235.9,39.1L238.1,38.8M239.5,38.6L241.7,38.5M243.1,38.4L245.3,38.3M246.7,38.3L248.9,38.3M250.3,38.4L252.5,38.5M253.9,38.7L256.1,38.9M257.5,39.1L259.7,39.5M261.1,39.8L263.2,40.3M264.6,40.6L266.7,41.2M268.1,41.6L270.2,42.3M271.5,42.8L273.6,43.6M274.9,44.1L276.9,45.0M278.2,45.6L280.1,46.6M281.4,47.3L283.3,48.4M284.5,49.2L286.4,50.4M287.5,51.2L289.3,52.5M290.5,53.3L292.2,54.7M293.3,55.6L294.9,57.1M295.9,58.0L297.5,59.6M298.5,60.6L300.0,62.2M300.9,63.3L302.3,65.0M303.2,66.1L304.5,67.9M305.4,69.0L306.6,70.9M307.3,72.1L308.5,74.0M309.2,75.2L310.2,77.1M310.8,78.4L311.8,80.4M312.4,81.7L313.2,83.7M313.7,85.1L314.4,87.1M314.9,88.5L315.5,90.6M315.9,92.0L316.4,94.1M316.7,95.5L317.1,97.7M317.3,99.1L317.6,101.3M317.8,102.7L317.9,104.9M318.0,106.3L318.1,108.5M318.1,109.9L318.1,112.1M318.0,113.5L317.9,115.7M317.7,117.1L317.5,119.3M317.3,120.7L316.9,122.9M316.6,124.3L316.1,126.4M315.8,127.8L315.2,129.9M314.8,131.3L314.1,133.4M313.6,134.7L312.8,136.8M312.3,138.1L311.4,140.1M310.8,141.4L309.8,143.3M309.1,144.6L308.0,146.5M190.2,78.5L191.3,76.6M192.0,75.4L193.2,73.5M194.1,72.4L195.4,70.6M196.2,69.5L197.6,67.8M198.6,66.7L200.1,65.1M201.1,64.1L202.6,62.6M203.7,61.6L205.4,60.2M206.5,59.3L208.2,58.0M209.4,57.1L211.2,55.9M212.4,55.1L214.3,54.0M215.5,53.3L217.4,52.3M218.7,51.6L220.7,50.7M222.0,50.2L224.1,49.4M225.4,48.9L227.5,48.2M228.8,47.8L231.0,47.2M232.3,46.9L234.5,46.4M235.9,46.2L238.1,45.9M239.5,45.7L241.7,45.5M243.1,45.4L245.3,45.3M246.7,45.3L248.9,45.3M250.3,45.4L252.5,45.6M253.9,45.7L256.1,46.0M257.5,46.2L259.7,46.6M261.1,46.9L263.2,47.5M264.6,47.8L266.7,48.5M268.0,48.9L270.1,49.7M271.4,50.2L273.4,51.1M274.7,51.7L276.6,52.7M277.9,53.4L279.8,54.5M281.0,55.2L282.9,56.4M284.0,57.3L285.8,58.6M286.9,59.4L288.6,60.8M289.7,61.8L291.3,63.3M292.3,64.3L293.8,65.8M294.8,66.9L296.2,68.6M297.1,69.7L298.4,71.4M299.3,72.6L300.5,74.4M301.3,75.6L302.4,77.5M303.1,78.7L304.1,80.6M304.8,81.9L305.7,83.9M306.2,85.2L307.0,87.3M307.5,88.6L308.2,90.7M308.6,92.0L309.2,94.2M309.5,95.5L310.0,97.7M310.2,99.1L310.5,101.3M310.7,102.7L310.9,104.9M311.0,106.3L311.1,108.5M311.1,109.9L311.1,112.1M311.0,113.5L310.8,115.7M310.7,117.1L310.4,119.3M310.2,120.7L309.8,122.9M309.5,124.3L308.9,126.4M308.6,127.8L307.9,129.9M307.5,131.2L306.7,133.3M306.2,134.6L305.3,136.6M304.7,137.9L303.7,139.8M303.0,141.1L301.9,143.0M196.3,82.0L197.4,80.1M198.1,78.9L199.3,77.1M200.1,75.9L201.5,74.2M202.4,73.1L203.8,71.4M204.7,70.4L206.3,68.8M207.3,67.8L208.9,66.3M210.0,65.4L211.7,64.1M212.9,63.2L214.7,62.0M215.9,61.2L217.8,60.0M219.0,59.4L220.9,58.3M222.2,57.7L224.2,56.8M225.5,56.3L227.6,55.5M228.9,55.1L231.0,54.4M232.4,54.1L234.5,53.6M235.9,53.3L238.1,52.9M239.5,52.7L241.7,52.5M243.1,52.4L245.3,52.3M246.7,52.3L248.9,52.3M250.3,52.4L252.5,52.6M253.9,52.8L256.1,53.1M257.5,53.3L259.6,53.8M261.0,54.1L263.1,54.7M264.5,55.1L266.5,55.9M267.9,56.4L269.9,57.2M271.2,57.8L273.2,58.8M274.4,59.5L276.3,60.6M277.5,61.3L279.3,62.5M280.5,63.3L282.2,64.7M283.3,65.6L285.0,67.0M286.0,67.9L287.6,69.5M288.6,70.5L290.1,72.1M291.0,73.2L292.3,74.9M293.2,76.1L294.4,77.9M295.2,79.1L296.4,81.0M297.0,82.2L298.1,84.1M298.7,85.4L299.6,87.4M300.1,88.7L300.9,90.8M301.3,92.1L302.0,94.2M302.3,95.6L302.8,97.7M303.1,99.1L303.5,101.3M303.7,102.7L303.9,104.9M304.0,106.3L304.1,108.5M304.1,109.9L304.1,112.1M304.0,113.5L303.8,115.7M303.6,117.1L303.3,119.3M303.1,120.7L302.6,122.8M302.3,124.2L301.7,126.3M301.3,127.7L300.5,129.7M300.0,131.1L299.2,133.1M298.6,134.4L297.6,136.4M296.9,137.6L295.8,139.5M202.3,85.5L203.4,83.6M204.2,82.4L205.4,80.6M206.2,79.4L207.6,77.7M208.5,76.6L210.0,75.0M211.0,74.0L212.5,72.5M213.6,71.6L215.3,70.2M216.4,69.3L218.2,68.0M219.4,67.3L221.3,66.1M222.5,65.4L224.4,64.4M225.7,63.8L227.7,62.9M229.0,62.4L231.1,61.7M232.5,61.3L234.6,60.7M236.0,60.4L238.1,60.0M239.5,59.8L241.7,59.5M243.1,59.4L245.3,59.3M246.7,59.3L248.9,59.3M250.3,59.4L252.5,59.6M253.9,59.8L256.1,60.2M257.4,60.5L259.6,61.0M260.9,61.4L263.0,62.0M264.3,62.5L266.4,63.3M267.7,63.9L269.7,64.9M270.9,65.5L272.8,66.6M274.0,67.4L275.8,68.6M277.0,69.4L278.7,70.8M279.8,71.7L281.4,73.2M282.4,74.2L283.9,75.7M284.8,76.8L286.2,78.5M287.1,79.6L288.4,81.4M289.1,82.6L290.3,84.5M291.0,85.7L292.0,87.6M292.6,88.9L293.5,90.9M294.0,92.2L294.7,94.3M295.1,95.7L295.7,97.8M296.0,99.2L296.4,101.3M296.6,102.7L296.9,104.9M297.0,106.3L297.1,108.5M297.1,109.9L297.1,112.1M297.0,113.5L296.8,115.7M296.6,117.1L296.2,119.3M295.9,120.6L295.4,122.8M295.0,124.1L294.4,126.2M293.9,127.5L293.1,129.6M292.5,130.9L291.5,132.9M290.9,134.1L289.8,136.0M208.4,89.0L209.5,87.1M210.3,85.8L211.5,84.0M212.4,82.8L213.8,81.2M214.9,80.0L216.4,78.5M217.5,77.5L219.2,76.0M220.3,75.1L222.1,73.8M223.4,73.0L225.3,71.9M226.6,71.2L228.6,70.2M229.9,69.6L232.0,68.8M233.4,68.3L235.5,67.7M237.0,67.4L239.1,66.9M240.6,66.7L242.8,66.5M244.3,66.3L246.5,66.3M248.0,66.3L250.2,66.4M251.6,66.6L253.8,66.9M255.3,67.2L257.4,67.7M258.9,68.1L261.0,68.7M262.4,69.2L264.4,70.1M265.8,70.7L267.7,71.7M269.0,72.5L270.9,73.7M272.1,74.5L273.8,75.9M275.0,76.8L276.6,78.3M277.7,79.3L279.2,81.0M280.1,82.1L281.5,83.8M282.4,85.0L283.6,86.9M284.3,88.2L285.4,90.1M286.0,91.4L286.9,93.5M287.5,94.8L288.2,96.9M288.6,98.4L289.1,100.5M289.4,102.0L289.7,104.1M289.9,105.6L290.1,107.8M290.1,109.3L290.1,111.5M290.0,113.0L289.8,115.2M289.6,116.7L289.2,118.8M288.8,120.3L288.2,122.4M287.8,123.8L287.0,125.9M286.4,127.3L285.5,129.3M284.8,130.6L283.7,132.5M214.4,92.5L215.5,90.6M216.4,89.3L217.6,87.6M218.6,86.4L220.0,84.7M221.1,83.7L222.7,82.2M223.9,81.2L225.6,79.9M226.9,79.1L228.8,77.9M230.1,77.2L232.1,76.3M233.5,75.7L235.5,75.0M237.0,74.6L239.1,74.1M240.6,73.8L242.8,73.5M244.3,73.4L246.5,73.3M248.0,73.3L250.2,73.5M251.7,73.6L253.8,74.0M255.3,74.3L257.4,74.9M258.8,75.4L260.9,76.2M262.2,76.8L264.2,77.8M265.5,78.6L267.4,79.8M268.6,80.6L270.3,82.0M271.4,83.0L273.0,84.5M274.0,85.6L275.4,87.3M276.3,88.5L277.5,90.4M278.3,91.7L279.3,93.6M280.0,95.0L280.8,97.0M281.3,98.4L281.9,100.5M282.3,102.0L282.7,104.1M282.9,105.6L283.1,107.8M283.1,109.3L283.1,111.5M283.0,113.0L282.7,115.2M282.5,116.7L282.0,118.8M281.6,120.3L280.9,122.4M280.3,123.8L279.4,125.8M278.8,127.1L277.7,129.0" stroke="#262626" stroke-width="0.95" fill="none"/></g>
<path d="M204.6,85.6 L205.1,88.6 L210.7,92.7 L216.4,95.1 L218.8,96.7 L222.9,99.6 L224.5,103.2 L226.9,105.6 L231.0,106.0 L233.4,104.0 L235.0,100.8 L233.6,97.1 L233.8,92.5 L235.5,88.5 L236.3,84.4 L237.9,80.4 L240.3,76.3 L243.6,77.1 L248.6,76.1 L253.6,76.6 L259.1,78.3 L264.5,80.1 L269.1,82.0 L274.6,82.9 L280.0,84.7 L280.9,88.3 L281.9,92.9 L280.9,97.4 L276.4,100.2 L280.9,101.1 L284.6,103.8 L286.0,108.4 L286.4,115.1 L286.0,120.1 L285.6,126.1 L283.6,130.1 L281.6,132.1 L279.6,135.1 L277.6,140.1 L274.6,142.1 L269.6,144.1 L264.6,145.6 L259.6,145.1 L252.6,145.6 L250.6,144.1 L251.6,140.1 L250.6,137.1 L251.1,133.1 L250.6,128.1 L248.6,125.1 L245.6,123.1 L243.6,121.1 L241.6,119.6 L239.2,125.5 L237.6,127.9 L239.2,132.0 L236.8,133.6 L234.4,132.8 L230.3,133.6 L225.5,131.1 L223.0,128.7 L220.6,126.3 L219.8,122.2 L219.0,118.2 L214.1,118.2 L213.7,115.8 L215.7,114.1 L214.9,110.1 L215.6,108.9 L214.8,104.8 L215.6,102.4 L214.0,100.8 L210.7,98.3 L206.7,95.9 L204.3,91.1 Z" fill="#e4e4e4"/>
<path d="M182.0,84.1 L185.6,82.6 L187.7,84.1 L187.1,88.1 L184.1,91.4 L182.0,91.4 Z" fill="#e4e4e4"/>
</g>
<rect x="219.3" y="73.5" width="26.5" height="25.5" fill="none" stroke="#d9534f" stroke-width="1.1"/>
<path d="M237.8,77.0 L240.4,76.6 L240.8,79.6 L238.4,80.2 Z" fill="none" stroke="#d9534f" stroke-width="0.8"/>
<text x="192.2" y="109.7" font-size="7.2" fill="#333" textLength="24" lengthAdjust="spacingAndGlyphs">10 m s<tspan dy="-2.8" font-size="5">−1</tspan></text>
<line x1="201" y1="111.7" x2="207.6" y2="111.7" stroke="#444" stroke-width="0.9"/>
<clipPath id="pc3f"><rect x="324.3" y="37.5" width="136.2" height="111.9"/></clipPath>
<clipPath id="pc3"><path d="M325.12,73.15 A73.3,73.3 0 0 1 452.08,146.45 Z"/></clipPath>
<g clip-path="url(#pc3f)"><g clip-path="url(#pc3)" >
<path fill="#63b8ae" stroke="#63b8ae" stroke-width="0.3" d="M376.3,55.2 378.3,55 382.4,55.5 385.9,57.5 386.5,59.5 385.6,61.5 379.2,67.5 377.9,69.5 376.3,72.7 374.3,79.5 372.6,83.5 370.3,85.3 368.3,85.3 366.3,84.6 364.3,83.6 361.9,81.5 360.2,79.5 359.2,77.5 358.9,73.5 360.7,67.5 364.3,61.7 366.6,59.5 369.6,57.5 374.8,55.5Z"/>
<path fill="#87d0c4" stroke="#87d0c4" stroke-width="0.3" d="M374.3,49.2 380.3,48.7 386.3,50 389.6,51.5 392.3,53.3 394.3,55.5 395.2,57.5 395.2,59.5 394.3,61.7 385.8,69.5 382.4,73.5 381.2,75.5 379.5,79.5 377.4,87.5 376.6,91.5 377,93.5 376.3,93.6 374.3,92.2 366,89.5 362.1,87.5 359.2,85.5 355.3,81.5 354.4,79.5 353.8,75.5 354.9,67.5 356.3,64.1 358.3,60.7 360.3,58.2 364.3,54.3 368.4,51.5 373.1,49.5ZM374.8,55.5 369.6,57.5 366.6,59.5 364.3,61.7 360.7,67.5 358.9,73.5 359.2,77.5 360.2,79.5 361.9,81.5 364.3,83.6 366.3,84.6 368.3,85.3 370.3,85.3 372.6,83.5 374.3,79.5 376.3,72.7 377.9,69.5 379.2,67.5 385.6,61.5 386.5,59.5 385.9,57.5 382.4,55.5 378.3,55 376.3,55.2ZM378.3,94.4 378.7,95.5 378.3,95.9 378,95.5ZM380.3,97.2 380.3,98.1 380,97.5Z"/>
<path fill="#a9ded6" stroke="#a9ded6" stroke-width="0.3" d="M372.3,43.1 378.3,42.3 384.3,42.3 390.8,43.5 394.3,44.9 398.3,47.5 400.3,49.6 402.7,53.5 404,57.5 404.1,59.5 402.8,63.5 400.3,66.2 388.3,76.1 386.3,78.6 384.7,81.5 383.3,85.5 383.2,89.5 387.5,105.5 387.5,107.5 388.3,108.3 388.6,109.5 388.3,110.6 384.3,106.6 372.3,97.4 368.3,95.1 358.3,90.7 352.3,86.7 349.8,83.5 346.8,75.5 346,71.5 346.5,67.5 349,61.5 352.6,55.5 356,51.5 360.3,48.1 365.1,45.5 370.8,43.5ZM373.1,49.5 368.4,51.5 364.3,54.3 360.3,58.2 358.3,60.7 356.3,64.1 354.9,67.5 353.8,75.5 354.4,79.5 355.3,81.5 359.2,85.5 362.1,87.5 366,89.5 374.3,92.2 376.3,93.6 377,93.5 376.6,91.5 377.4,87.5 379.5,79.5 381.2,75.5 382.4,73.5 385.8,69.5 394.3,61.7 395.2,59.5 395.2,57.5 394.3,55.5 392.3,53.3 389.6,51.5 386.3,50 380.3,48.7 374.3,49.2ZM378,95.5 378.3,95.9 378.7,95.5 378.3,94.4ZM380,97.5 380.3,98.1 380.3,97.2Z"/>
<path fill="#c9ebe6" stroke="#c9ebe6" stroke-width="0.3" d="M326.3,37.5 390.7,37.5 396.3,38.9 402.7,41.5 406.3,43.7 409.9,47.5 411.5,51.5 412.2,57.5 411.8,61.5 410.5,65.5 408.3,69 404.4,73.5 395.3,81.5 393.7,83.5 391.6,87.5 388.9,107.5 389.1,109.5 388.7,111.5 388.9,149.5 324.3,149.5 324.3,37.5ZM370.8,43.5 365.1,45.5 360.3,48.1 356,51.5 352.6,55.5 349,61.5 346.5,67.5 346,71.5 346.8,75.5 349.8,83.5 352.3,86.7 358.3,90.7 368.3,95.1 372.3,97.4 384.3,106.6 388.3,110.6 388.6,109.5 388.3,108.3 387.5,107.5 387.5,105.5 383.2,89.5 383.3,85.5 384.7,81.5 386.3,78.6 388.3,76.1 400.3,66.2 402.8,63.5 404.1,59.5 404,57.5 402.7,53.5 400.3,49.6 398.3,47.5 394.3,44.9 390.8,43.5 384.3,42.3 378.3,42.3 372.3,43.1Z"/>
<path fill="#dff0ed" stroke="#dff0ed" stroke-width="0.3" d="M392.3,37.5 430.3,37.6 422.3,50.9 419.2,61.5 416.7,67.5 414.5,71.5 410.3,77.5 400.5,89.5 389.9,107.5 389.5,109.5 389.6,149.5 388.9,149.5 388.7,111.5 389.1,109.5 388.9,107.5 391.6,87.5 393.7,83.5 395.3,81.5 404.3,73.6 409.4,67.5 411.3,63.5 412.2,57.5 411.9,53.5 410.9,49.5 409.9,47.5 408.3,45.5 406,43.5 400.3,40.3 390.7,37.5ZM440.3,138.7 444.3,137.7 446.3,137.6 454.3,138.2 462.3,141.2 462.3,149.5 431.8,149.5 436.6,143.5 439.2,139.5Z"/>
<path fill="#f5f5f5" stroke="#f5f5f5" stroke-width="0.3" d="M430.3,37.6 460.9,37.5 440.9,57.5 438.3,57.9 432.3,57.9 430.3,58.6 428.3,60.3 417.5,77.5 406,93.5 390.3,108.5 390,109.5 390.3,111.5 390.3,131.5 392.3,129.5 398.3,129.5 406.3,121.5 408.3,121.4 410.3,123 412.7,123.5 414.3,125.1 415.3,125.5 416.3,127.7 412.3,132.6 406.5,137.5 402.3,139.8 398.3,141.3 390.3,142.6 390.3,149.5 389.6,149.5 389.5,109.5 390.3,106.6 400.3,89.8 410.3,77.5 414.5,71.5 416.7,67.5 419.2,61.5 422.3,50.9 429.2,39.5ZM458.3,127 460.3,126.3 462.3,126.8 462.3,141.2 454.3,138.2 448.3,137.6 444.3,137.7 440.3,138.7 439.2,139.5 436.6,143.5 431.8,149.5 407.2,149.5 414.3,145.5 416.6,143.5 422.3,137.8 426.3,132.4 432.3,132.1 440.3,130.5 452.3,129.5 457.4,127.5Z"/>
<path fill="#f5efdd" stroke="#f5efdd" stroke-width="0.3" d="M460.3,38.1 460.9,37.5 462.3,37.5 462.3,72.1 454.3,76.1 452.3,75.2 444.3,69 441.4,67.5 438.3,66.6 436.3,66.8 434.3,67.7 430.3,71.1 426.3,75.2 418.2,87.5 415.7,93.5 415.2,97.5 415.4,99.5 416.2,101.5 418.3,103.8 428.3,112.7 438.3,119.8 444.3,122.1 448.3,122.6 450.3,122.4 454.3,120.7 457.3,117.5 462.3,108.9 462.3,126.8 460.3,126.3 452.3,129.5 440.3,130.5 432.3,132.1 426.3,132.4 422.3,137.8 416.6,143.5 414.3,145.5 407.2,149.5 390.3,149.5 390.3,142.6 398.3,141.3 402.3,139.8 406.5,137.5 412.3,132.6 416.4,127.5 415.3,125.5 414.3,125.1 412.7,123.5 410.3,123 408.3,121.4 406.3,121.5 398.3,129.5 392.3,129.5 390.3,131.5 390.3,111.5 390,109.5 390.3,108.5 406,93.5 417.5,77.5 428.3,60.3 430.3,58.6 432.3,57.9 438.3,57.9 440.9,57.5 458.9,39.5Z"/>
<path fill="#f6e9c5" stroke="#f6e9c5" stroke-width="0.3" d="M436.3,66.8 438.3,66.6 442.3,67.9 446.3,70.4 452.3,75.2 454.3,76.1 462.3,72.1 462.3,108.9 457.3,117.5 454.3,120.7 452.3,121.8 448.3,122.6 444.3,122.1 440.3,120.8 436.3,118.6 428.3,112.7 418.3,103.8 416.2,101.5 415.4,99.5 415.2,97.5 415.7,93.5 418.2,87.5 426.3,75.2 430.3,71.1 434.7,67.5ZM429.6,91.5 428.8,93.5 429,95.5 430.3,97.8 432.3,98.2 432.8,95.5 432.3,92.3 430.3,90.7ZM445.6,93.5 446.2,101.5 446.7,103.5 448.3,107 450.3,106.2 450.7,103.5 450.3,100.4 448.3,95.5 446.8,93.5 446.3,91.9Z"/>
<path fill="#ecd8a5" stroke="#ecd8a5" stroke-width="0.3" d="M430.3,90.7 432.3,92.3 432.8,95.5 432.3,98.2 430.3,97.8 429,95.5 428.8,93.5 429.6,91.5ZM446.3,91.9 446.8,93.5 448.3,95.5 450.3,100.4 450.7,103.5 450.3,106.2 448.3,107 446.7,103.5 446.2,101.5 445.6,93.5Z"/>
</g>
<path d="M346.6,85.6 L347.1,88.6 L352.7,92.7 L358.4,95.1 L360.8,96.7 L364.9,99.6 L366.5,103.2 L368.9,105.6 L373.0,106.0 L375.4,104.0 L377.0,100.8 L375.6,97.1 L375.8,92.5 L377.5,88.5 L378.3,84.4 L379.9,80.4 L382.3,76.3 L385.6,77.1 L390.6,76.1 L395.6,76.6 L401.1,78.3 L406.5,80.1 L411.1,82.0 L416.6,82.9 L422.0,84.7 L422.9,88.3 L423.9,92.9 L422.9,97.4 L418.4,100.2 L422.9,101.1 L426.6,103.8 L428.0,108.4 L428.4,115.1 L428.0,120.1 L427.6,126.1 L425.6,130.1 L423.6,132.1 L421.6,135.1 L419.6,140.1 L416.6,142.1 L411.6,144.1 L406.6,145.6 L401.6,145.1 L394.6,145.6 L392.6,144.1 L393.6,140.1 L392.6,137.1 L393.1,133.1 L392.6,128.1 L390.6,125.1 L387.6,123.1 L385.6,121.1 L383.6,119.6 L381.2,125.5 L379.6,127.9 L381.2,132.0 L378.8,133.6 L376.4,132.8 L372.3,133.6 L367.5,131.1 L365.0,128.7 L362.6,126.3 L361.8,122.2 L361.0,118.2 L356.1,118.2 L355.7,115.8 L357.7,114.1 L356.9,110.1 L357.6,108.9 L356.8,104.8 L357.6,102.4 L356.0,100.8 L352.7,98.3 L348.7,95.9 L346.3,91.1 Z" fill="#e4e4e4"/>
<path d="M324.0,84.1 L327.6,82.6 L329.7,84.1 L329.1,88.1 L326.1,91.4 L324.0,91.4 Z" fill="#e4e4e4"/>
</g>
<rect x="361.3" y="73.5" width="26.5" height="25.5" fill="none" stroke="#d9534f" stroke-width="1.1"/>
<path d="M379.8,77.0 L382.40000000000003,76.6 L382.8,79.6 L380.40000000000003,80.2 Z" fill="none" stroke="#d9534f" stroke-width="0.8"/>
<clipPath id="pc4f"><rect x="38.5" y="158.4" width="136.9" height="111.99999999999997"/></clipPath>
<clipPath id="pc4"><path d="M39.52,195.05 A73.3,73.3 0 0 1 166.48,268.35 Z"/></clipPath>
<g clip-path="url(#pc4f)"><g clip-path="url(#pc4)" >
<path fill="#76aed2" stroke="#76aed2" stroke-width="0.3" d="M84.5,219.9 86,220.4 84.5,221.9 84,220.4Z"/>
<path fill="#87bcd9" stroke="#87bcd9" stroke-width="0.3" d="M84.5,219.1 86.5,219.6 87,220.4 86.2,222.4 84.5,222.9 83.8,222.4 83.2,220.4ZM84,220.4 84.5,221.9 86,220.4 84.5,219.9Z"/>
<path fill="#98cae1" stroke="#98cae1" stroke-width="0.3" d="M84.5,218.2 86.5,218.7 87.8,220.4 87.2,222.4 86.5,223.1 84.5,223.6 82.9,222.4 82.4,220.4 84.2,218.4ZM83.2,220.4 83.8,222.4 84.5,222.9 86.2,222.4 87,220.4 86.5,219.6 84.5,219.1Z"/>
<path fill="#a9d8e8" stroke="#a9d8e8" stroke-width="0.3" d="M84.5,217.2 86.5,217.5 87.5,218.4 88.5,220.4 88.1,222.4 86.5,223.9 84.5,224.2 81.9,222.4 81.6,220.4 82.8,218.4ZM84.2,218.4 82.4,220.4 82.9,222.4 84.5,223.6 86.5,223.1 87.2,222.4 87.8,220.4 86.5,218.7 84.5,218.2Z"/>
<path fill="#bae0ed" stroke="#bae0ed" stroke-width="0.3" d="M120.5,199.9 122.6,200.4 122.9,202.4 122.5,203 120.5,203.7 119.5,202.4 119.9,200.4ZM84.5,215.6 88.5,217.5 89.3,218.4 90,220.4 89.5,222.4 87.4,224.4 86.5,225.1 84.5,225.4 82.6,224.4 80.9,222.4 80.7,220.4 81.3,218.4 82.5,216.8 83.6,216.4ZM82.8,218.4 81.6,220.4 81.9,222.4 84.5,224.2 86.5,223.9 88.1,222.4 88.5,220.4 87.5,218.4 86.5,217.5 84.5,217.2Z"/>
<path fill="#cae8f2" stroke="#cae8f2" stroke-width="0.3" d="M118.5,192.3 122.5,192.6 126.2,194.4 128.6,196.4 131.3,200.4 132.4,204.4 132.3,206.4 131.6,208.4 130.5,210.2 128.5,212.3 124.5,216 123.6,216.4 122.5,217.9 120.4,218.4 120.5,218.7 128.5,218.9 130.5,219.3 132.7,220.4 134.5,222.4 135.1,224.4 135,226.4 134.5,227.3 132.5,227.9 124.5,225.8 118.5,227.2 115.3,228.4 108.5,228.9 107.7,230.4 104.5,230.4 106.2,228.4 106.5,225.8 107.8,224.4 108.5,222.2 109.9,220.4 114,212.4 112.9,204.4 113.2,198.4 114.6,194.4 116.5,192.9 118,192.4ZM119.9,200.4 119.5,202.4 120.5,203.7 122.5,203 122.9,202.4 122.6,200.4 120.5,199.9ZM118.2,220.4 118.5,220.7 119.3,220.4 118.5,220.2ZM116.2,222.4 116.7,222.4 116.5,222.2ZM76.5,206.2 78.5,205 80.5,204.7 82.5,205.4 84.5,206.9 87.2,210.4 89.6,214.4 100.2,228.4 100.3,232.4 96.5,236.2 95.6,236.4 94.5,237.5 92.5,238.4 91,238.4 88.5,240.2 84.5,240.3 84.5,242.4 92.5,250.4 94.5,250.4 96.5,252.4 102.5,252.4 102.5,264.6 98.5,264.4 92.5,262.9 86.8,260.4 83.7,258.4 81.2,256.4 77.4,252.4 74.5,248.3 72.5,244.2 70.5,237.2 70.2,228.4 72.1,220.4 73.9,216.4 74.2,214.4 74,210.4 74.7,208.4 76.2,206.4ZM83.6,216.4 82.5,216.8 81.3,218.4 80.7,220.4 80.9,222.4 82.6,224.4 84.5,225.4 86.5,225.1 87.4,224.4 89.5,222.4 90,220.4 89.3,218.4 88.5,217.5 84.5,215.6Z"/>
<path fill="#dbf1f7" stroke="#dbf1f7" stroke-width="0.3" d="M112.5,190 114.5,189.3 118.5,189.2 122.5,190.1 127.3,192.4 130,194.4 133.8,198.4 136.5,202.4 138.5,206.6 143,222.4 144.1,228.4 144.2,232.4 143.5,236.4 141.8,240.4 140.5,242.4 136.5,246.5 132.5,249 131.9,248.4 130.7,242.4 129.1,238.4 127.5,236.4 124.5,234.5 106.5,232.1 104.5,231.5 103.9,230.4 104.5,226.3 108.9,210.4 110.5,192.8 112,190.4ZM118,192.4 116.5,192.9 114.6,194.4 113.2,198.4 112.9,204.4 114,212.4 109.9,220.4 108.5,222.2 107.8,224.4 106.5,225.8 106.2,228.4 104.5,230.4 107.7,230.4 108.5,228.9 115.3,228.4 118.5,227.2 124.5,225.8 132.5,227.9 134.5,227.3 135,226.4 135.1,224.4 134.5,222.4 132.7,220.4 130.5,219.3 128.5,218.9 120.5,218.7 120.4,218.4 122.5,217.9 123.6,216.4 124.5,216 128.5,212.3 130.5,210.2 131.6,208.4 132.3,206.4 132.4,204.4 131.3,200.4 128.6,196.4 126.2,194.4 122.5,192.6 118.5,192.3ZM76.5,202.3 78.5,201.7 80.5,201.7 82.5,202.4 86.5,206 91.1,212.4 101,228.4 101.1,230.4 103.6,232.4 103.5,254.4 104.5,266.4 103.2,270.4 93.9,270.4 87.7,268.4 82.5,265.8 77.7,262.4 72.5,257.2 68.5,251.5 66.5,247.5 64.7,242.4 63.5,236.4 63.4,228.4 64.3,222.4 66.5,215.9 70.2,208.4 73.4,204.4 76.4,202.4ZM76.2,206.4 74.7,208.4 74,210.4 74.2,214.4 73.9,216.4 72.1,220.4 70.2,228.4 70.5,237.2 72.5,244.2 74.5,248.3 77.4,252.4 81.2,256.4 83.7,258.4 86.8,260.4 92.5,262.9 98.5,264.4 102.5,264.6 102.5,252.4 96.5,252.4 94.5,250.4 92.5,250.4 84.5,242.4 84.5,240.3 88.5,240.2 91,238.4 92.5,238.4 94.5,237.5 95.6,236.4 96.5,236.2 100.3,232.4 100.2,228.4 89.6,214.4 87.2,210.4 84.5,206.9 82.5,205.4 80.5,204.7 78.5,205 76.5,206.2ZM118.5,220.2 119.3,220.4 118.5,220.7 118.2,220.4ZM116.5,222.2 116.7,222.4 116.2,222.4ZM130.5,250.1 130.8,250.4 130.5,251.1 130.4,250.4ZM120.5,260.2 121,260.4 120.5,260.6 119.8,260.4ZM116.5,262.2 117.4,262.4 116.5,262.6 115.4,262.4ZM108.5,264.3 112.5,264.3 110.5,264.6 107.3,264.4Z"/>
<path fill="#e7f6ec" stroke="#e7f6ec" stroke-width="0.3" d="M108.5,188.4 110.5,187.6 114.5,187 120.5,187.7 126.5,189.8 130.5,192.4 132.5,194.2 137.6,200.4 142.5,209 146.5,219.9 147.9,226.4 148.3,230.4 147.9,236.4 147,240.4 144.5,246.1 136.5,257.4 132,262.4 126.5,266.8 119.9,270.4 103.2,270.4 104.5,266.4 103.5,254.4 103.6,232.4 101.1,230.4 101,228.4 88.4,208.4 85,204.4 82.5,202.4 80.5,201.7 78.5,201.7 76.5,202.3 73.4,204.4 70.2,208.4 66.5,215.9 64.3,222.4 63.3,230.4 63.8,238.4 65.3,244.4 67.9,250.4 70.3,254.4 74.5,259.4 77.7,262.4 82.5,265.8 87.7,268.4 93.9,270.4 82.2,270.4 76.5,266.7 72.5,263.2 66.5,256.2 62.5,248.7 60.4,242.4 59.5,236.4 59.2,230.4 60.5,220.4 62.5,214.6 64.5,210.4 68.5,205.1 71.3,202.4 74.5,200.3 78.5,199 82.5,199.7 84.5,201.2 90.5,208.4 93.2,212.4 101.5,228.4 101.7,230.4 102.5,231.2 103.2,230.4 103.6,228.4 107.1,202.4 107.3,196.4 107,192.4 107.3,190.4 108.4,188.4ZM112,190.4 110.5,192.8 108.9,210.4 104.5,226.3 103.9,230.4 104.5,231.5 106.5,232.1 124.5,234.5 127.5,236.4 129.1,238.4 130.7,242.4 131.9,248.4 132.5,249 136.5,246.5 140.5,242.4 141.8,240.4 143.5,236.4 144.2,232.4 144.1,228.4 143,222.4 138.5,206.6 136.5,202.4 133.8,198.4 130,194.4 127.3,192.4 122.5,190.1 118.5,189.2 114.5,189.3 112.5,190ZM104.5,234.4 104.5,252.4 108.5,252.4 110.5,250.4 114.5,250.4 120.5,244.4 120.5,242.4 118.5,242.4 114.5,238.4 112.5,238.4 110.5,236.4 108.5,236.4 106.5,234.4 104.5,234.4ZM130.4,250.4 130.5,251.1 130.8,250.4 130.5,250.1ZM119.8,260.4 120.5,260.6 121,260.4 120.5,260.2ZM115.4,262.4 116.5,262.6 117.4,262.4 116.5,262.2ZM107.3,264.4 110.5,264.6 112.5,264.3 108.5,264.3Z"/>
<path fill="#f0f9da" stroke="#f0f9da" stroke-width="0.3" d="M108.5,185.9 114.5,185.3 118.5,185.6 122.3,186.4 126.5,187.9 132.5,191.9 136.8,196.4 142.2,204.4 146.3,212.4 149.6,222.4 150.6,228.4 150.4,236.4 148.9,242.4 147.2,246.4 141.2,256.4 138.3,260.4 132.4,266.4 126.9,270.4 119.9,270.4 126.5,266.8 132,262.4 136.5,257.4 142.5,249 144.5,246.1 147,240.4 148.2,234.4 148.3,230.4 147.1,222.4 145.4,216.4 142.5,209 140.1,204.4 136.5,198.8 132.5,194.2 127.6,190.4 124.5,188.9 118.5,187.3 114.5,187 110.5,187.6 108.4,188.4 107.3,190.4 107,192.4 107.3,196.4 107.1,202.4 103.6,228.4 103.2,230.4 102.5,231.2 101.7,230.4 101.5,228.4 93.2,212.4 86.5,203.3 82.5,199.7 78.5,199 76.5,199.4 74.3,200.4 69.1,204.4 64.5,210.4 62.5,214.6 60.5,220.4 59.8,224.4 59.2,232.4 60.5,242.8 62.5,248.7 64.3,252.4 68.5,258.8 72.5,263.2 76.1,266.4 82.2,270.4 77.4,270.4 72.5,266.7 66.5,260.4 62.5,254.4 60.5,250.4 58.5,244.8 57.4,240.4 56.6,232.4 56.9,226.4 58.5,218.6 60.8,212.4 62.9,208.4 68.5,202 74.5,197.7 78.5,196.3 82.5,196.8 84.5,198.1 94.1,210.4 100.5,225.3 101.4,226.4 102.6,230.4 103.1,226.4 103.3,210.4 105.1,200.4 104.9,196.4 103.7,190.4 103.9,188.4 106.5,186.4ZM104.5,234.4 106.5,234.4 108.5,236.4 110.5,236.4 112.5,238.4 114.5,238.4 118.5,242.4 120.5,242.4 120.5,244.4 114.5,250.4 110.5,250.4 108.5,252.4 104.5,252.4 104.5,234.4Z"/>
<path fill="#fafdc8" stroke="#fafdc8" stroke-width="0.3" d="M108.5,184.1 116.5,183.9 122.5,184.8 126.5,186.2 132.5,189.8 137.2,194.4 141.7,200.4 146.4,208.4 148.4,212.4 150.7,218.4 152.4,226.4 152.7,232.4 152.4,236.4 150.5,244 146.4,252.4 141.2,260.4 135.8,266.4 131,270.4 126.9,270.4 132.4,266.4 138.3,260.4 141.2,256.4 147.2,246.4 148.9,242.4 150.4,236.4 150.6,228.4 149.6,222.4 147.1,214.4 144.4,208.4 141,202.4 136.8,196.4 132.5,191.9 128.5,189 124.5,187.1 118.5,185.6 112.5,185.4 106.5,186.4 103.9,188.4 103.7,190.4 104.9,196.4 105.1,200.4 103.3,210.4 103.1,226.4 102.5,230.5 101.4,226.4 100.5,225.3 94.1,210.4 86.5,200.4 84.5,198.1 82.5,196.8 78.5,196.3 76.5,196.8 73.3,198.4 68.5,202 64.4,206.4 62.5,209.1 59.2,216.4 57.2,224.4 56.6,232.4 57.4,240.4 58.5,244.8 60.5,250.4 64.5,257.6 66.5,260.4 70.5,264.8 77.4,270.4 73.4,270.4 68.8,266.4 65.1,262.4 59.8,254.4 55.9,244.4 54.7,238.4 54.2,232.4 55.1,222.4 58.2,212.4 60.2,208.4 62.5,205.2 67.4,200.4 74.5,195.7 76.5,194.7 80.5,193.5 82.5,193.5 84.5,194.1 86.5,196.2 89.4,202.4 90.5,203.8 96.5,209.8 97.6,210.4 98.5,214.8 99.8,216.4 100.5,222.3 100.7,216.4 99.6,210.4 100.5,209.1 102.3,204.4 102.8,202.4 103,198.4 102.5,196.1 99.9,190.4 99.5,188.4 101.1,186.4 107,184.4Z"/>
<path fill="#fffab8" stroke="#fffab8" stroke-width="0.3" d="M110.5,182.4 116.5,182.3 122.5,183.2 128.5,185.4 134.5,189.4 139.4,194.4 145,202.4 149.4,210.4 152.6,218.4 154.2,226.4 154.4,232.4 153.5,240.4 152.4,244.4 149.9,250.4 143.9,260.4 140.8,264.4 134.6,270.4 131,270.4 135.8,266.4 141.2,260.4 146.4,252.4 150.5,244 152.4,236.4 152.7,232.4 152.5,227.1 150.7,218.4 148.4,212.4 141.7,200.4 137.2,194.4 133.2,190.4 128.5,187.2 124.5,185.4 120.6,184.4 116.5,183.9 108.5,184.1 101.1,186.4 99.5,188.4 99.9,190.4 102.5,196.1 103,198.4 102.8,202.4 102.3,204.4 100.5,209.1 99.6,210.4 100.7,216.4 100.5,222.3 99.8,216.4 98.5,214.8 97.6,210.4 96.5,209.8 90.5,203.8 89.4,202.4 86.5,196.2 84.5,194.1 82.5,193.5 80.5,193.5 76.5,194.7 72.5,196.8 65.2,202.4 60.5,207.9 58.2,212.4 56.7,216.4 55.1,222.4 54.5,226.4 54.3,234.4 55.4,242.4 58.5,251.6 62.2,258.4 66.8,264.4 73.4,270.4 69.3,270.4 63.4,264.4 58,256.4 56,252.4 53.2,244.4 51.7,234.4 51.9,226.4 52.5,222.4 55.4,212.4 58.5,206.2 59.9,204.4 64.2,200.4 68.5,197.2 76.5,192.8 84.5,190.3 86.5,190 90.5,190.2 92.5,189.7 92.7,188.4 95.7,186.4 100.5,184.3 110.1,182.4ZM90.2,192.4 88.9,196.4 88.9,198.4 89.3,200.4 90.6,202.4 92.5,204.3 94.5,205.6 96.5,206.2 98.5,205.7 100.6,202.4 101.1,200.4 101.1,198.4 100.5,196.4 98.5,193.5 94.5,190.9 92.5,190.5 90.5,191.2Z"/>
<path fill="#fff0a9" stroke="#fff0a9" stroke-width="0.3" d="M102.5,182 110.5,180.7 114.5,180.5 120.5,181 126.5,182.7 132.5,185.8 138.2,190.4 143.3,196.4 148.5,204.7 152.5,213.1 154.8,220.4 155.9,228.4 155.8,236.4 154.3,244.4 151.3,252.4 148,258.4 143.8,264.4 138.1,270.4 134.6,270.4 140.8,264.4 143.9,260.4 149.9,250.4 152.4,244.4 153.5,240.4 154.3,234.4 154.4,228.4 153.9,224.4 152.6,218.4 149.4,210.4 145,202.4 140.5,195.8 136.5,191.2 132.5,187.8 128.5,185.4 122.5,183.2 117.7,182.4 112.5,182.2 106.5,182.9 100.5,184.3 95.7,186.4 92.7,188.4 92.5,189.7 90.5,190.2 86.5,190 82.5,190.7 74.5,193.7 68.5,197.2 61.9,202.4 58.5,206.2 57.3,208.4 55.4,212.4 53.4,218.4 51.9,226.4 51.7,234.4 52.1,238.4 53.8,246.4 56,252.4 58,256.4 63.4,264.4 69.3,270.4 64.6,270.4 62.5,268.2 59.3,264.4 56.6,260.4 52.5,252.3 49.9,244.4 49.1,240.4 48.5,234.4 48.7,226.4 49.6,220.4 51.3,214.4 52.8,210.4 55.8,204.4 60.3,200.4 64.5,197.4 74.5,191.7 83,188.4 101,182.4ZM90.5,191.2 92.5,190.5 94.5,190.9 98.5,193.5 100.5,196.4 101.1,198.4 101.1,200.4 100.6,202.4 98.5,205.7 96.5,206.2 94.5,205.6 92.5,204.3 90.6,202.4 89.3,200.4 88.9,198.4 88.9,196.4 90.2,192.4ZM91.9,194.4 90.5,196 89.7,198.4 90.1,200.4 91.4,202.4 92.5,203.5 94.5,204.2 96.5,204.2 98.5,203 100,200.4 100,198.4 99.3,196.4 96.5,193.9 94.5,193.3 92.5,193.9Z"/>
<path fill="#fee79a" stroke="#fee79a" stroke-width="0.3" d="M102.5,180.3 110.5,178.8 118.5,178.8 124.5,180.1 132.5,183.6 139.1,188.4 143,192.4 147.3,198.4 152.6,208.4 156,218.4 157.1,224.4 157.6,232.4 156.6,242.4 153.8,252.4 150.5,259.4 145.7,266.4 142,270.4 138.1,270.4 143.8,264.4 148,258.4 151.3,252.4 154.3,244.4 155.8,236.4 156,232.4 155.9,228.4 154.8,220.4 152.5,213.1 149.4,206.4 144.5,198.2 140.1,192.4 136.5,188.8 130.5,184.6 126.5,182.7 120.5,181 114.5,180.5 110.5,180.7 102.5,182 78.5,190 72.5,192.7 66.5,196.1 60.3,200.4 55.8,204.4 52,212.4 49.2,222.4 48.5,230.1 48.5,234.4 49.1,240.4 49.9,244.4 51.8,250.4 55.4,258.4 59.3,264.4 64.6,270.4 58.9,270.4 53,262.4 48.9,254.4 46.8,248.4 45.3,242.4 44.5,236.4 44.5,227.8 45.4,220.4 46.5,216 49.2,208.4 52.2,202.4 56.5,199.2 61.3,196.4 74.5,189.7 90.5,183.8 102.1,180.4ZM92.5,193.9 94.5,193.3 96.5,193.9 99.3,196.4 100,198.4 100,200.4 98.5,203 96.5,204.2 94.5,204.2 92.5,203.5 91.4,202.4 90.1,200.4 89.7,198.4 90.5,196 91.9,194.4ZM91,196.4 90.4,198.4 90.7,200.4 92.5,202.7 94.5,203.7 96.5,203.4 97.8,202.4 99.1,200.4 99.3,198.4 98.3,196.4 96.5,194.8 94.5,194.5 92.5,194.9Z"/>
<path fill="#fedb8c" stroke="#fedb8c" stroke-width="0.3" d="M40.5,174.4 48.5,181.7 48.7,182.4 45.7,194.4 45.8,198.4 46.5,199.9 58.5,194.4 78.5,186 96.5,179.9 106.5,177.2 112.4,176.4 118.5,176.5 124.5,177.7 132.5,180.9 138.3,184.4 143.4,188.4 147.1,192.4 150.9,198.4 155.7,210.4 157.8,218.4 159,226.4 159.2,234.4 157.9,246.4 156.1,254.4 154.1,260.4 150.3,266.4 147.1,270.4 142,270.4 145.7,266.4 150.5,259.4 153.8,252.4 156.6,242.4 157.6,232.4 157.1,224.4 156,218.4 154.8,214.4 151.7,206.4 146.5,197.1 143,192.4 140.5,189.7 136.5,186.3 130.2,182.4 122.5,179.5 114.5,178.6 106.5,179.4 98.5,181.3 82.9,186.4 72.5,190.6 57.8,198.4 52.2,202.4 47.6,212.4 45.4,220.4 44.5,227.8 44.5,236.4 45.7,244.4 48.9,254.4 53,262.4 58.9,270.4 38.5,270.4 38.5,172.6ZM44.3,202.4 44.5,202.9 44.5,201.8ZM42.4,206.4 42.5,207.5 42.7,206.4 42.5,205.8ZM40.4,250.4 40.6,252.4 40.5,249.8ZM42.4,256.4 42.5,257.5 42.5,255.8ZM44.4,260.4 44.5,261.5 44.5,260.2ZM46.3,264.4 46.5,265 46.5,264.1ZM48.4,268.4 48.7,268.4 48.5,267.9ZM92.5,194.9 94.5,194.5 96.5,194.8 98.3,196.4 99.3,198.4 99.1,200.4 97.8,202.4 96.5,203.4 94.5,203.7 92.5,202.7 90.7,200.4 90.4,198.4 91,196.4ZM91.6,196.4 90.8,198.4 91.1,200.4 92.5,202.1 94.5,203.1 96.8,202.4 98.4,200.4 98.5,198.3 97.7,196.4 96.5,195.4 94.5,194.9 92.5,195.5Z"/>
<path fill="#fecc7d" stroke="#fecc7d" stroke-width="0.3" d="M40.5,158.4 46.8,158.4 57.5,172.4 57.6,174.4 54.2,180.4 51.8,186.4 51.5,188.4 51.8,190.4 52.5,191.2 54.5,191.6 56.5,191.3 62.5,189.7 98.5,176.9 110.5,173.5 116.5,173 120.5,173.2 132.5,174.8 138.5,174.2 140.5,175 146.5,179.8 152.5,186.8 154.5,190 156.5,194.3 157.5,198.4 158.5,209.3 160.8,224.4 161.3,230.4 161.1,250.4 161.4,258.4 160.2,264.4 156.4,270.4 147.1,270.4 150.3,266.4 154.1,260.4 157.1,250.4 159,238.4 159.2,230.4 158.5,222.8 157.8,218.4 155.7,210.4 152.7,202.4 150.9,198.4 148.5,194.4 143.4,188.4 136.5,183.2 128.5,179.1 124.5,177.7 118.5,176.5 110.5,176.6 106.5,177.2 98.5,179.3 78.5,186 58.5,194.4 46.5,199.9 45.8,198.4 45.7,194.4 48.7,182.4 48.5,181.7 38.5,172.6 38.5,158.4ZM114.5,158.4 145.3,158.4 139.4,168.4 138.5,169.4 136.5,169.9 115.9,160.4 112.7,158.4ZM92.5,195.5 94.5,194.9 96.5,195.4 97.7,196.4 98.5,198.3 98.4,200.4 96.8,202.4 94.5,203.1 92.5,202.1 91.1,200.4 90.8,198.4 91.6,196.4ZM92.3,196.4 91.2,198.4 91.5,200.4 92.5,201.6 94.5,202.6 96.5,202.1 98,200.4 98.2,198.4 97,196.4 96.5,195.9 94.5,195.3 92.5,196.2ZM44.5,201.8 44.5,202.9 44.3,202.4ZM42.5,205.8 42.7,206.4 42.5,207.5 42.4,206.4ZM38.6,218.4 38.5,223.6 38.5,218ZM40.5,249.8 40.6,252.4 40.4,250.4ZM42.5,255.8 42.5,257.5 42.4,256.4ZM44.5,260.2 44.5,261.5 44.4,260.4ZM46.5,264.1 46.5,265 46.3,264.4ZM48.5,267.9 48.7,268.4 48.4,268.4Z"/>
<path fill="#fdbc6e" stroke="#fdbc6e" stroke-width="0.3" d="M48.5,158.4 77,158.4 78.4,162.4 76.5,162.6 74.8,164.4 72.5,165.3 66.5,170.1 62.1,174.4 58.5,179.4 57.1,182.4 56.8,184.4 58.3,186.4 60.5,186.6 64.5,185.9 70.5,184.2 86.5,178.6 107,170.4 110.8,168.4 111.7,166.4 109.7,164.4 105.4,162.4 100.5,161 92.5,160 83.7,160.4 83.2,158.4 112.7,158.4 115.9,160.4 136.5,169.9 138.5,169.4 139.4,168.4 145.3,158.4 176.5,158.4 176.5,175.3 162.5,186 162.1,186.4 161.7,188.4 162,190.4 164.5,198.4 166.2,206.4 166.7,214.4 165.9,222.4 166,228.4 166.4,232.4 168.4,240.4 168.9,244.4 168.7,256.4 167.3,266.4 166.5,268.4 166.5,270.4 156.4,270.4 160.2,264.4 161.2,260.4 161.5,256.4 161.1,250.4 161.2,228.4 158.5,209.3 157.5,198.4 155.7,192.4 152.5,186.8 148.5,181.8 144.5,177.9 140.5,175 138.5,174.2 132.5,174.8 120.5,173.2 116.5,173 110.5,173.5 98.5,176.9 62.5,189.7 54.5,191.6 52.5,191.2 51.8,190.4 51.5,188.4 51.8,186.4 54.2,180.4 57.6,174.4 57.5,172.4 46.8,158.4ZM92.5,196.2 94.5,195.3 96.5,195.9 97,196.4 98.2,198.4 98,200.4 96.5,202.1 94.5,202.6 92.5,201.6 91.5,200.4 91.2,198.4 92.3,196.4ZM93,196.4 91.5,198.4 91.9,200.4 92.5,201.2 94.5,202.2 96.5,201.6 97.6,200.4 97.8,198.4 96.4,196.4 94.5,195.7Z"/>
<path fill="#fdac60" stroke="#fdac60" stroke-width="0.3" d="M78.5,158.4 83.2,158.4 83.7,160.4 92.5,160 100.5,161 104.5,162.1 109.7,164.4 111.7,166.4 110.8,168.4 107,170.4 86.5,178.6 70.5,184.2 64.5,185.9 60.5,186.6 58.3,186.4 56.8,184.4 57.1,182.4 58.5,179.4 62.1,174.4 66.5,170.1 72.5,165.3 74.8,164.4 76.5,162.6 78.4,162.4 77,158.4ZM84.5,164.4 78.5,166.2 74.5,168.1 70.9,170.4 66.1,174.4 64.4,176.4 63.3,178.4 62.9,180.4 64.5,181.6 66.5,181.7 72.5,180.5 86.5,175.6 97.2,170.4 99.8,168.4 100.4,166.4 98.5,165.1 96.5,164.3 90.5,163.7 84.5,164.4ZM176.5,175.3 176.5,212 174.5,212.5 174,216.4 175.1,234.4 176.5,241.3 176.5,270.4 166.5,270.4 166.5,268.4 167.3,266.4 168.7,256.4 168.9,244.4 168.4,240.4 166.4,232.4 166,228.4 165.9,222.4 166.7,214.4 166.2,206.4 165,200.4 161.7,188.4 162.1,186.4 162.5,186 175.1,176.4ZM94.5,195.7 96.4,196.4 97.8,198.4 97.6,200.4 96.5,201.6 94.5,202.2 92.5,201.2 91.9,200.4 91.5,198.4 93,196.4ZM93.8,196.4 92.5,197.3 91.8,198.4 92.2,200.4 94.5,201.9 96.5,201.2 97.2,200.4 97.5,198.4 96.5,197 94.5,196.1Z"/>
<path fill="#fa9857" stroke="#fa9857" stroke-width="0.3" d="M84.5,164.4 90.5,163.7 96.5,164.3 98.5,165.1 100.4,166.4 99.8,168.4 97.2,170.4 86.5,175.6 72.5,180.5 66.5,181.7 64.5,181.6 62.9,180.4 63.3,178.4 64.4,176.4 66.1,174.4 70.9,170.4 74.5,168.1 78.5,166.2 84.5,164.4ZM82.6,168.4 77.4,170.4 74.3,172.4 72.7,174.4 74.5,175.1 76.5,174.9 79,174.4 84.1,172.4 87.3,170.4 87.7,168.4 84.5,168.2ZM94.5,196.1 96.5,197 97.5,198.4 97.2,200.4 96.5,201.2 94.5,201.9 92.2,200.4 91.8,198.4 92.5,197.3 93.8,196.4ZM92.2,198.4 92.6,200.4 94.5,201.6 96.8,200.4 97.2,198.4 96.5,197.4 94.5,196.5 92.5,197.9ZM176.5,212 176.5,241.3 175.1,234.4 174.5,226.4 174,216.4 174.5,212.5 175,212.4Z"/>
<path fill="#f7834d" stroke="#f7834d" stroke-width="0.3" d="M84.5,168.2 87.7,168.4 87.3,170.4 84.1,172.4 79,174.4 76.5,174.9 74.5,175.1 72.7,174.4 74.3,172.4 77.4,170.4 82.6,168.4ZM92.5,197.9 94.5,196.5 96.5,197.4 97.2,198.4 96.8,200.4 94.5,201.6 92.6,200.4 92.2,198.4ZM92.5,198.4 93.1,200.4 94.5,201.2 96.3,200.4 96.8,198.4 94.5,196.8Z"/>
<path fill="#f46f44" stroke="#f46f44" stroke-width="0.3" d="M94.5,196.8 96.8,198.4 96.3,200.4 94.5,201.2 93.1,200.4 92.5,198.4ZM92.9,198.4 93.6,200.4 94.5,200.9 95.7,200.4 96.5,198.4 94.5,197.2Z"/>
<path fill="#ec5c3b" stroke="#ec5c3b" stroke-width="0.3" d="M94.5,197.2 96.5,198.4 95.7,200.4 94.5,200.9 93.6,200.4 92.9,198.4ZM93.4,198.4 94.1,200.4 95,200.4 95.9,198.4 94.5,197.5Z"/>
<path fill="#e34932" stroke="#e34932" stroke-width="0.3" d="M94.5,197.5 95.9,198.4 95,200.4 94.1,200.4 93.4,198.4ZM93.8,198.4 94.5,200.1 95.4,198.4 94.5,197.9Z"/>
<path fill="#da362a" stroke="#da362a" stroke-width="0.3" d="M94.5,197.9 95.4,198.4 94.5,200.1 93.8,198.4ZM94.3,198.4 94.5,199 94.8,198.4 94.5,198.2Z"/>
<path fill="#cc2627" stroke="#cc2627" stroke-width="0.3" d="M94.5,198.2 94.8,198.4 94.5,199 94.3,198.4Z"/>
</g>
<path d="M61.0,207.5 L61.5,210.5 L67.1,214.6 L72.8,217.0 L75.2,218.6 L79.3,221.5 L80.9,225.1 L83.3,227.5 L87.4,227.9 L89.8,225.9 L91.4,222.7 L90.0,219.0 L90.2,214.4 L91.9,210.4 L92.7,206.3 L94.3,202.3 L96.7,198.2 L100.0,199.0 L105.0,198.0 L110.0,198.5 L115.5,200.2 L120.9,202.0 L125.5,203.9 L131.0,204.8 L136.4,206.6 L137.3,210.2 L138.3,214.8 L137.3,219.3 L132.8,222.1 L137.3,223.0 L141.0,225.7 L142.4,230.3 L142.8,237.0 L142.4,242.0 L142.0,248.0 L140.0,252.0 L138.0,254.0 L136.0,257.0 L134.0,262.0 L131.0,264.0 L126.0,266.0 L121.0,267.5 L116.0,267.0 L109.0,267.5 L107.0,266.0 L108.0,262.0 L107.0,259.0 L107.5,255.0 L107.0,250.0 L105.0,247.0 L102.0,245.0 L100.0,243.0 L98.0,241.5 L95.6,247.4 L94.0,249.8 L95.6,253.9 L93.2,255.5 L90.8,254.7 L86.7,255.5 L81.9,253.0 L79.4,250.6 L77.0,248.2 L76.2,244.1 L75.4,240.1 L70.5,240.1 L70.1,237.7 L72.1,236.0 L71.3,232.0 L72.0,230.8 L71.2,226.7 L72.0,224.3 L70.4,222.7 L67.1,220.2 L63.1,217.8 L60.7,213.0 Z" fill="#e4e4e4"/>
<path d="M38.4,206.0 L42.0,204.5 L44.1,206.0 L43.5,210.0 L40.5,213.3 L38.4,213.3 Z" fill="#e4e4e4"/>
</g>
<rect x="75.7" y="195.4" width="26.5" height="25.5" fill="none" stroke="#d9534f" stroke-width="1.1"/>
<path d="M94.2,198.9 L96.8,198.5 L97.2,201.5 L94.8,202.1 Z" fill="none" stroke="#d9534f" stroke-width="0.8"/>
<clipPath id="pc5f"><rect x="181.5" y="158.4" width="137.0" height="111.99999999999997"/></clipPath>
<clipPath id="pc5"><path d="M182.32,194.95 A73.3,73.3 0 0 1 309.28,268.25 Z"/></clipPath>
<g clip-path="url(#pc5f)"><g clip-path="url(#pc5)" >
<path fill="#87bcd9" stroke="#87bcd9" stroke-width="0.3" d="M227.5,217.9 229.5,217.9 230,218.4 229.8,220.4 229.5,220.7 227.5,220.6 227.1,218.4Z"/>
<path fill="#98cae1" stroke="#98cae1" stroke-width="0.3" d="M227.5,216.9 229.5,216.8 231,218.4 230.8,220.4 229.5,221.6 227.5,221.6 226.3,220.4 226.1,218.4ZM227.1,218.4 227.5,220.6 229.5,220.7 229.8,220.4 230,218.4 229.5,217.9 227.5,217.9Z"/>
<path fill="#a9d8e8" stroke="#a9d8e8" stroke-width="0.3" d="M227.5,215.7 229.5,215.7 231.5,217.4 232.1,218.4 232,220.4 229.8,222.4 227.5,222.6 225.2,220.4 225.1,218.4 226.5,216.4ZM226.1,218.4 226.3,220.4 227.5,221.6 229.5,221.6 230.8,220.4 231,218.4 229.5,216.8 227.5,216.9Z"/>
<path fill="#bae0ed" stroke="#bae0ed" stroke-width="0.3" d="M259.5,195.6 261.5,195.1 263.5,195.3 265.8,196.4 267.2,198.4 267.2,200.4 265.5,202.4 263.5,203 261.5,202.8 259.5,201.8 258.2,200.4 257.5,198.4 258.3,196.4ZM225.5,215.3 227.5,214.4 229.5,214.5 231.5,215.5 232.4,216.4 233.3,218.4 233.3,220.4 232,222.4 229.5,223.9 227.5,223.9 225.5,222.7 224,220.4 223.9,218.4 224.6,216.4ZM226.5,216.4 225.1,218.4 225.2,220.4 227.5,222.6 229.8,222.4 232,220.4 232.1,218.4 231.5,217.4 229.5,215.7 227.5,215.7Z"/>
<path fill="#cae8f2" stroke="#cae8f2" stroke-width="0.3" d="M257.5,190.1 261.5,190.1 267.8,192.4 270.6,194.4 273.9,198.4 275.2,202.4 274.9,206.4 273.5,209.6 269.6,214.4 269.7,216.4 273.5,218.1 275.5,219.7 277.4,222.4 277.8,224.4 277.6,226.4 275.5,227.5 267.5,225.7 259.5,227.6 257.7,228.4 251.5,229.1 250.2,230.4 247.5,230.4 249.3,228.4 249.5,225.5 250.6,224.4 251.5,221.8 252.7,220.4 256.7,212.4 251.5,203.2 250.1,198.4 250.1,196.4 251.5,193.3 253.5,191.5 255.9,190.4ZM258.3,196.4 257.5,198.4 258.2,200.4 259.5,201.8 261.5,202.8 263.5,203 265.5,202.4 267.2,200.4 267.2,198.4 265.8,196.4 263.5,195.3 261.5,195.1 259.5,195.6ZM219.5,206.4 223.5,205.1 225.5,205.4 227.5,206.7 234.8,216.4 238.4,222.4 241.7,226.4 243.5,230.4 245.4,232.4 239.5,238.1 237.3,238.4 235.5,240.1 227.5,240.4 227.5,242.4 235.5,250.4 237.5,250.4 239.5,252.4 245.5,252.4 245.5,264.5 241.5,264.3 234.1,262.4 229.8,260.4 226.7,258.4 223.5,255.8 219.5,251.4 217.5,248.5 215.4,244.4 213.5,238.4 213.1,234.4 213.5,225 215.5,218.6 216.7,216.4 215.6,212.4 216.1,210.4 217.3,208.4 219.5,206.4ZM224.6,216.4 223.9,218.4 224,220.4 225.5,222.7 227.5,223.9 229.5,223.9 232,222.4 233.3,220.4 233.3,218.4 232.4,216.4 231.5,215.5 229.5,214.5 227.5,214.4 225.5,215.3Z"/>
<path fill="#dbf1f7" stroke="#dbf1f7" stroke-width="0.3" d="M251.5,188.2 253.5,187.7 257.5,187.6 263.5,188.6 267.5,190.1 271.2,192.4 275.5,196.4 279.5,202.4 281.5,207.6 286.4,224.4 287.1,232.4 285.7,238.4 283.5,242 279.5,246.1 275.5,248.6 274.2,246.4 272.9,240.4 271.5,237.8 269.5,235.6 267.1,234.4 247.5,231.5 246.6,232.4 246.5,234.4 246.5,254.4 247.5,264.4 246.8,270.4 225.2,270.4 221.5,268.2 216.8,264.4 213.5,261.2 209.5,256.4 205.5,249 203.3,242.4 202.1,234.4 202,230.4 203.5,219.8 205.5,214.1 207.5,210.2 211.5,205.4 215.3,202.4 219.5,200.3 223.5,199.5 225.5,199.6 227.9,200.4 229.5,201.5 231.5,203.9 233.5,207.1 243,226.4 244.5,228.4 244.5,230.4 245.5,231.4 246.5,230.4 247,222.4 248.6,210.4 248.4,208.4 245.5,199.1 245.3,194.4 246,192.4 247.5,190.5 250.6,188.4ZM255.9,190.4 253.5,191.5 251.5,193.3 250.1,196.4 250.1,198.4 251.5,203.2 256.7,212.4 252.7,220.4 251.5,221.8 250.6,224.4 249.5,225.5 249.3,228.4 247.5,230.4 250.2,230.4 251.5,229.1 257.7,228.4 259.5,227.6 267.5,225.7 275.5,227.5 277.6,226.4 277.8,224.4 277.4,222.4 275.5,219.7 273.5,218.1 269.7,216.4 269.6,214.4 273.5,209.6 274.9,206.4 275.2,202.4 273.9,198.4 270.6,194.4 267.8,192.4 261.5,190.1 257.5,190.1ZM219.5,206.4 217.3,208.4 216.1,210.4 215.6,212.4 216.7,216.4 215.5,218.6 213.5,225 213.1,234.4 213.5,238.4 215.4,244.4 217.5,248.5 219.5,251.4 223.5,255.8 226.7,258.4 229.8,260.4 234.1,262.4 241.5,264.3 245.5,264.5 245.5,252.4 239.5,252.4 237.5,250.4 235.5,250.4 227.5,242.4 227.5,240.4 235.5,240.1 237.3,238.4 239.5,238.1 245.4,232.4 243.5,230.4 241.7,226.4 238.4,222.4 234.8,216.4 227.5,206.7 225.5,205.4 223.5,205.1 219.5,206.4ZM273.5,250 273.7,250.4 273.5,250.7 273.3,250.4ZM265.5,258.3 265.9,258.4 265.5,258.6 265.3,258.4Z"/>
<path fill="#e7f6ec" stroke="#e7f6ec" stroke-width="0.3" d="M249.5,186.3 255.5,185.7 261.5,186.3 265.5,187.5 269.5,189.4 275.5,194 279.5,198.6 284.1,206.4 288.2,216.4 290.7,226.4 291,232.4 290.3,238.4 287.5,245.5 285.5,248.6 279.9,256.4 274.6,262.4 269.5,266.5 262.3,270.4 246.8,270.4 247.5,264.4 246.5,254.4 246.6,232.4 247.5,231.5 267.1,234.4 269.5,235.6 271.5,237.8 272.9,240.4 274.2,246.4 275.5,248.6 279.5,246.1 283.5,242 285.7,238.4 287.1,232.4 287,228.4 285.4,220.4 281.5,207.6 279.5,202.4 277,198.4 273.6,194.4 271.5,192.6 267.5,190.1 262.9,188.4 259.5,187.7 253.5,187.7 249.5,189 247.6,190.4 246,192.4 245.3,194.4 245.5,199.1 248.4,208.4 248.6,210.4 247,222.4 246.5,230.4 245.5,231.4 244.5,230.4 244.5,228.4 243,226.4 233.5,207.1 230.3,202.4 227.9,200.4 225.5,199.6 223.5,199.5 219.5,200.3 217.5,201.2 212.6,204.4 209.5,207.5 207.5,210.2 205.5,214.1 203.5,219.8 202.4,226.4 202.1,234.4 203.5,243.4 205.5,249 207.5,253 209.5,256.4 211.5,258.9 215.5,263.2 219.1,266.4 225.2,270.4 221,270.4 215.6,266.4 209.9,260.4 207,256.4 204.7,252.4 202.2,246.4 200.6,240.4 200,236.4 199.8,230.4 201.1,220.4 203.1,214.4 204.9,210.4 207.4,206.4 209.5,203.9 213.5,200.2 219.5,196.5 225.5,195.2 229.5,195.3 231.5,195.9 232.4,200.4 233.5,202.4 235.5,204.8 237.5,206.2 238.5,206.4 239.9,208.4 241.5,215.4 242.8,214.4 241.5,206.4 243,202.4 243.3,200.4 243.1,198.4 241.5,195.3 240.5,194.4 239.8,192.4 241.2,190.4 243.6,188.4 248.8,186.4ZM242.9,216.4 243.4,222.4 243.5,222.7 243.7,222.4 243.5,215.5ZM247.5,234.4 247.5,252.4 251.5,252.4 253.5,250.4 255.5,250.4 257.5,248.4 259.5,248.4 263.5,244.4 263.5,242.4 261.5,242.4 257.5,238.4 255.5,238.4 253.5,236.4 251.5,236.4 249.5,234.4 247.5,234.4ZM273.3,250.4 273.5,250.7 273.7,250.4 273.5,250ZM265.3,258.4 265.5,258.6 265.9,258.4 265.5,258.3Z"/>
<path fill="#f0f9da" stroke="#f0f9da" stroke-width="0.3" d="M251.5,184.2 257.5,184.1 263.5,185.2 269.5,187.7 276,192.4 281.5,198.6 285.5,204.9 289.5,213.3 291.9,220.4 293.1,226.4 293.3,234.4 292.2,240.4 290,246.4 283.5,257.2 279.5,262.3 275.2,266.4 269.7,270.4 262.3,270.4 269.5,266.5 274.6,262.4 279.9,256.4 285.5,248.6 287.5,245.5 290.3,238.4 290.9,234.4 290.9,228.4 289.5,220.6 287.5,214.3 284.1,206.4 280.7,200.4 277.8,196.4 273.8,192.4 269.5,189.4 265.5,187.5 259.5,186 251.5,185.9 247.5,186.8 243.6,188.4 241.2,190.4 239.8,192.4 240.5,194.4 241.5,195.3 243.1,198.4 243.3,200.4 243,202.4 241.5,206.4 242.8,214.4 241.5,215.4 239.9,208.4 238.5,206.4 237.5,206.2 235.5,204.8 233.5,202.4 232.4,200.4 231.8,196.4 231.5,195.9 229.5,195.3 227.5,195.1 223.5,195.5 219.5,196.5 215.5,198.8 209.5,203.9 207.4,206.4 204.9,210.4 201.5,219 200.1,226.4 199.8,230.4 200,236.4 201.5,244.2 204.7,252.4 209.5,259.9 215.6,266.4 221,270.4 218,270.4 217.5,270.1 213.5,266.8 207.7,260.4 202.8,252.4 199.5,243.3 198.1,234.4 198.3,226.4 198.9,222.4 200.5,216.4 203,210.4 205.3,206.4 207.5,203.5 213.5,197.9 219.2,194.4 223.9,192.4 233.5,189.7 241.5,186.4 249.6,184.4ZM234.8,196.4 233.8,198.4 233.7,200.4 234.6,202.4 235.5,203.4 237.5,204.3 239.5,204.2 241.5,202.4 242.4,200.4 242.1,198.4 240.6,196.4 239.5,195.4 237.5,194.9 235.5,195.7ZM243.5,215.5 243.7,222.4 243.5,222.7 243.4,222.4 242.9,216.4ZM247.5,234.4 249.5,234.4 251.5,236.4 253.5,236.4 255.5,238.4 257.5,238.4 261.5,242.4 263.5,242.4 263.5,244.4 259.5,248.4 257.5,248.4 255.5,250.4 253.5,250.4 251.5,252.4 247.5,252.4 247.5,234.4Z"/>
<path fill="#fafdc8" stroke="#fafdc8" stroke-width="0.3" d="M253.5,182.4 259.5,182.7 265.8,184.4 271.5,187.2 277.5,191.8 283.3,198.4 287.2,204.4 292.1,214.4 294,220.4 295.3,228.4 295.3,234.4 294.8,238.4 292.3,246.4 289.3,252.4 283.5,261.2 278.7,266.4 273.9,270.4 269.7,270.4 275.2,266.4 279.5,262.3 283.5,257.2 290,246.4 291.6,242.4 293.1,236.4 293.4,232.4 293.1,226.4 291.3,218.4 288.3,210.4 285.5,204.9 281.5,198.6 278,194.4 273.5,190.3 269.5,187.7 263.5,185.2 257.5,184.1 249.5,184.4 241.5,186.4 233.5,189.7 223.9,192.4 217.5,195.3 211.5,199.5 207.5,203.5 203.5,209.4 200.5,216.4 198.9,222.4 198.3,226.4 198.1,234.4 199.5,243.3 202.8,252.4 206.3,258.4 211.1,264.4 215.3,268.4 218,270.4 215.2,270.4 211.5,267.2 207.1,262.4 204.2,258.4 201.9,254.4 198,244.4 196.8,238.4 196.3,232.4 196.4,228.4 197.2,222.4 198.7,216.4 200.2,212.4 202.1,208.4 206.2,202.4 212.6,196.4 215.5,194.4 221.5,191.3 243.5,183.9 249.5,182.7 253.3,182.4ZM235.5,195.7 237.5,194.9 239.5,195.4 240.6,196.4 242.1,198.4 242.4,200.4 241.5,202.4 239.5,204.2 237.5,204.3 235.5,203.4 234.6,202.4 233.7,200.4 233.8,198.4 234.8,196.4ZM236.8,196.4 235.5,197 234.5,198.4 234.3,200.4 235.5,202.3 237.5,203.6 239.5,203.3 240.5,202.4 241.5,200.4 241.2,198.4 239.5,196.5 237.5,196Z"/>
<path fill="#fffab8" stroke="#fffab8" stroke-width="0.3" d="M243.5,182.2 251.5,180.8 259.5,181 267.5,183.3 271.5,185.4 278.1,190.4 283.6,196.4 289.1,204.4 294,214.4 296.4,222.4 297.2,228.4 296.9,236.4 295.5,243.2 292.7,250.4 288.1,258.4 283.6,264.4 277.4,270.4 273.9,270.4 278.7,266.4 284.1,260.4 289.3,252.4 293.1,244.4 294.8,238.4 295.3,234.4 295.3,228.4 294.8,224.4 293.5,218.6 291.5,213 287.2,204.4 283.3,198.4 279.5,193.8 273.5,188.5 269.5,186 263.5,183.6 257.5,182.5 251.5,182.5 243.5,183.9 239.5,185.1 223.5,190.5 219.5,192.2 212.6,196.4 207.5,201 205.5,203.3 202.1,208.4 200.2,212.4 198.1,218.4 196.4,228.4 196.3,232.4 196.8,238.4 198.6,246.4 200.9,252.4 203,256.4 208.8,264.4 215.2,270.4 212.2,270.4 207.5,265.8 202,258.4 198,250.4 196.6,246.4 195.2,240.4 194.6,236.4 194.5,228.4 194.9,224.4 196.7,216.4 199,210.4 202.3,204.4 205.5,200.5 209.8,196.4 217.5,191.3 223.5,188.6 242.8,182.4ZM237.5,196 239.5,196.5 241.2,198.4 241.5,200.4 240.5,202.4 239.5,203.3 237.5,203.6 235.6,202.4 234.3,200.4 234.5,198.4 235.5,197 236.8,196.4ZM235.2,198.4 234.9,200.4 236.6,202.4 237.5,203 239.6,202.4 241,200.4 240.7,198.4 239.5,197.1 237.5,196.7 235.5,198Z"/>
<path fill="#fff0a9" stroke="#fff0a9" stroke-width="0.3" d="M245.5,180 253.5,178.7 259.5,179 267.5,181.4 273.5,184.8 279.5,189.6 285.5,196.4 291,204.4 295.9,214.4 298.2,222.4 298.9,228.4 298.9,234.4 297.5,242.8 295.7,248.4 293.9,252.4 289.3,260.4 285.5,265.4 280.6,270.4 277.4,270.4 283.6,264.4 288.1,258.4 292.7,250.4 295.5,243.2 296.6,238.4 297.2,232.4 297.2,228.4 296.4,222.4 294,214.4 291.3,208.4 287.9,202.4 282,194.4 275.8,188.4 271.5,185.4 267.5,183.3 259.5,181 253.5,180.7 245.5,181.7 237.5,183.9 223.5,188.6 217.5,191.3 212.4,194.4 205.5,200.5 201.1,206.4 199,210.4 196.7,216.4 194.9,224.4 194.4,230.4 194.6,236.4 196.6,246.4 198.8,252.4 200.8,256.4 206.3,264.4 212.2,270.4 208.2,270.4 207.5,269.7 202.9,264.4 200.1,260.4 196.8,254.4 194.4,248.4 192.9,242.4 192,236.4 191.8,230.4 192.5,222.4 194,216.4 196.1,210.4 199.2,204.4 202.4,200.4 206.6,196.4 212,192.4 215.5,190.4 223.5,186.8 243.8,180.4ZM235.5,198 237.5,196.7 239.5,197.1 240.7,198.4 241,200.4 239.6,202.4 237.5,203 236.6,202.4 234.9,200.4 235.2,198.4ZM235.9,198.4 235.5,200.4 237.5,202.3 239.5,201.8 240.5,200.4 240.1,198.4 239.5,197.7 237.5,197.2Z"/>
<path fill="#fee79a" stroke="#fee79a" stroke-width="0.3" d="M245.5,178 253.5,176.5 259.5,176.7 263.5,177.6 267.5,179.2 273.5,182.6 279.5,187.3 285.5,193.7 291.7,202.4 297,212.4 299,218.4 300.3,224.4 300.7,232.4 299.9,240.4 297.7,248.4 294.1,256.4 289.5,263.6 283.6,270.4 280.6,270.4 285.5,265.4 289.3,260.4 293.9,252.4 295.7,248.4 297.5,242.8 298.7,236.4 299,232.4 298.5,224.4 297.5,219.5 295.1,212.4 291,204.4 287,198.4 281.5,191.6 277.5,187.8 271.5,183.5 265.5,180.6 259.5,179 253.5,178.7 247.5,179.5 235.5,182.8 223.5,186.8 217.5,189.4 212,192.4 206.6,196.4 202.4,200.4 198,206.4 196.1,210.4 194,216.4 192.2,224.4 191.8,230.4 192,236.4 192.5,240.4 194.4,248.4 196.8,254.4 200.1,260.4 202.9,264.4 208.2,270.4 201.8,270.4 195.9,262.4 191.8,254.4 189.6,248.4 187.8,240.4 187.2,234.4 187.2,228.4 188.2,220.4 189.7,214.4 191.9,208.4 195,202.4 197,200.4 204.9,194.4 209.5,191.4 215.5,188.2 227.5,183.6 244,178.4ZM237.5,197.2 239.5,197.7 240.1,198.4 240.5,200.4 239.5,201.8 237.5,202.3 235.5,200.4 235.9,198.4ZM236.6,198.4 236.1,200.4 237.5,201.8 239.5,201.1 240,200.4 239.5,198.3 237.5,197.7Z"/>
<path fill="#fedb8c" stroke="#fedb8c" stroke-width="0.3" d="M249.5,174.2 255.5,173.2 261.5,173.9 265.5,175.1 269.5,177 275.5,181 283.5,188.5 289.9,196.4 296.2,206.4 299.7,214.4 301.8,222.4 302.5,230.4 302.3,236.4 300.9,244.4 298.3,252.4 295.4,258.4 291.6,264.4 286.6,270.4 283.6,270.4 289.5,263.6 294.1,256.4 297.7,248.4 299.5,242.1 300.2,238.4 300.7,230.4 300.3,224.4 299,218.4 297,212.4 294.1,206.4 287.6,196.4 281.5,189.2 277.5,185.5 271.5,181.3 263.5,177.6 259.5,176.7 253.5,176.5 247.5,177.4 221.5,185.7 215.5,188.2 209.5,191.4 202.1,196.4 195.5,201.8 193.8,204.4 191.1,210.4 188.2,220.4 187.2,228.4 187.5,237.8 189.6,248.4 191.8,254.4 195.9,262.4 201.8,270.4 192.3,270.4 188.4,264.4 184.5,256.4 182.3,250.4 181.5,246.4 181.5,216.8 182.5,212.4 184.6,206.4 186.4,202.4 189.1,198.4 213.5,186.7 249,174.4ZM237.5,197.7 239.5,198.3 240,200.4 239.5,201.1 237.5,201.8 236.1,200.4 236.6,198.4ZM237.2,198.4 236.7,200.4 237.5,201.2 239.5,200.4 238.1,198.4 237.5,198.2Z"/>
<path fill="#fecc7d" stroke="#fecc7d" stroke-width="0.3" d="M183.5,158.4 189.6,158.4 200.4,172.4 200.5,174.4 197.2,180.4 195.7,184.4 195.6,186.4 197.5,188.3 203.5,187.3 229.5,178.9 240.2,174.4 247.5,169.7 254,166.4 256.8,164.4 256.7,162.4 255.4,158.4 288.1,158.4 282.1,168.4 279.5,171 278.8,172.4 278.8,174.4 279.3,176.4 281.5,180.4 293.5,197.6 298.6,206.4 302.5,216.4 303.8,222.4 304.5,228.4 304.1,238.4 302.6,246.4 301.5,249.9 299,256.4 296.9,260.4 293.5,265.7 289.8,270.4 286.6,270.4 291.6,264.4 295.4,258.4 298.3,252.4 300.4,246.4 302.3,236.4 302.3,226.4 301.4,220.4 299.7,214.4 296.2,206.4 289.9,196.4 285.2,190.4 281.5,186.4 273.5,179.5 269.5,177 265.5,175.1 259.5,173.5 255.5,173.2 251.5,173.7 245.5,175.4 213.5,186.7 189.1,198.4 186.4,202.4 184.6,206.4 182.5,212.4 181.5,216.8 181.5,158.4ZM237.5,198.2 238.1,198.4 239.5,200.4 237.5,201.2 236.7,200.4 237.2,198.4ZM237.2,200.4 237.5,200.7 238.2,200.4 237.5,199.5ZM181.5,246.4 182.3,250.4 184.5,256.4 188.4,264.4 192.3,270.4 181.5,270.4 181.5,246.4Z"/>
<path fill="#fdbc6e" stroke="#fdbc6e" stroke-width="0.3" d="M191.5,158.4 224.3,158.4 224.9,160.4 225.5,160.8 226.2,160.4 225.9,158.4 255.4,158.4 256.7,162.4 256.8,164.4 254,166.4 251.5,167.4 243.7,172.4 236,176.4 229.5,178.9 203.5,187.3 197.5,188.3 195.6,186.4 195.7,184.4 197.2,180.4 200.5,174.4 200.4,172.4 189.6,158.4ZM220.2,166.4 217.5,167.7 213.6,170.4 208.9,174.4 205.9,178.4 206.5,180.4 209.5,180.6 219.5,178.6 227.5,176.3 231.6,174.4 233.6,172.4 233.4,170.4 231.5,169 223.5,164.9 221.5,165.5ZM287.5,159.4 288.1,158.4 319.5,158.4 319.5,175 304.7,186.4 299.5,189.9 297.7,192.4 297.5,194.4 298,196.4 302.7,208.4 304.6,214.4 306.4,222.4 307,228.4 306.9,236.4 306.2,242.4 305.3,246.4 302.8,254.4 299,262.4 293.4,270.4 289.8,270.4 293.5,265.7 296.9,260.4 299,256.4 301.5,249.9 302.6,246.4 304.1,238.4 304.5,228.4 303.8,222.4 302.5,216.4 298.6,206.4 293.5,197.6 281.5,180.4 279.3,176.4 278.8,172.4 279.5,171 282.1,168.4 286.9,160.4ZM237.5,199.5 238.2,200.4 237.5,200.7 237.2,200.4Z"/>
<path fill="#fdac60" stroke="#fdac60" stroke-width="0.3" d="M225.5,158.4 225.9,158.4 226.2,160.4 225.5,160.8 224.9,160.4 224.3,158.4ZM221.5,165.5 223.5,164.9 231.5,169 233.4,170.4 233.6,172.4 231.6,174.4 227.5,176.3 219.5,178.6 209.5,180.6 206.5,180.4 205.9,178.4 208.9,174.4 213.6,170.4 217.5,167.7 220.2,166.4ZM319.5,175 319.5,211.9 317.5,212.4 311.5,209.2 310,210.4 309.5,211.9 309.5,214.4 310.7,222.4 311.4,232.4 310.9,244.4 308.8,252.4 306.4,258.4 302,266.4 299.2,270.4 293.4,270.4 296.4,266.4 300.1,260.4 304.2,250.4 306.5,240.4 307,228.4 306.4,222.4 304.6,214.4 302.7,208.4 298,196.4 297.5,194.4 297.7,192.4 299.5,189.9 304.7,186.4 317.7,176.4ZM319.5,241.4 319.5,270.4 311.5,270.4 309.5,268.4 311.2,266.4 311.5,263.8 312.7,262.4 313.5,258.3 314.6,256.4 315.5,251.9 316.3,250.4 317.5,244.6 319.1,242.4Z"/>
<path fill="#fa9857" stroke="#fa9857" stroke-width="0.3" d="M311.5,209.2 317.5,212.4 319.5,211.9 319.5,241.4 317.5,244.6 316.3,250.4 315.5,251.9 314.6,256.4 313.5,258.3 312.7,262.4 311.5,263.8 311.2,266.4 309.5,268.4 311.5,270.4 299.2,270.4 302,266.4 306.4,258.4 308.8,252.4 310.9,244.4 311.4,232.4 310.7,222.4 309.5,214.4 309.5,211.9 310,210.4Z"/>
</g>
<path d="M203.8,207.4 L204.3,210.4 L209.9,214.5 L215.6,216.9 L218.0,218.5 L222.1,221.4 L223.7,225.0 L226.1,227.4 L230.2,227.8 L232.6,225.8 L234.2,222.6 L232.8,218.9 L233.0,214.3 L234.7,210.3 L235.5,206.2 L237.1,202.2 L239.5,198.1 L242.8,198.9 L247.8,197.9 L252.8,198.4 L258.3,200.1 L263.7,201.9 L268.3,203.8 L273.8,204.7 L279.2,206.5 L280.1,210.1 L281.1,214.7 L280.1,219.2 L275.6,222.0 L280.1,222.9 L283.8,225.6 L285.2,230.2 L285.6,236.9 L285.2,241.9 L284.8,247.9 L282.8,251.9 L280.8,253.9 L278.8,256.9 L276.8,261.9 L273.8,263.9 L268.8,265.9 L263.8,267.4 L258.8,266.9 L251.8,267.4 L249.8,265.9 L250.8,261.9 L249.8,258.9 L250.3,254.9 L249.8,249.9 L247.8,246.9 L244.8,244.9 L242.8,242.9 L240.8,241.4 L238.4,247.3 L236.8,249.7 L238.4,253.8 L236.0,255.4 L233.6,254.6 L229.5,255.4 L224.7,252.9 L222.2,250.5 L219.8,248.1 L219.0,244.0 L218.2,240.0 L213.3,240.0 L212.9,237.6 L214.9,235.9 L214.1,231.9 L214.8,230.7 L214.0,226.6 L214.8,224.2 L213.2,222.6 L209.9,220.1 L205.9,217.7 L203.5,212.9 Z" fill="#e4e4e4"/>
<path d="M181.2,205.9 L184.8,204.4 L186.9,205.9 L186.3,209.9 L183.3,213.2 L181.2,213.2 Z" fill="#e4e4e4"/>
</g>
<rect x="218.5" y="195.3" width="26.5" height="25.5" fill="none" stroke="#d9534f" stroke-width="1.1"/>
<path d="M237.0,198.8 L239.6,198.4 L240.0,201.4 L237.6,202.0 Z" fill="none" stroke="#d9534f" stroke-width="0.8"/>
<clipPath id="pc6f"><rect x="324.3" y="158.4" width="136.2" height="111.99999999999997"/></clipPath>
<clipPath id="pc6"><path d="M324.32,194.95 A73.3,73.3 0 0 1 451.28,268.25 Z"/></clipPath>
<g clip-path="url(#pc6f)"><g clip-path="url(#pc6)" >
<path fill="#cbdbc3" stroke="#cbdbc3" stroke-width="0.3" d="M430.3,158.4 462.3,158.4 462.3,203.2 458.3,204.7 456.3,205.9 456.2,206.4 456.3,212.4 457.6,226.4 457.5,234.4 456.8,240.4 455.5,246.4 452.7,254.4 448.6,262.4 443.5,270.4 419.7,270.4 424.3,266.1 427.5,262.4 438.3,245.7 439.2,242.4 439.3,240.4 438.3,238.4 434.3,245.1 432.3,246.5 430.3,246.8 426.3,245.7 420.3,242.9 416.6,240.4 410.3,235 406.3,233.9 394,232.4 392.3,230.4 408.3,226.1 412.1,222.4 414.3,221 418.3,219.8 420.3,220 422.3,220.8 428.3,224 430.3,224.6 432.3,224.4 433.3,222.4 433.5,218.4 431.7,200.4 426.3,185.4 424.5,176.4 424.1,172.4 424.4,168.4 430.1,158.4Z"/>
<path fill="#fcefe9" stroke="#fcefe9" stroke-width="0.3" d="M404.3,158.4 430.1,158.4 424.4,168.4 424.1,172.4 424.5,176.4 426.3,185.4 431.7,200.4 433.5,218.4 433.3,222.4 432.3,224.4 430.3,224.6 428.3,224 422.3,220.8 420.3,220 418.3,219.8 414.3,221 412.1,222.4 408.3,226.1 392.3,230.4 394,232.4 406.3,233.9 410.3,235 416.6,240.4 420.3,242.9 426.3,245.7 430.3,246.8 432.3,246.5 434.3,245.1 438.3,238.4 439.3,240.4 439.2,242.4 438.3,245.7 427.5,262.4 424.3,266.1 419.7,270.4 349.2,270.4 346.3,267.3 342.3,262 338,254.4 335.1,246.4 333.5,238.4 333.1,230.4 333.5,224.4 334.2,220.4 337.3,210.4 340.3,204.4 342.1,202.4 346.3,199.7 359.4,194.4 364.3,193.2 366.5,194.4 368.7,202.4 370.6,206.4 384.3,226.3 385.2,228.4 388.3,230.8 403.7,204.4 405.5,200.4 407.4,194.4 407.9,190.4 407.6,182.4 407.9,170.4 406.9,166.4 403.5,160.4 403.6,158.4ZM324.9,176.4 332.3,183 332.9,184.4 333,186.4 332.8,188.4 331.1,194.4 329.5,198.4 326.4,204.4 324.3,209.9 324.3,175.9ZM460.3,203.9 462.3,203.2 462.3,270.4 443.5,270.4 448.6,262.4 451.8,256.4 454.3,250.3 456,244.4 457.1,238.4 457.6,232.4 457.5,224.4 456.3,212.4 456.2,206.4 456.3,205.9 459.1,204.4ZM324.7,254.4 328.3,262.7 333.1,270.4 324.3,270.4 324.3,253.3Z"/>
<path fill="#f0c4b2" stroke="#f0c4b2" stroke-width="0.3" d="M326.3,158.4 403.6,158.4 403.5,160.4 406.3,165.1 407.6,168.4 407.9,170.4 407.6,178.4 407.9,190.4 407.8,192.4 406.8,196.4 403.7,204.4 388.3,230.8 385.2,228.4 384.3,226.3 370.3,205.9 368.7,202.4 366.3,194.1 364.3,193.2 359.4,194.4 346.3,199.7 342.1,202.4 340.3,204.4 337.3,210.4 334.2,220.4 333.5,224.4 333.1,230.4 333.5,238.4 335.1,246.4 338,254.4 342.3,262 346.3,267.3 349.2,270.4 333.1,270.4 328.3,262.7 324.3,253.3 324.3,209.9 326.4,204.4 329.5,198.4 331.1,194.4 332.8,188.4 333,186.4 332.9,184.4 332.3,183 324.3,175.9 324.3,158.4ZM370.3,176.4 367.3,178.4 366,180.4 365.4,182.4 366.1,184.4 369.1,186.4 372.3,187.3 374.3,187.4 376.3,186.9 379.1,184.4 380,182.4 380.1,180.4 379,178.4 376.3,176.5 374.3,175.8 372.3,175.8 370.3,176.4ZM386.9,184.4 382.3,188.2 380.3,189.1 376.3,191.8 373.2,196.4 372.7,198.4 373.1,202.4 374.1,204.4 376.3,207 380.3,210 381.4,210.4 383.7,214.4 384.5,218.4 385.1,216.4 385.2,210.4 389.4,204.4 391.6,200.4 395.2,192.4 395.7,190.4 395.6,188.4 394.3,185.8 392.3,184.1 390.3,183.4 388.3,183.6ZM386.1,222.4 386.3,225.5 386.5,224.4 386.3,220.6Z"/>
<path fill="#e5a088" stroke="#e5a088" stroke-width="0.3" d="M370.3,176.4 372.3,175.8 374.3,175.8 376.3,176.5 379,178.4 380.1,180.4 380,182.4 379.1,184.4 376.3,186.9 374.3,187.4 372.3,187.3 369.1,186.4 366.1,184.4 365.4,182.4 366,180.4 367.3,178.4 370.3,176.4ZM388.3,183.6 390.3,183.4 392.3,184.1 394.3,185.8 395.6,188.4 395.7,190.4 395.2,192.4 391.6,200.4 389.4,204.4 385.2,210.4 385.1,216.4 384.5,218.4 383.7,214.4 381.4,210.4 380.3,210 376.3,207 374.1,204.4 373.1,202.4 372.7,198.4 373.2,196.4 376.3,191.8 380.3,189.1 382.3,188.2 386.9,184.4ZM377.1,196.4 375.7,198.4 375.4,200.4 376.3,202.8 378.3,204.7 380.3,205.4 382.3,205 383.2,204.4 385,202.4 385.6,200.4 385.5,198.4 384.4,196.4 382.3,195.1 380.3,194.9 378.3,195.5ZM386.3,220.6 386.5,224.4 386.3,225.5 386.1,222.4Z"/>
<path fill="#d06a60" stroke="#d06a60" stroke-width="0.3" d="M378.3,195.5 380.3,194.9 382.3,195.1 384.4,196.4 385.5,198.4 385.6,200.4 385,202.4 383.2,204.4 382.3,205 380.3,205.4 378.3,204.7 376.3,202.8 375.4,200.4 375.7,198.4 377.1,196.4ZM379,200.4 380.3,201.3 381.2,200.4 380.3,199Z"/>
<path fill="#b84860" stroke="#b84860" stroke-width="0.3" d="M380.3,199 381.2,200.4 380.3,201.3 379,200.4Z"/>
</g>
<path d="M345.8,207.4 L346.3,210.4 L351.9,214.5 L357.6,216.9 L360.0,218.5 L364.1,221.4 L365.7,225.0 L368.1,227.4 L372.2,227.8 L374.6,225.8 L376.2,222.6 L374.8,218.9 L375.0,214.3 L376.7,210.3 L377.5,206.2 L379.1,202.2 L381.5,198.1 L384.8,198.9 L389.8,197.9 L394.8,198.4 L400.3,200.1 L405.7,201.9 L410.3,203.8 L415.8,204.7 L421.2,206.5 L422.1,210.1 L423.1,214.7 L422.1,219.2 L417.6,222.0 L422.1,222.9 L425.8,225.6 L427.2,230.2 L427.6,236.9 L427.2,241.9 L426.8,247.9 L424.8,251.9 L422.8,253.9 L420.8,256.9 L418.8,261.9 L415.8,263.9 L410.8,265.9 L405.8,267.4 L400.8,266.9 L393.8,267.4 L391.8,265.9 L392.8,261.9 L391.8,258.9 L392.3,254.9 L391.8,249.9 L389.8,246.9 L386.8,244.9 L384.8,242.9 L382.8,241.4 L380.4,247.3 L378.8,249.7 L380.4,253.8 L378.0,255.4 L375.6,254.6 L371.5,255.4 L366.7,252.9 L364.2,250.5 L361.8,248.1 L361.0,244.0 L360.2,240.0 L355.3,240.0 L354.9,237.6 L356.9,235.9 L356.1,231.9 L356.8,230.7 L356.0,226.6 L356.8,224.2 L355.2,222.6 L351.9,220.1 L347.9,217.7 L345.5,212.9 Z" fill="#e4e4e4"/>
<path d="M323.2,205.9 L326.8,204.4 L328.9,205.9 L328.3,209.9 L325.3,213.2 L323.2,213.2 Z" fill="#e4e4e4"/>
</g>
<rect x="360.5" y="195.3" width="26.5" height="25.5" fill="none" stroke="#d9534f" stroke-width="1.1"/>
<path d="M379.0,198.8 L381.6,198.4 L382.0,201.4 L379.6,202.0 Z" fill="none" stroke="#d9534f" stroke-width="0.8"/>
<clipPath id="rc7"><rect x="67" y="275" width="108.6" height="104"/></clipPath>
<g clip-path="url(#rc7)"><g >
<path fill="#0c3d73" stroke="#0c3d73" stroke-width="0.3" d="M129,275 138.4,275 135,278.2 133,278.1 131,277.2 128.4,275ZM93,282.2 95,281.8 107,283.6 110.9,285 113.5,287 114.5,289 114.9,291 115.6,301 114.2,303 111,306.2 107,308.7 91,310.2 85,311.8 75,315.7 67,317.2 67,304.1 69,302.8 79,290.1 81,288.1 91,283Z"/>
<path fill="#195797" stroke="#195797" stroke-width="0.3" d="M91,276.4 93,275.4 95,275.3 99,277 107,279.1 119,279.3 119.9,279 120.8,277 121,275 128.4,275 131,277.2 133,278.1 135,278.2 138.4,275 142.3,275 140.7,277 135,282 133,282.4 123,282.5 122.3,283 121.5,287 121,301 119,304.3 117,306.7 114.7,309 111,311.8 109,313 107,313.5 95,314.3 81,317.7 67,319.4 67,317.2 77,315.1 87,311.2 95,309.6 107,308.7 111,306.2 114.2,303 115.6,301 114.9,291 114.5,289 113,286.5 110.9,285 107,283.6 95,281.8 91,283 81,288.1 79,290.1 69,302.8 67,304.1 67,296.2 71,291.6 75.8,285 79,282.4 90,277Z"/>
<path fill="#276fb0" stroke="#276fb0" stroke-width="0.3" d="M69,275 121,275 120.8,277 119.9,279 119,279.3 107,279.1 99,277 95,275.3 93,275.4 78,283 75.8,285 71,291.6 67,296.2 67,275ZM141,276.6 142.3,275 146.2,275 143,278.7 137,284.3 129.8,289 127.8,293 125.6,301 121,309.6 119.9,311 117.4,313 107,316.9 99,318.5 93,320.6 79,321.5 67,321.6 67,319.4 81,317.7 95,314.3 105,313.7 109,313 114.7,309 119,304.3 121,301 121.5,287 122.3,283 123,282.5 133,282.4 135,282 140.7,277Z"/>
<path fill="#3884bb" stroke="#3884bb" stroke-width="0.3" d="M145,276.5 146.2,275 149.6,275 148.4,277 136.7,289 133,295.1 130.1,301 125.8,307 122.7,313 121,314.3 113,317 107,319.8 101,322 95,325.7 93,326.3 67,323.8 67,321.6 79,321.5 93,320.6 99,318.5 107,316.9 117.4,313 119.9,311 121,309.6 125.6,301 127.8,293 129.8,289 137,284.3 144.6,277Z"/>
<path fill="#4e9ac7" stroke="#4e9ac7" stroke-width="0.3" d="M149,276 149.6,275 152.3,275 151,277.8 148.8,281 141.2,289 134.6,301 129,307.4 125.7,313 123,315.4 113.4,319 97,328.4 95,329.4 93,329.8 81,329.1 73.1,327 67,326.1 67,323.8 93,326.3 95,325.7 101,322 107,319.8 113,317 121,314.3 122.7,313 125.8,307 130.1,301 133,295.1 136.7,289 148.4,277Z"/>
<path fill="#74b2d4" stroke="#74b2d4" stroke-width="0.3" d="M153,275 155.1,275 153,279.6 150.8,283 145.8,289 139.2,301 133,306.7 126.7,315 123,317.2 117,319.3 113,321.3 107,325.8 97,331.5 93,332.8 81,333.4 67,329.3 67,326.1 73.1,327 81,329.1 93,329.8 95,329.4 97,328.4 113.4,319 123,315.4 125.7,313 129,307.4 134.6,301 141.2,289 148.8,281 151.5,277 152.3,275Z"/>
<path fill="#98c8e0" stroke="#98c8e0" stroke-width="0.3" d="M155,275.3 155.1,275 157.8,275 156.4,279 154.4,283 150.3,289 143.8,301 141,303.8 135,308.5 129.8,315 127,317.2 117,321.1 111,325 107,329.2 104.2,331 97,334.5 93,335.8 81,337.6 79,337.3 67,333.6 67,329.3 81,333.4 93,332.8 97,331.5 101.7,329 107,325.8 113,321.3 125,316.1 126.7,315 128.5,313 133,306.7 139.2,301 145.8,289 150.8,283 154.3,277Z"/>
<path fill="#b6d7e8" stroke="#b6d7e8" stroke-width="0.3" d="M159,275 160.6,275 159,280.5 157,285.1 149,300.1 147,302.6 143,306.4 135,312.3 131,317.1 128,319 119,321.9 115,324.2 111.7,327 109.4,331 107,333 97,337.6 87,340.5 81,342.8 79,342.5 71,339.2 67,338 67,333.6 79,337.3 81,337.6 95,335.3 101,332.7 107,329.2 111,325 115,322.2 119,320.2 127,317.2 129.8,315 135,308.5 141,303.8 143.8,301 150.3,289 155.5,281 157.8,275ZM135,336.9 137.6,339 138,341 137,343.6 135,346.3 133,346.4 130.3,345 128.7,343 128.3,341 129.9,339 133,337.4 134.6,337Z"/>
<path fill="#d3e6f0" stroke="#d3e6f0" stroke-width="0.3" d="M161,275 163.1,275 162.2,281 161,285.1 155,298.9 153.9,301 151,304.4 137.6,315 133,319.4 129,321.2 121,322.7 116.6,325 114.3,327 113,332.3 111,335.1 101.7,339 91,344.8 81,349.3 77,348.6 67,344.5 67,338 71,339.2 79,342.5 81,342.8 87,340.5 97,337.6 107,333 109.4,331 111.7,327 115,324.2 119,321.9 129,318.5 131.1,317 135,312.3 142.3,307 148.4,301 151,296.7 158,283 160.6,275ZM135,333 137,333.7 138.9,335 140.8,337 141.9,339 142.2,341 141.8,343 140.3,347 139.4,349 136.4,353 135,354.3 131,356.6 127.9,359 126,361 123,365.2 121,365.1 117.4,353 117.7,347 118.3,343 119,341 121.7,339 125.6,337 133,333.5 135,333ZM134.6,337 133,337.4 129.9,339 128.3,341 128.7,343 130.3,345 133,346.4 135,346.3 137,343.6 138,341 137.6,339 135,336.9Z"/>
<path fill="#e5eef4" stroke="#e5eef4" stroke-width="0.3" d="M163,276 163.1,275 165.4,275 166.1,283 167.9,289 166.8,291 163,294.4 161.3,297 157,307 155,309 149,311.5 146.7,313 145,315 143,318.9 141,321.1 139,322.3 135,323.7 121,324.3 119,325.3 116.9,327 116.7,329 117.3,331 119,333.7 121,334.7 123,334.2 133,329.7 135,329.1 137,329.2 141,330.4 143,331.7 145,334.4 145.9,337 146.4,341 146.1,345 144.5,353 143,356.5 141,359 139,360.5 135,362.3 133,363.9 130.6,367 129,370.2 126.2,373 123,374.6 121,374.5 119,371.8 116.4,361 112.7,353 111,346.3 109,342.3 107,341.8 101,346.5 87.7,353 81,358.7 79,358.8 77,358.1 67,353.5 67,344.5 77,348.6 81,349.3 91,344.8 101.7,339 111,335.1 113,332.3 114.3,327 116.6,325 121,322.7 129,321.2 133,319.4 137.6,315 145.4,309 152.4,303 155,298.9 160.3,287 161.7,283 162.9,277ZM135,333 133,333.5 125.6,337 121.7,339 119,341 118.3,343 117.7,347 117.4,353 121,365.1 123,365.2 126,361 127.9,359 131,356.6 135,354.3 136.4,353 139.4,349 140.3,347 141.8,343 142.2,341 141.9,339 140.8,337 138.9,335 137,333.7 135,333Z"/>
<path fill="#f7f7f7" stroke="#f7f7f7" stroke-width="0.3" d="M167,275 167.7,275 169,279.8 171,283.3 172.9,285 175,286.1 177,286.5 177,379 67,379 67,353.5 77,358.1 79,358.8 81,358.7 87.7,353 101,346.5 107,341.8 109,342.3 110.5,345 112.7,353 116.4,361 118.7,371 119.7,373 121,374.5 123,374.6 127,372.4 129,370.2 130.6,367 133,363.9 135,362.3 138.1,361 141,359 143,356.5 144.5,353 146.1,345 146.3,339 145.3,335 144.2,333 143,331.7 141,330.4 137,329.2 135,329.1 123,334.2 121,334.7 119,333.7 117.3,331 116.7,329 116.9,327 119,325.3 121,324.3 135,323.7 139,322.3 141,321.1 143,318.9 145,315 146.7,313 149,311.5 155,309 157,307 161.3,297 163,294.4 166.8,291 167.9,289 166.1,283 165.4,275ZM119.6,327 120,329 121,330.2 123,330.2 125.7,329 128.3,327 123,325.9 121,326.1ZM100.6,355 97,356.9 95,358.5 88.7,365 88.2,367 89.4,369 91.6,371 95,373.3 98.4,375 103,376.2 107,376.7 109,376.4 111,375.5 113.3,373 114.5,369 114.5,365 113,361 109.3,355 107,353.3 105,353.5 101,354.8Z"/>
<path fill="#faeae0" stroke="#faeae0" stroke-width="0.3" d="M169,275 170.1,275 170.7,277 173,280.8 175,282.5 177,283.1 177,286.5 175,286.1 172.9,285 171,283.3 169,279.8 167.7,275ZM121,326.1 123,325.9 128.3,327 125.7,329 123,330.2 121,330.2 120,329 119.6,327ZM101,354.8 105,353.5 107,353.3 109.3,355 113,361 114.5,365 114.5,369 113.3,373 111,375.5 109,376.4 107,376.7 103,376.2 98.4,375 95,373.3 91.6,371 89.4,369 88.2,367 88.7,365 95,358.5 97,356.9 100.6,355ZM106.8,359 105,359.5 101,362.2 98.6,365 98.7,367 101,369.3 105,371.5 107,372 109,371.2 111,368.4 111.5,367 111.5,365 109,360.4 107,358.9Z"/>
<path fill="#fddcc9" stroke="#fddcc9" stroke-width="0.3" d="M171,275 172.4,275 173,276.4 175,279 177,279.8 177,283.1 175,282.5 173,280.8 171.7,279 170.1,275ZM107,358.9 109,360.4 111.5,365 111.5,367 111,368.4 109,371.2 107,372 105,371.5 101,369.3 98.7,367 98.6,365 101,362.2 105,359.5 106.8,359ZM106.6,365 107,367 107,364.8Z"/>
<path fill="#f9c4a9" stroke="#f9c4a9" stroke-width="0.3" d="M173,275 174.9,275 177,276.4 177,279.8 175,279 173,276.4 172.4,275ZM107,364.8 107,367 106.6,365Z"/>
<path fill="#f5aa89" stroke="#f5aa89" stroke-width="0.3" d="M175,275 177,275 177,276.4 174.9,275Z"/>
</g>
<path d="M176.7,285.1 L170.7,287.8 L162.3,289.0 L152.7,289.6 L147.9,296.2 L144.3,302.2 L140.7,307.0 L135.9,311.8 L133.5,316.6 L131.1,322.6 L127.5,327.4 L127.2,331.6 L129.1,335.6 L127.2,340.6 L125.7,348.6 L125.7,356.6 L121.7,364.1 L118.3,367.4 L112.3,371.0 L105.1,371.6 L93.1,374.6 L81.1,377.0 L72.7,370.6 L66.7,366.2 L66.7,380.6 L176.7,380.6 Z" fill="#e4e4e4" stroke="#9a9a9a" stroke-width="0.4"/>
<path d="M176.7,302.1 L164.7,303.8 L155.7,308.4 L146.7,314.6 L140.2,322.2 L138.7,329.6 L137.5,336.0 L131.9,343.0 L127.7,350.0 L126.3,357.0 L126.3,362.6 L129.1,365.4 L134.7,366.8 L137.5,364.0 L138.9,368.2 L140.3,373.8 L138.9,380.6 L176.7,380.6 Z" fill="#c6c6c6" stroke="#9a9a9a" stroke-width="0.4"/>
<path d="M66.7,367.4 L72.7,368.6 L79.7,374.6 L79.9,380.6 L66.7,380.6 Z" fill="#c6c6c6"/>
<path d="M112.3,371.6 L117.7,370.6 L120.7,374.6 L120.7,380.6 L112.3,380.6 Z" fill="#c6c6c6"/>
<path d="M66.7,353.8 L79.9,347.2 L99.7,345.0 L115.1,338.4 L119.5,334.0 L126.1,332.9" fill="none" stroke="#a8a8a8" stroke-width="0.45"/>
<path d="M66.7,355.8 L79.9,349.0 L99.7,346.8 L115.1,340.2 L120.2,335.6 L126.1,334.6" fill="none" stroke="#a8a8a8" stroke-width="0.45"/>
<path d="M117.3,336.2 L118.9,342.6 L118.2,351.6 L121.7,367.0" fill="none" stroke="#a8a8a8" stroke-width="0.45"/>
<path d="M153.6,292.1 L155.2,292.8 L157.3,294.3 L156.9,296.6 L158.0,300.1 L155.8,300.9" fill="none" stroke="#9a9a9a" stroke-width="0.45"/>
<path d="M160.9,289.9 L160.3,293.1 L160.9,296.5 L164.2,296.8 L168.2,297.2 L169.0,293.6 L167.5,290.6" fill="none" stroke="#9a9a9a" stroke-width="0.45"/>
<path d="M169.7,289.9 L170.4,293.1 L170.4,295.8 L172.7,296.1 L174.1,297.2 L174.8,300.1" fill="none" stroke="#9a9a9a" stroke-width="0.45"/>
<path d="M147.2,300.1 L145.7,303.6 L144.2,305.1 L143.2,309.1 L140.9,311.6 L140.2,316.1 L137.7,319.1 L137.3,323.6 L135.2,327.1 L134.5,331.6 L132.2,335.1 L131.2,340.6" fill="none" stroke="#9a9a9a" stroke-width="0.45"/>
<path d="M66.7,304.3 L88.7,295.5 L110.7,286.7 L126.1,280.1 L139.3,274.6" fill="none" stroke="#7a7a7a" stroke-opacity="0.45" stroke-width="0.4"/>
<path d="M68.7,344.6 L94.3,330.6 L108.7,322.6 L126.7,310.6 L154.7,296.6 L176.7,288.9" fill="none" stroke="#7a7a7a" stroke-opacity="0.45" stroke-width="0.4"/>
<path d="M66.7,361.4 L96.7,347.0 L126.7,333.6 L142.7,331.1 L177.7,329.4" fill="none" stroke="#7a7a7a" stroke-opacity="0.45" stroke-width="0.4"/>
<path d="M108.7,380.6 L119.0,379.0 L142.7,368.6 L177.7,359.0" fill="none" stroke="#7a7a7a" stroke-opacity="0.45" stroke-width="0.4"/>
<path d="M66.7,296.6 L95.3,329.6 L126.1,362.6 L139.3,379.6" fill="none" stroke="#7a7a7a" stroke-opacity="0.45" stroke-width="0.4"/>
<path d="M121.7,274.6 L132.7,307.6 L143.7,336.2 L154.7,362.6 L161.3,379.6" fill="none" stroke="#7a7a7a" stroke-opacity="0.45" stroke-width="0.4"/>
</g>
<path d="M138.9,291.4 L151.5,288.8 L153.3,303.4 L142.5,305.6 Z" fill="none" stroke="#222" stroke-width="1.1"/>
<clipPath id="rc8"><rect x="195" y="275" width="108.5" height="104"/></clipPath>
<g clip-path="url(#rc8)"><g >
<path fill="#b6d7e8" stroke="#b6d7e8" stroke-width="0.3" d="M221,292.5 233,291.8 235,292 239.6,297 244.5,301 243.2,303 235.1,311 232.3,313 227,315.3 221,319.4 219,318.9 215,316.6 209,310.8 206.5,307 204.7,303 204.6,301 207,298.3 209,296.7 219.3,293ZM249,362.5 249.7,365 249,365.5 248.9,363Z"/>
<path fill="#d3e6f0" stroke="#d3e6f0" stroke-width="0.3" d="M263,275 263.5,275 263,275.4 262.7,275ZM301,275 305,275 305,279.6 303,278.9 301.3,277 300.3,275ZM233,285 237,285.3 241.7,287 244.9,289 254,297 256,299 257.3,301 251,313 246.7,315 235,317.3 231,319.1 228.4,321 226.6,323 224.4,327 223,331.3 221,333 215,331.5 209,330.6 195,330.5 195,299.3 199,296.4 206.3,289 209,287.1 223,285.2 231.3,285ZM219.3,293 209,296.7 207,298.3 204.6,301 204.7,303 206.5,307 209,310.8 215,316.6 219,318.9 221,319.4 227,315.3 232.3,313 235.1,311 243.2,303 244.5,301 239.6,297 235,292 233,291.8 221,292.5ZM247,338.6 249,337.8 251,337.6 259,338.1 262.6,339 262.8,341 258.1,345 256.6,347 255,350.4 254.3,353 255.6,365 255.1,367 253.7,369 251,371.2 249,371.5 248.4,371 247,369.3 245.8,365 244.6,343 244.7,341 246.3,339ZM248.9,363 249,365.5 249.7,365 249,362.5Z"/>
<path fill="#e5eef4" stroke="#e5eef4" stroke-width="0.3" d="M257,275 262.7,275 263,275.4 263.5,275 272.3,275 271,278.4 269,281 267,282.5 263,284 259,283.7 257.9,283 257.1,281 256.8,275ZM297,275 300.3,275 301.3,277 303,278.9 305,279.6 305,285.2 303,284.7 300.6,283 297.7,279 296.1,275ZM215,280.9 223,280.3 237,281.5 244.3,283 249,284.5 255,285.6 259.4,291 263,294.4 267,297.4 268.4,299 269.2,301 268.4,303 266.6,305 263,307.7 258,315 257,315.8 254.8,317 251,318 235,321.1 231,324 228.7,327 228.7,339 228,341 225,344.2 223,345.6 221,345.7 219,344.6 215.7,341 213.3,339 209,337.1 195,336.8 195,330.5 209,330.6 215,331.5 221,333 223,331.3 224.4,327 226.6,323 228.4,321 231,319.1 235,317.3 246.7,315 251,313 257.3,301 256,299 254,297 244.9,289 241,286.7 237,285.3 235,285 223,285.2 209,287.1 206.3,289 199,296.4 195,299.3 195,291.5 197.9,289 201,285 203,283.5 205,282.6 209,281.6 214,281ZM259,332.6 263,331.2 267,332.5 269,334 271.2,337 271.9,339 271.9,341 271.2,343 269,346 267,347.5 263,349.4 261,351.5 260.2,353 260,355 260.4,365 259.8,369 259,371 257,373.8 253,375.9 249,376.5 247,375.8 244.7,373 243.6,369 242.2,359 240.5,353 238.9,341 239.7,339 242.2,337 245,335.7 249,334.6 257.8,333ZM246.3,339 244.7,341 244.6,343 245.8,365 247,369.3 248.4,371 249,371.5 251,371.2 253.7,369 255.1,367 255.6,365 254.3,353 255,350.4 256.6,347 258.1,345 262.8,341 262.6,339 259,338.1 251,337.6 249,337.8 247,338.6Z"/>
<path fill="#f7f7f7" stroke="#f7f7f7" stroke-width="0.3" d="M197,275 205,275 209,276 218.5,275 223.1,275 231,277 235,277.6 247,278.1 249,278 251,276.1 251.6,275 256.8,275 257.1,281 257.9,283 259,283.7 261,284 263,284 265,283.4 267,282.5 269,281 271,278.4 272.3,275 283.2,275 283.2,287 283.8,289 285,290.8 287,292.7 289,293.8 291,293.8 293,292.6 294.7,291 295.8,289 295.4,287 292.9,281 291.9,275 296.1,275 297.7,279 300.6,283 303,284.7 305,285.2 305,379 195,379 195,336.8 209,337.1 213.3,339 215.7,341 219,344.6 221,345.7 223,345.6 225,344.2 228,341 228.7,339 228.7,327 231,324 235,321.1 251,318 254.8,317 257,315.8 258,315 263,307.7 266.6,305 268.4,303 269.2,301 268.4,299 267,297.4 263,294.4 259.4,291 255,285.6 249,284.5 244.3,283 237,281.5 221,280.3 207,282 204,283 201,285 197.9,289 195,291.5 195,275ZM242.4,323 237,324.1 234.9,325 233,327 233.1,329 234.9,333 237,333.7 243,332.1 251.1,331 256.3,329 258.8,327 258.1,325 257,324.1 253,322.4 249,321.9 243,322.9ZM257.8,333 249,334.6 245,335.7 242.2,337 239.7,339 238.9,341 240.5,353 242.2,359 243.6,369 244.7,373 247,375.8 249,376.5 253,375.9 257,373.8 259,371 259.8,369 260.4,365 260,355 260.2,353 261,351.5 263,349.4 267,347.5 269,346 271.2,343 271.9,341 271.9,339 271.2,337 269,334 267,332.5 263,331.2 259,332.6ZM230.5,355 228.2,357 226,361 225.1,365 225.1,367 225.7,369 227,371.8 229,373.9 233,375.8 235,376.1 237,375.6 239,373.5 240.3,369 240.4,365 239.5,361 237,355.3 235,353.4 233,353.7 231,354.7Z"/>
<path fill="#faeae0" stroke="#faeae0" stroke-width="0.3" d="M205,275 218.5,275 209,276 204.9,275ZM225,275 251.6,275 251,276.1 249,278 247,278.1 235,277.6 231,277 223.1,275ZM285,275 291.9,275 292.9,281 295.4,287 295.8,289 294.7,291 291,293.8 289,293.8 287,292.7 285,290.8 283.8,289 283.2,287 283.2,275ZM243,322.9 249,321.9 253,322.4 257,324.1 258.1,325 258.8,327 256.3,329 251.1,331 243,332.1 237,333.7 234.9,333 233.1,329 233,327 234.9,325 237,324.1 242.4,323ZM243.4,327 247,327.9 249,328 251.3,327 249,325.8 245,326.6ZM231,354.7 233,353.7 235,353.4 237,355.3 239.5,361 240.4,365 240.3,369 239,373.5 237,375.6 235,376.1 233,375.8 229,373.9 227,371.8 225.7,369 225.1,367 225.1,365 226,361 228.2,357 230.5,355ZM234.5,361 233,361.9 231,365 231.2,367 232.7,369 235,370.3 237,368.7 237.6,367 237.7,365 237,362.9 235,360.7Z"/>
<path fill="#fddcc9" stroke="#fddcc9" stroke-width="0.3" d="M245,326.6 249,325.8 251.3,327 249,328 247,327.9 243.4,327ZM235,360.7 237,362.9 237.7,365 237.6,367 237,368.7 235,370.3 232.7,369 231.2,367 231,365 233,361.9 234.5,361Z"/>
</g>
<path d="M304.7,285.1 L298.7,287.8 L290.3,289.0 L280.7,289.6 L275.9,296.2 L272.3,302.2 L268.7,307.0 L263.9,311.8 L261.5,316.6 L259.1,322.6 L255.5,327.4 L255.2,331.6 L257.1,335.6 L255.2,340.6 L253.7,348.6 L253.7,356.6 L249.7,364.1 L246.3,367.4 L240.3,371.0 L233.1,371.6 L221.1,374.6 L209.1,377.0 L200.7,370.6 L194.7,366.2 L194.7,380.6 L304.7,380.6 Z" fill="#e4e4e4" stroke="#9a9a9a" stroke-width="0.4"/>
<path d="M304.7,302.1 L292.7,303.8 L283.7,308.4 L274.7,314.6 L268.2,322.2 L266.7,329.6 L265.5,336.0 L259.9,343.0 L255.7,350.0 L254.3,357.0 L254.3,362.6 L257.1,365.4 L262.7,366.8 L265.5,364.0 L266.9,368.2 L268.3,373.8 L266.9,380.6 L304.7,380.6 Z" fill="#c6c6c6" stroke="#9a9a9a" stroke-width="0.4"/>
<path d="M194.7,367.4 L200.7,368.6 L207.7,374.6 L207.9,380.6 L194.7,380.6 Z" fill="#c6c6c6"/>
<path d="M240.3,371.6 L245.7,370.6 L248.7,374.6 L248.7,380.6 L240.3,380.6 Z" fill="#c6c6c6"/>
<path d="M194.7,353.8 L207.9,347.2 L227.7,345.0 L243.1,338.4 L247.5,334.0 L254.1,332.9" fill="none" stroke="#a8a8a8" stroke-width="0.45"/>
<path d="M194.7,355.8 L207.9,349.0 L227.7,346.8 L243.1,340.2 L248.2,335.6 L254.1,334.6" fill="none" stroke="#a8a8a8" stroke-width="0.45"/>
<path d="M245.3,336.2 L246.9,342.6 L246.2,351.6 L249.7,367.0" fill="none" stroke="#a8a8a8" stroke-width="0.45"/>
<path d="M281.6,292.1 L283.2,292.8 L285.3,294.3 L284.9,296.6 L286.0,300.1 L283.8,300.9" fill="none" stroke="#9a9a9a" stroke-width="0.45"/>
<path d="M288.9,289.9 L288.3,293.1 L288.9,296.5 L292.2,296.8 L296.2,297.2 L297.0,293.6 L295.5,290.6" fill="none" stroke="#9a9a9a" stroke-width="0.45"/>
<path d="M297.7,289.9 L298.4,293.1 L298.4,295.8 L300.7,296.1 L302.1,297.2 L302.8,300.1" fill="none" stroke="#9a9a9a" stroke-width="0.45"/>
<path d="M275.2,300.1 L273.7,303.6 L272.2,305.1 L271.2,309.1 L268.9,311.6 L268.2,316.1 L265.7,319.1 L265.3,323.6 L263.2,327.1 L262.5,331.6 L260.2,335.1 L259.2,340.6" fill="none" stroke="#9a9a9a" stroke-width="0.45"/>
<path d="M194.7,304.3 L216.7,295.5 L238.7,286.7 L254.1,280.1 L267.3,274.6" fill="none" stroke="#7a7a7a" stroke-opacity="0.45" stroke-width="0.4"/>
<path d="M196.7,344.6 L222.3,330.6 L236.7,322.6 L254.7,310.6 L282.7,296.6 L304.7,288.9" fill="none" stroke="#7a7a7a" stroke-opacity="0.45" stroke-width="0.4"/>
<path d="M194.7,361.4 L224.7,347.0 L254.7,333.6 L270.7,331.1 L305.7,329.4" fill="none" stroke="#7a7a7a" stroke-opacity="0.45" stroke-width="0.4"/>
<path d="M236.7,380.6 L247.0,379.0 L270.7,368.6 L305.7,359.0" fill="none" stroke="#7a7a7a" stroke-opacity="0.45" stroke-width="0.4"/>
<path d="M194.7,296.6 L223.3,329.6 L254.1,362.6 L267.3,379.6" fill="none" stroke="#7a7a7a" stroke-opacity="0.45" stroke-width="0.4"/>
<path d="M249.7,274.6 L260.7,307.6 L271.7,336.2 L282.7,362.6 L289.3,379.6" fill="none" stroke="#7a7a7a" stroke-opacity="0.45" stroke-width="0.4"/>
</g>
<path d="M266.9,291.4 L279.5,288.8 L281.3,303.4 L270.5,305.6 Z" fill="none" stroke="#222" stroke-width="1.1"/>
<clipPath id="rc9"><rect x="324.3" y="275" width="108.39999999999998" height="104"/></clipPath>
<g clip-path="url(#rc9)"><g >
<path fill="#0c3d73" stroke="#0c3d73" stroke-width="0.3" d="M336.3,286.4 338.3,285.7 339.9,287 340.3,288 340.6,289 340.3,289.9 338.3,292.9 336.3,291.2 335.3,289 335.7,287ZM325.5,313 324.3,314.5 324.3,312.3Z"/>
<path fill="#195797" stroke="#195797" stroke-width="0.3" d="M372.3,275 384.9,275 382.3,280.1 380.6,287 378.4,289 376.3,288 375.3,287 373.9,281 371.9,275ZM336.3,278.8 338.3,278.8 342.3,281.4 346.3,285.7 347.2,287 347.7,289 346.8,295 344.5,301 338.3,306.8 336.3,307.4 334.5,307 334.3,301 328.4,289 328.1,287 328.7,285 330.3,282.3 332.3,280.5 335.5,279ZM335.7,287 335.3,289 336.3,291.2 338.3,292.9 340.3,289.9 340.6,289 340.3,288 339.9,287 338.3,285.7 336.3,286.4ZM326.3,307.5 334.3,307.5 334.5,311 334,313 331.7,315 324.3,317.8 324.3,314.5 325.5,313 324.3,312.3 324.3,307.5Z"/>
<path fill="#276fb0" stroke="#276fb0" stroke-width="0.3" d="M326.3,275 345.1,275 350.3,279.8 352.3,281.2 354.3,281.5 356.3,281.5 358.2,281 358.2,275 371.9,275 373.9,281 375.3,287 376.3,288 378.2,289 380.6,287 382.3,280.1 384.9,275 394.1,275 392.3,277.7 388.3,282 384,289 381.6,291 378.3,292.6 372.5,291 369.5,289 366.3,283.9 364.3,281.9 362.3,281.5 358.3,281.5 358.1,287 355.8,295 354.2,303 351.9,307 348.3,310.5 344.3,313.5 328.3,319.3 324.3,320.4 324.3,317.8 331.7,315 334,313 334.5,311 334.3,307.5 324.3,307.5 324.3,303 327.1,301 326.6,299 324.3,295.2 324.3,275ZM335.5,279 332.3,280.5 330.3,282.3 328.7,285 328.1,287 328.4,289 334.3,301 334.5,307 336.3,307.4 338.3,306.8 344.5,301 346.8,295 347.7,289 347.2,287 346.3,285.7 342.3,281.4 338.3,278.8 336.3,278.8ZM376.3,312.9 378.3,312.8 378.3,313.3 375.9,313Z"/>
<path fill="#3884bb" stroke="#3884bb" stroke-width="0.3" d="M346.3,275 358.2,275 358.2,281 356.3,281.5 352.3,281.2 345.1,275ZM394.3,275 398.6,275 398.3,275.8 394.3,282.1 388.9,289 386.3,291.5 382.3,294.3 378.3,296 374.3,296 366.3,295.2 364.3,295.9 362.4,299 361.8,301 362.2,303 364.3,306.6 366.3,307.4 378.3,307.8 380.3,309.2 382.3,312 382.7,313 381.8,315 378.4,317 362.3,316.2 338.3,318.9 324.4,323 324.3,320.4 328.3,319.3 344.3,313.5 348.3,310.5 351.9,307 354.2,303 355.8,295 358.1,287 358.3,281.5 362.3,281.5 364.3,281.9 366.3,283.9 369.5,289 372.5,291 378.3,292.6 381.6,291 384,289 388.3,282 392.3,277.7 394.1,275ZM375.9,313 378.3,313.3 378.3,312.8 376.3,312.9ZM325.5,297 326.6,299 327.1,301 324.3,303 324.3,295.2Z"/>
<path fill="#4e9ac7" stroke="#4e9ac7" stroke-width="0.3" d="M398.3,275.8 398.6,275 403.2,275 399.3,283 394.4,289 390.3,293.1 386.3,296.1 382.3,298.1 373.6,301 381.5,305 384.9,309 386.4,313 385.4,315 382.8,317 378.3,319.3 364.3,320.6 352.3,323.3 338.3,322.3 324.3,325.7 324.3,323 338.3,318.9 362.3,316.2 376.3,317.1 378.4,317 380.3,316 381.8,315 382.7,313 381.8,311 380.3,309.2 378.3,307.8 366.3,307.4 364.3,306.6 362.2,303 361.8,301 362.4,299 364.3,295.9 366.3,295.2 374.3,296 378.3,296 382.3,294.3 386.3,291.5 388.9,289 394.3,282.1 397.7,277Z"/>
<path fill="#74b2d4" stroke="#74b2d4" stroke-width="0.3" d="M404.3,275 407.7,275 404.3,284.2 402.3,287.6 392.8,297 386.7,301 389.2,307 390,311 390,313 389,315 386.6,317 382.3,319.7 378.3,321.5 368.3,323.5 352.3,328.8 348.3,328.4 344.3,327 338.3,325.7 336.3,325.9 324.3,329.1 324.3,325.7 336.3,322.7 340.3,322.3 350.3,323.4 352.3,323.3 364.3,320.6 378.3,319.3 382.8,317 385.4,315 386.4,313 384.9,309 381.5,305 373.6,301 384.3,297.2 388.3,294.8 390.3,293.1 397.9,285 400.5,281 403.2,275Z"/>
<path fill="#98c8e0" stroke="#98c8e0" stroke-width="0.3" d="M408.3,275 412.2,275 407.5,287 406.3,289.8 404.3,292.4 395.7,301 394.6,305 393.7,313 392.6,315 388.3,318.6 384.4,321 380.3,323 373.4,325 368.8,327 364.3,330.4 358.3,332.2 350.3,333.5 324.3,333.5 324.3,329.1 336.3,325.9 338.3,325.7 344.3,327 348.3,328.4 352.3,328.8 368.3,323.5 378.3,321.5 384.3,318.5 389,315 390,313 390,311 389.2,307 386.7,301 392.8,297 402.3,287.6 404.3,284.2 407.7,275Z"/>
<path fill="#b6d7e8" stroke="#b6d7e8" stroke-width="0.3" d="M412.3,275 416.6,275 412.3,283.8 408.7,293 406.3,296.8 402.3,301 400.3,304 398.3,309 397.3,313 396.3,315 394.3,317.3 386.3,322.6 376,327 372.3,332.9 368.3,335.7 364.3,336.8 350.3,338.1 346.3,339.3 338.3,342.8 336.3,342.4 328.3,338.9 324.3,337.9 324.3,333.5 350.3,333.5 358.3,332.2 364.3,330.4 368.8,327 373.4,325 380.3,323 387.7,319 392.6,315 393.7,313 394.6,305 395.7,301 404.3,292.4 406.3,289.8 412.2,275ZM390.3,338.5 392.3,338.6 392.7,339 392.7,341 392.3,341.4 390.3,341.5 388.6,341 388.4,339Z"/>
<path fill="#d3e6f0" stroke="#d3e6f0" stroke-width="0.3" d="M416.3,275.7 416.6,275 419.8,275 418.3,279.5 414.5,287 411.4,297 409,301 403.7,307 399,317 396.3,319.9 394.3,321.2 383,327 382.9,329 384.8,331 388.3,332.7 392.3,333.7 394.6,335 396.8,337 398,339 398,341 396.8,343 394.6,345 392.3,346.2 386.3,347.2 382.3,348.4 378.3,350.8 375.6,347 374.3,345.8 370.3,343.8 366.3,342.8 364.3,342.7 354.3,343.1 350.3,343.8 338.3,349.3 336.3,348.9 324.3,343.4 324.3,337.9 328.3,338.9 336.3,342.4 338.3,342.8 346.3,339.3 350.3,338.1 364.3,336.8 366.3,336.4 369.7,335 372.3,332.9 376,327 386.3,322.6 394.3,317.3 396.3,315 397.3,313 398.3,309 400.3,304 402.3,301 406.3,296.8 408.7,293 412.3,283.8 415.7,277ZM388.4,339 388.6,341 390.3,341.5 392.3,341.4 392.7,341 392.7,339 392.3,338.6 390.3,338.5Z"/>
<path fill="#e5eef4" stroke="#e5eef4" stroke-width="0.3" d="M420.3,275 422,275 421.6,279 420.3,283.5 418.2,287 417.6,289 416.3,298.6 414.3,305 412.3,307.6 406.2,311 404.3,313.9 402.3,320.3 400.1,323 398.3,324 392.3,325.7 389.9,327 392.1,329 398.3,331 400.7,333 402.3,335.9 403.1,339 403.1,341 401.9,345 400.3,347.5 398.3,349 390.3,351.6 388,353 385.5,357 382.3,360 380.3,360.9 378.3,361.1 376.3,359.6 374.3,357.2 370.3,351.4 366.3,348.6 364.3,348 362.3,348.1 352.3,349.6 348.8,351 340.3,355.9 338.3,356.4 334.3,355 324.3,349.9 324.3,343.4 336.3,348.9 338.3,349.3 350.3,343.8 352.3,343.3 366.3,342.8 370.3,343.8 373.1,345 375.6,347 378.3,350.8 382.3,348.4 386.3,347.2 392.3,346.2 394.6,345 396.8,343 398,341 398,339 396.8,337 394.6,335 392.3,333.7 388.3,332.7 384.8,331 382.9,329 383,327 394.3,321.2 398.3,318 400.1,315 402.5,309 403.7,307 409,301 411.4,297 414.5,287 418.3,279.5 419.8,275Z"/>
<path fill="#f7f7f7" stroke="#f7f7f7" stroke-width="0.3" d="M422.3,275 424,275 424.8,281 426.3,284.2 428.3,285.7 430.3,286.4 434.3,286.9 434.3,379 324.3,379 324.3,372.5 336.3,370.6 339.6,369 341.1,367 339.7,365 330.3,362.2 324.3,359.7 324.3,349.9 334.3,355 338.3,356.4 340.3,355.9 348.8,351 352.3,349.6 364.3,348 367.1,349 369.9,351 374.3,357.2 376.3,359.6 378.3,361.1 380.3,360.9 383.7,359 385.5,357 388.3,352.8 390.3,351.6 398.3,349 400.3,347.5 402.3,344.1 403.1,341 403.1,339 401.9,335 400.3,332.5 398.3,331 392.3,329.1 389.9,327 392.3,325.7 398.3,324 400.1,323 402.3,320.3 404.3,313.9 406.2,311 412.3,307.6 414.3,305 416.3,298.6 417.6,289 418.2,287 420.3,283.5 421.2,281 422,275ZM364,355 362.3,356.2 360.7,359 358.6,365 358.9,367 360.2,369 362.3,370.9 364.3,371.9 366.3,371.6 368.3,370.4 369.7,369 370.9,367 370.5,365 364.3,354.9Z"/>
<path fill="#faeae0" stroke="#faeae0" stroke-width="0.3" d="M424.3,275 426,275 427.2,279 428.4,281 430.3,282.8 432.3,283.8 434.3,284.1 434.3,286.9 430.3,286.4 428.3,285.7 426.3,284.2 424.8,281 424,275ZM364.3,354.9 370.5,365 370.9,367 369.7,369 368.3,370.4 366.3,371.6 364.3,371.9 362.3,370.9 360.2,369 358.9,367 358.6,365 360.7,359 362.3,356.2 364,355ZM326.3,360.6 330.3,362.2 339.7,365 341.1,367 339.6,369 336.3,370.6 324.3,372.5 324.3,359.7Z"/>
<path fill="#fddcc9" stroke="#fddcc9" stroke-width="0.3" d="M426.3,275 428,275 428.7,277 430.3,279.4 432.3,281 434.3,281.5 434.3,284.1 432.3,283.8 430.6,283 428.4,281 427.2,279 426,275Z"/>
<path fill="#f9c4a9" stroke="#f9c4a9" stroke-width="0.3" d="M428.3,275 430,275 432.3,278.2 434.3,278.8 434.3,281.5 432.3,281 430.3,279.4 428.7,277 428,275Z"/>
<path fill="#f5aa89" stroke="#f5aa89" stroke-width="0.3" d="M430.3,275 432.2,275 434.3,276 434.3,278.8 432.3,278.2 430,275Z"/>
<path fill="#e98b6e" stroke="#e98b6e" stroke-width="0.3" d="M432.3,275 434.3,275 434.3,276 432.2,275Z"/>
</g>
<path d="M434.0,285.1 L428.0,287.8 L419.6,289.0 L410.0,289.6 L405.2,296.2 L401.6,302.2 L398.0,307.0 L393.2,311.8 L390.8,316.6 L388.4,322.6 L384.8,327.4 L384.5,331.6 L386.4,335.6 L384.5,340.6 L383.0,348.6 L383.0,356.6 L379.0,364.1 L375.6,367.4 L369.6,371.0 L362.4,371.6 L350.4,374.6 L338.4,377.0 L330.0,370.6 L324.0,366.2 L324.0,380.6 L434.0,380.6 Z" fill="#e4e4e4" stroke="#9a9a9a" stroke-width="0.4"/>
<path d="M434.0,302.1 L422.0,303.8 L413.0,308.4 L404.0,314.6 L397.5,322.2 L396.0,329.6 L394.8,336.0 L389.2,343.0 L385.0,350.0 L383.6,357.0 L383.6,362.6 L386.4,365.4 L392.0,366.8 L394.8,364.0 L396.2,368.2 L397.6,373.8 L396.2,380.6 L434.0,380.6 Z" fill="#c6c6c6" stroke="#9a9a9a" stroke-width="0.4"/>
<path d="M324.0,367.4 L330.0,368.6 L337.0,374.6 L337.2,380.6 L324.0,380.6 Z" fill="#c6c6c6"/>
<path d="M369.6,371.6 L375.0,370.6 L378.0,374.6 L378.0,380.6 L369.6,380.6 Z" fill="#c6c6c6"/>
<path d="M324.0,353.8 L337.2,347.2 L357.0,345.0 L372.4,338.4 L376.8,334.0 L383.4,332.9" fill="none" stroke="#a8a8a8" stroke-width="0.45"/>
<path d="M324.0,355.8 L337.2,349.0 L357.0,346.8 L372.4,340.2 L377.5,335.6 L383.4,334.6" fill="none" stroke="#a8a8a8" stroke-width="0.45"/>
<path d="M374.6,336.2 L376.2,342.6 L375.5,351.6 L379.0,367.0" fill="none" stroke="#a8a8a8" stroke-width="0.45"/>
<path d="M410.9,292.1 L412.5,292.8 L414.6,294.3 L414.2,296.6 L415.3,300.1 L413.1,300.9" fill="none" stroke="#9a9a9a" stroke-width="0.45"/>
<path d="M418.2,289.9 L417.6,293.1 L418.2,296.5 L421.5,296.8 L425.5,297.2 L426.3,293.6 L424.8,290.6" fill="none" stroke="#9a9a9a" stroke-width="0.45"/>
<path d="M427.0,289.9 L427.7,293.1 L427.7,295.8 L430.0,296.1 L431.4,297.2 L432.1,300.1" fill="none" stroke="#9a9a9a" stroke-width="0.45"/>
<path d="M404.5,300.1 L403.0,303.6 L401.5,305.1 L400.5,309.1 L398.2,311.6 L397.5,316.1 L395.0,319.1 L394.6,323.6 L392.5,327.1 L391.8,331.6 L389.5,335.1 L388.5,340.6" fill="none" stroke="#9a9a9a" stroke-width="0.45"/>
<path d="M324.0,304.3 L346.0,295.5 L368.0,286.7 L383.4,280.1 L396.6,274.6" fill="none" stroke="#7a7a7a" stroke-opacity="0.45" stroke-width="0.4"/>
<path d="M326.0,344.6 L351.6,330.6 L366.0,322.6 L384.0,310.6 L412.0,296.6 L434.0,288.9" fill="none" stroke="#7a7a7a" stroke-opacity="0.45" stroke-width="0.4"/>
<path d="M324.0,361.4 L354.0,347.0 L384.0,333.6 L400.0,331.1 L435.0,329.4" fill="none" stroke="#7a7a7a" stroke-opacity="0.45" stroke-width="0.4"/>
<path d="M366.0,380.6 L376.3,379.0 L400.0,368.6 L435.0,359.0" fill="none" stroke="#7a7a7a" stroke-opacity="0.45" stroke-width="0.4"/>
<path d="M324.0,296.6 L352.6,329.6 L383.4,362.6 L396.6,379.6" fill="none" stroke="#7a7a7a" stroke-opacity="0.45" stroke-width="0.4"/>
<path d="M379.0,274.6 L390.0,307.6 L401.0,336.2 L412.0,362.6 L418.6,379.6" fill="none" stroke="#7a7a7a" stroke-opacity="0.45" stroke-width="0.4"/>
</g>
<path d="M396.2,291.4 L408.8,288.8 L410.6,303.4 L399.8,305.6 Z" fill="none" stroke="#222" stroke-width="1.1"/>
<clipPath id="rc10"><rect x="67.4" y="384.3" width="108.19999999999999" height="104.09999999999997"/></clipPath>
<g clip-path="url(#rc10)"><g >
<path fill="#689fca" stroke="#689fca" stroke-width="0.3" d="M119.4,474.2 121.4,473.2 123.4,473.2 129.4,474.3 133.7,476.3 134.2,478.3 134.2,490.3 117,490.3 117,478.3 117.3,476.3 119.2,474.3Z"/>
<path fill="#82b8d7" stroke="#82b8d7" stroke-width="0.3" d="M121.4,467.9 123.4,467.7 133.4,468.7 135.4,469.5 140.5,474.3 141.6,476.3 141.8,478.3 141.8,490.3 134.2,490.3 134.2,478.3 133.7,476.3 129.4,474.3 123.4,473.2 121.4,473.2 119.2,474.3 117.3,476.3 117,478.3 117,490.3 108.4,490.3 108.9,476.3 110.6,474.3 120.7,468.3Z"/>
<path fill="#9dcee3" stroke="#9dcee3" stroke-width="0.3" d="M119.4,464 121.4,463 123.4,462.7 131.4,462.7 135.4,463.2 136.9,464.3 153.4,480.3 153.4,490.3 141.8,490.3 141.8,478.3 141.6,476.3 140.5,474.3 135.4,469.5 133.4,468.7 123.4,467.7 121.4,467.9 119.4,469 110.6,474.3 109.4,475.5 108.9,476.3 108.6,478.3 108.4,490.3 103.5,490.3 104.7,478.3 105.8,474.3 107.4,472 109.4,470.3 118.9,464.3Z"/>
<path fill="#b8e0ed" stroke="#b8e0ed" stroke-width="0.3" d="M121.4,459.9 133.4,459.2 135.4,459.4 141.4,462.2 147.4,467.6 149.4,468.7 177.4,468.9 177.4,490.3 153.4,490.3 153.4,480.3 137.4,464.7 135.4,463.2 131.4,462.7 121.4,463 109.4,470.3 107.4,472 105.8,474.3 105,476.3 103.5,490.3 99,490.3 99.1,488.3 101.9,476.3 102.6,474.3 105.1,470.3 107.4,467.5 109.4,465.9 115.4,462.2 120.2,460.3Z"/>
<path fill="#d3ecf4" stroke="#d3ecf4" stroke-width="0.3" d="M131.4,456.3 135.4,456.1 139.4,457.1 143.4,458.8 149.4,462.2 177.4,462.4 177.4,468.9 149.4,468.7 147.4,467.6 141.4,462.2 135.4,459.4 133.4,459.2 121.4,459.9 115.4,462.2 111.4,464.6 107.4,467.5 105.1,470.3 102.6,474.3 101.9,476.3 99.1,488.3 99,490.3 94.5,490.3 94.7,488.3 99.5,474.3 101.4,470.7 105.4,465.1 108.6,462.3 119.4,457.9 123.4,457 131.2,456.3Z"/>
<path fill="#e8f6ea" stroke="#e8f6ea" stroke-width="0.3" d="M125.4,454.1 135.4,452.7 141.4,453.6 149.4,455.8 177.4,455.9 177.4,462.4 149.4,462.2 142.4,458.3 135.4,456.1 123.4,457 119.4,457.9 108.6,462.3 104.4,466.3 101.4,470.7 99.5,474.3 94.7,488.3 94.5,490.3 90,490.3 90.1,488.3 93.4,481.5 97.2,472.3 101.9,464.3 103.7,462.3 107.4,459.8 116.4,456.3 123.8,454.3Z"/>
<path fill="#f7fccd" stroke="#f7fccd" stroke-width="0.3" d="M131.4,450.1 137.4,449.2 147.4,449.6 177.4,449.6 177.4,455.9 149.4,455.8 141.4,453.6 135.4,452.7 121.4,454.7 111.4,458.1 107.4,459.8 103.7,462.3 100.5,466.3 97.2,472.3 93.4,481.5 90.9,486.3 90.1,488.3 90,490.3 85.4,490.3 85.6,488.3 90.1,478.3 97.4,464.8 99.4,462.1 104.6,458.3 111.4,455.3 121.4,452 130.6,450.3Z"/>
<path fill="#fff7b3" stroke="#fff7b3" stroke-width="0.3" d="M133.4,445.7 137.4,445 177.4,445 177.4,449.6 135.4,449.3 121.4,452 107.4,456.9 101.5,460.3 99.2,462.3 97.7,464.3 88.1,482.3 85.6,488.3 85.4,490.3 80.2,490.3 80.5,488.3 88.6,470.3 91.4,465.8 94.2,462.3 98.9,458.3 105.4,454.7 117.4,450.5 131.8,446.3Z"/>
<path fill="#fee89c" stroke="#fee89c" stroke-width="0.3" d="M133.4,441.6 135.4,440.8 137.4,440.7 177.4,440.7 177.4,445 135.4,445.1 113.4,451.8 103.4,455.6 98.9,458.3 94.2,462.3 89.7,468.3 80.5,488.3 80.2,490.3 67.4,490.3 67.5,488.3 79.4,476.7 81.4,472.6 83.5,466.3 85.8,462.3 89.4,459.7 101.4,453 126.9,444.3 131.8,442.3Z"/>
<path fill="#fed484" stroke="#fed484" stroke-width="0.3" d="M141.4,436.3 177.4,436.2 177.4,440.7 135.4,440.8 126.9,444.3 101.4,453 89.4,459.7 85.8,462.3 83.5,466.3 81.4,472.6 79.4,476.7 67.5,488.3 67.4,488.8 67.4,474.5 74.4,462.3 76.7,460.3 85.4,455.3 99.4,449.7 123,442.3 135.4,436.5 140.3,436.3Z"/>
<path fill="#fdba6d" stroke="#fdba6d" stroke-width="0.3" d="M75.4,384.3 107.1,384.3 99.4,390.3 95.4,395.3 93.4,397 91.4,397.3 83.4,397.3 81.4,397.1 80.3,396.3 79.4,395.6 77.2,392.3 75.4,388.3 74.3,384.3ZM147.4,430.1 151.4,429.8 177.4,429.8 177.4,436.2 135.4,436.5 123,442.3 99.4,449.7 87.6,454.3 83.5,456.3 76.7,460.3 74.4,462.3 67.4,474.5 67.4,449.3 81.4,448.4 85.4,446.7 89.4,445.7 109.4,442.4 123.4,438.8 135.4,432.1 146.6,430.3Z"/>
<path fill="#fb9e5a" stroke="#fb9e5a" stroke-width="0.3" d="M69.4,384.3 74.3,384.3 76.2,390.3 78.4,394.3 79.4,395.6 81.4,397.1 83.4,397.3 93.4,397 95.4,395.3 99.4,390.3 107.1,384.3 120.9,384.3 119.4,386.3 105.2,400.3 102.2,404.3 99.9,408.3 93.9,424.3 94.3,434.3 95.5,436.3 99.4,437.4 107.4,438.4 120,436.3 121.4,435.9 127.4,431.7 133.4,428.4 147.4,424 149.4,423.5 171.9,422.3 177.4,420.3 177.4,429.8 151.4,429.8 137.4,431.7 133.4,433 128.2,436.3 121.4,439.5 107.4,442.8 89.4,445.7 85.4,446.7 81.4,448.4 67.4,449.3 67.4,384.3Z"/>
<path fill="#f67d4a" stroke="#f67d4a" stroke-width="0.3" d="M121.4,384.3 128.1,384.3 121.4,396.9 112.9,404.3 108.1,410.3 104,422.3 104.1,424.3 105.1,426.3 107.4,429 109.4,429.8 121.4,429.6 131.4,424.5 143.4,419.8 155.4,415.9 157.4,414.8 160.5,412.3 174.6,398.3 175.4,397 176.9,396.3 177.4,394.8 177.4,420.3 171.9,422.3 149.4,423.5 147.4,424 133.4,428.4 127.4,431.7 121.4,435.9 107.4,438.4 99.4,437.4 95.4,436.2 94.3,434.3 93.9,424.3 99,410.3 102.2,404.3 107,398.3 119.4,386.3 120.9,384.3Z"/>
<path fill="#ed5e3c" stroke="#ed5e3c" stroke-width="0.3" d="M127.4,385.9 128.1,384.3 134.9,384.3 126.9,400.3 123.7,404.3 119.4,407.9 117.4,410.3 117.4,413.3 118.6,418.3 119.4,420.4 121.4,421.9 127.4,418.4 135.4,416.6 147.4,413.2 149.4,412.5 152.9,410.3 157.4,405 161.4,398.8 165.6,394.3 167.4,391.7 169,388.3 170.1,384.3 177.4,384.3 177.4,394.8 176.9,396.3 175.4,397 174.6,398.3 160.5,412.3 157.4,414.8 155.4,415.9 143.4,419.8 131.4,424.5 121.4,429.6 109.4,429.8 107.4,429 106.7,428.3 105.4,426.8 104.1,424.3 104,422.3 104.5,420.3 108.1,410.3 112.9,404.3 121.4,396.9 127.2,386.3Z"/>
<path fill="#de3f2e" stroke="#de3f2e" stroke-width="0.3" d="M135.4,384.3 141.7,384.3 139.8,390.3 135.5,398.3 135.4,400.3 136,404.3 137.4,406 147.4,405.8 149.4,404.8 153.3,400.3 157.4,393.2 163.4,386.6 164.6,384.3 170.1,384.3 169,388.3 167.4,391.7 165.6,394.3 161.4,398.8 155.4,407.6 151.4,411.4 147.4,413.2 135.4,416.6 127.4,418.4 121.4,421.9 119.4,420.4 118.6,418.3 117.4,413.3 117.4,410.3 119.4,407.9 123.7,404.3 126.9,400.3 134.9,384.3Z"/>
<path fill="#ca2427" stroke="#ca2427" stroke-width="0.3" d="M141.4,385.6 141.7,384.3 164.6,384.3 163.4,386.6 157.4,393.2 154.6,398.3 151.4,402.7 149.4,404.8 147.4,405.8 145.4,406 137.4,406 136,404.3 135.4,400.3 135.5,398.3 139.8,390.3 141.2,386.3Z"/>
</g>
<path d="M177.1,394.4 L171.1,397.1 L162.7,398.3 L153.1,398.9 L148.3,405.5 L144.7,411.5 L141.1,416.3 L136.3,421.1 L133.9,425.9 L131.5,431.9 L127.9,436.7 L127.6,440.9 L129.5,444.9 L127.6,449.9 L126.1,457.9 L126.1,465.9 L122.1,473.4 L118.7,476.7 L112.7,480.3 L105.5,480.9 L93.5,483.9 L81.5,486.3 L73.1,479.9 L67.1,475.5 L67.1,489.9 L177.1,489.9 Z" fill="#ffffff" stroke="#ffffff" stroke-width="2.6"/>
<path d="M177.1,394.4 L171.1,397.1 L162.7,398.3 L153.1,398.9 L148.3,405.5 L144.7,411.5 L141.1,416.3 L136.3,421.1 L133.9,425.9 L131.5,431.9 L127.9,436.7 L127.6,440.9 L129.5,444.9 L127.6,449.9 L126.1,457.9 L126.1,465.9 L122.1,473.4 L118.7,476.7 L112.7,480.3 L105.5,480.9 L93.5,483.9 L81.5,486.3 L73.1,479.9 L67.1,475.5 L67.1,489.9 L177.1,489.9 Z" fill="#e4e4e4" stroke="#9a9a9a" stroke-width="0.4"/>
<path d="M177.1,411.4 L165.1,413.1 L156.1,417.7 L147.1,423.9 L140.6,431.5 L139.1,438.9 L137.9,445.3 L132.3,452.3 L128.1,459.3 L126.7,466.3 L126.7,471.9 L129.5,474.7 L135.1,476.1 L137.9,473.3 L139.3,477.5 L140.7,483.1 L139.3,489.9 L177.1,489.9 Z" fill="#c6c6c6" stroke="#9a9a9a" stroke-width="0.4"/>
<path d="M67.1,476.7 L73.1,477.9 L80.1,483.9 L80.3,489.9 L67.1,489.9 Z" fill="#c6c6c6"/>
<path d="M112.7,480.9 L118.1,479.9 L121.1,483.9 L121.1,489.9 L112.7,489.9 Z" fill="#c6c6c6"/>
<path d="M67.1,463.1 L80.3,456.5 L100.1,454.3 L115.5,447.7 L119.9,443.3 L126.5,442.2" fill="none" stroke="#a8a8a8" stroke-width="0.45"/>
<path d="M67.1,465.1 L80.3,458.3 L100.1,456.1 L115.5,449.5 L120.6,444.9 L126.5,443.9" fill="none" stroke="#a8a8a8" stroke-width="0.45"/>
<path d="M117.7,445.5 L119.3,451.9 L118.6,460.9 L122.1,476.3" fill="none" stroke="#a8a8a8" stroke-width="0.45"/>
<path d="M154.0,401.4 L155.6,402.1 L157.7,403.6 L157.3,405.9 L158.4,409.4 L156.2,410.2" fill="none" stroke="#9a9a9a" stroke-width="0.45"/>
<path d="M161.3,399.2 L160.7,402.4 L161.3,405.8 L164.6,406.1 L168.6,406.5 L169.4,402.9 L167.9,399.9" fill="none" stroke="#9a9a9a" stroke-width="0.45"/>
<path d="M170.1,399.2 L170.8,402.4 L170.8,405.1 L173.1,405.4 L174.5,406.5 L175.2,409.4" fill="none" stroke="#9a9a9a" stroke-width="0.45"/>
<path d="M147.6,409.4 L146.1,412.9 L144.6,414.4 L143.6,418.4 L141.3,420.9 L140.6,425.4 L138.1,428.4 L137.7,432.9 L135.6,436.4 L134.9,440.9 L132.6,444.4 L131.6,449.9" fill="none" stroke="#9a9a9a" stroke-width="0.45"/>
<path d="M67.1,413.6 L89.1,404.8 L111.1,396.0 L126.5,389.4 L139.7,383.9" fill="none" stroke="#7a7a7a" stroke-opacity="0.45" stroke-width="0.4"/>
<path d="M69.1,453.9 L94.7,439.9 L109.1,431.9 L127.1,419.9 L155.1,405.9 L177.1,398.2" fill="none" stroke="#7a7a7a" stroke-opacity="0.45" stroke-width="0.4"/>
<path d="M67.1,470.7 L97.1,456.3 L127.1,442.9 L143.1,440.4 L178.1,438.7" fill="none" stroke="#7a7a7a" stroke-opacity="0.45" stroke-width="0.4"/>
<path d="M109.1,489.9 L119.4,488.3 L143.1,477.9 L178.1,468.3" fill="none" stroke="#7a7a7a" stroke-opacity="0.45" stroke-width="0.4"/>
<path d="M67.1,405.9 L95.7,438.9 L126.5,471.9 L139.7,488.9" fill="none" stroke="#7a7a7a" stroke-opacity="0.45" stroke-width="0.4"/>
<path d="M122.1,383.9 L133.1,416.9 L144.1,445.5 L155.1,471.9 L161.7,488.9" fill="none" stroke="#7a7a7a" stroke-opacity="0.45" stroke-width="0.4"/>
<path d="M70.0,398.7L68.8,403.5M68.4,402.1L68.8,403.5L69.8,402.5M70.0,415.3L68.8,420.1M68.4,418.7L68.8,420.1L69.8,419.1M70.0,431.9L68.8,436.7M68.4,435.3L68.8,436.7L69.8,435.7M70.0,448.5L68.8,453.3M68.4,451.9L68.8,453.3L69.8,452.3M70.0,465.1L68.8,469.9M68.4,468.5L68.8,469.9L69.8,468.9M86.4,387.4L82.6,384.2M84.1,384.5L82.6,384.2L83.1,385.6M86.4,404.0L82.6,400.8M84.1,401.1L82.6,400.8L83.1,402.2M86.4,420.6L82.6,417.4M84.1,417.7L82.6,417.4L83.1,418.8M86.4,437.2L82.6,434.0M84.1,434.3L82.6,434.0L83.1,435.4M86.4,453.8L82.6,450.6M84.1,450.9L82.6,450.6L83.1,452.0M86.4,470.4L82.6,467.2M84.1,467.5L82.6,467.2L83.1,468.6M86.4,487.0L82.6,483.8M84.1,484.1L82.6,483.8L83.1,485.2M102.1,387.3L97.1,386.9M98.5,386.2L97.1,386.9L98.3,387.7M102.1,403.9L97.1,403.5M98.5,402.8L97.1,403.5L98.3,404.3M102.1,420.5L97.1,420.1M98.5,419.4L97.1,420.1L98.3,420.9M102.1,437.1L97.1,436.7M98.5,436.0L97.1,436.7L98.3,437.5M102.1,453.7L97.1,453.3M98.5,452.6L97.1,453.3L98.3,454.1M102.1,470.3L97.1,469.9M98.5,469.2L97.1,469.9L98.3,470.7M118.0,387.2L111.4,389.6M112.4,388.4L111.4,389.6L112.9,389.9M118.0,403.8L111.4,406.2M112.4,405.0L111.4,406.2L112.9,406.5M118.0,420.4L111.4,422.8M112.4,421.6L111.4,422.8L112.9,423.1M118.0,437.0L111.4,439.4M112.4,438.2L111.4,439.4L112.9,439.7M118.0,453.6L111.4,456.0M112.4,454.8L111.4,456.0L112.9,456.3M118.0,470.2L111.4,472.6M112.4,471.4L111.4,472.6L112.9,472.9M133.4,387.9L126.2,391.5M127.1,390.3L126.2,391.5L127.7,391.6M133.4,404.5L126.2,408.1M127.1,406.9L126.2,408.1L127.7,408.2M133.4,421.1L126.2,424.7M127.1,423.5L126.2,424.7L127.7,424.8M148.8,388.8L141.0,393.2M141.8,392.0L141.0,393.2L142.5,393.2M148.8,405.4L141.0,409.9M141.8,408.6L141.0,409.9L142.5,409.8M163.6,390.5L156.4,394.1M157.3,392.9L156.4,394.1L157.9,394.2" fill="none" stroke="#111111" stroke-width="0.85"/>
</g>
<line x1="166.7" y1="435.8" x2="171.4" y2="435.8" stroke="#222" stroke-width="0.9"/>
<text x="150.9" y="443.90000000000003" font-size="6" fill="#222" textLength="21.5" lengthAdjust="spacingAndGlyphs">10 cm s<tspan dy="-2.4" font-size="4.4">−1</tspan></text>
<path d="M139.3,400.7 L151.9,398.1 L153.7,412.7 L142.9,414.9 Z" fill="none" stroke="#222" stroke-width="1.1"/>
<clipPath id="rc11"><rect x="195" y="384.3" width="108.5" height="104.09999999999997"/></clipPath>
<g clip-path="url(#rc11)"><g >
<path fill="#689fca" stroke="#689fca" stroke-width="0.3" d="M249,469.7 251,469.8 257,472.6 260.2,474.3 262.1,476.3 262.4,478.3 262,490.3 242.5,490.3 242.7,476.3 244,474.3 248.3,470.3Z"/>
<path fill="#82b8d7" stroke="#82b8d7" stroke-width="0.3" d="M249,463.5 251,463.5 253,464.2 261,468 263,469.2 268.3,474.3 269.4,476.3 269.6,478.3 269.6,490.3 262,490.3 262.4,478.3 262.1,476.3 260.2,474.3 257,472.6 251,469.8 249,469.7 244,474.3 242.7,476.3 242.5,490.3 233.5,490.3 235,480.3 236.1,476.3 237.6,474.3 243,469.7 248.1,464.3Z"/>
<path fill="#9dcee3" stroke="#9dcee3" stroke-width="0.3" d="M249,459.5 253,459.6 257,460.4 262.3,462.3 275.3,474.3 281,480.3 281,490.3 269.6,490.3 269.6,478.3 269.4,476.3 268.3,474.3 263,469.2 255,465.1 251,463.5 249,463.5 243,469.7 237.6,474.3 236.1,476.3 235,480.3 233.5,490.3 228.9,490.3 229,488.3 231.2,478.3 232.8,474.3 245,462.3 247.7,460.3Z"/>
<path fill="#b8e0ed" stroke="#b8e0ed" stroke-width="0.3" d="M249,456.2 251,455.9 263,456.2 267,459.4 275,467.5 277,468.7 305,468.9 305,490.3 281,490.3 281,480.3 279.4,478.3 279,478.3 275.3,474.3 263,462.7 257,460.4 251,459.4 249,459.5 247,460.7 234.5,472.3 232.8,474.3 231.8,476.3 229.4,486.3 228.9,490.3 224.4,490.3 224.5,488.3 227.2,478.3 228.8,474.3 233,469.3 240.4,462.3 248.9,456.3Z"/>
<path fill="#d3ecf4" stroke="#d3ecf4" stroke-width="0.3" d="M261,450.2 263,449.9 265,450.6 267.8,452.3 271,455 277,461.7 279,462.1 305,462.1 305,468.9 277,468.7 275,467.5 267,459.4 263,456.2 261,455.9 249,456.2 240.4,462.3 233,469.3 228.8,474.3 227.2,478.3 224.5,488.3 224.4,490.3 218.7,490.3 219,488.2 224.8,474.3 229.4,468.3 233.4,464.3 241,458.2 249,452.9 260.8,450.3Z"/>
<path fill="#e8f6ea" stroke="#e8f6ea" stroke-width="0.3" d="M261,445.7 263,445.2 265,445.5 271,447.2 277,449.7 305,449.8 305,462.1 279,462.1 277,461.7 269,453.2 265,450.6 263,449.9 249,452.9 241,458.2 235.7,462.3 231.3,466.3 227.7,470.3 224.8,474.3 223.8,476.3 219,488.2 218.7,490.3 212,490.3 212.2,488.3 213,486.4 218.3,476.3 229,463.6 239,456.1 247.7,450.3 259.3,446.3Z"/>
<path fill="#f7fccd" stroke="#f7fccd" stroke-width="0.3" d="M259,442.2 263,440.9 265,440.9 277,442.8 305,442.9 305,449.8 277,449.7 271,447.2 263,445.2 249,449.6 243,453.3 233.1,460.3 230.4,462.3 227,465.7 218.3,476.3 213,486.4 212.2,488.3 212,490.3 201.8,490.3 202.2,488.3 209,480.8 212.9,474.3 227.3,460.3 249,445.9 258.8,442.3Z"/>
<path fill="#fff7b3" stroke="#fff7b3" stroke-width="0.3" d="M265,436.3 305,436.4 305,442.9 279,442.9 263,440.9 249,445.9 230.1,458.3 225,462.3 212.9,474.3 209,480.8 202.2,488.3 201.8,490.3 195,490.3 195,481.6 201,476.2 209,470.4 215,464.5 217.8,462.3 229,454.7 236.9,450.3 245.1,444.3 249,442.1 261,437.2 263,436.4 264.9,436.3Z"/>
<path fill="#fee89c" stroke="#fee89c" stroke-width="0.3" d="M273,430.2 279,429.8 305,429.8 305,436.4 263,436.4 249,442.1 243,445.7 236.9,450.3 229,454.7 217.8,462.3 215,464.5 209,470.4 203,474.5 195,481.6 195,468.6 201,465.3 209,461.8 213.9,458.3 223,453.9 235,447 245,440.3 253.6,436.3 261,432.1 263,431.3 272.3,430.3Z"/>
<path fill="#fed484" stroke="#fed484" stroke-width="0.3" d="M273,424.1 277,423.4 283,423.1 305,422.9 305,429.8 279,429.8 263,431.3 253,436.6 245,440.3 235,447 223,453.9 213.9,458.3 209,461.8 201,465.3 195,468.6 195,455.8 209,453.4 213,451.7 221,449.2 223,448.3 229,444.4 237,440.6 253.8,430.3 259,427.6 263,426 272,424.3Z"/>
<path fill="#fdba6d" stroke="#fdba6d" stroke-width="0.3" d="M289,411.5 291,410.7 305,410.3 305,422.9 289,422.9 277,423.4 263,426 253.8,430.3 244.4,436.3 235,441.7 229,444.4 223,448.3 209,453.4 207,453.8 195,455.8 195,442.9 209,442.7 223,440.2 227.8,438.3 234.5,436.3 243,429.5 261,420.9 263,420.1 281,415.5 287.6,412.3Z"/>
<path fill="#fb9e5a" stroke="#fb9e5a" stroke-width="0.3" d="M305,395.3 305,410.3 291,410.7 281,415.5 263,420.1 243,429.5 234.5,436.3 227.8,438.3 223,440.2 209,442.7 195,442.9 195,424 203,428.2 209,429.8 221,429.8 223,429.3 239,421.9 249,419 261,414.1 277,410 289,404.3 299,400.6 304.7,396.3Z"/>
<path fill="#f67d4a" stroke="#f67d4a" stroke-width="0.3" d="M291,384.3 305,384.3 305,395.3 304.7,396.3 299.5,400.3 295.1,402.3 289,404.3 277,410 261,414.1 257,415.5 249,419 239,421.9 225,428.5 221,429.8 209,429.8 207,429.4 201,427.3 195,424 195,410.5 209,416.7 221,416.8 225,415.5 231,412.6 235.5,410.3 237,409 245,409.7 249,409.6 253,408.3 263,407 274.3,404.3 277,403.5 287,398.6 289.6,396.3 289.9,384.3Z"/>
<path fill="#ed5e3c" stroke="#ed5e3c" stroke-width="0.3" d="M221,385.2 221.8,384.3 289.9,384.3 289.6,396.3 287,398.6 277,403.5 274.3,404.3 263,407 253,408.3 249,409.6 245,409.7 237,409 235.5,410.3 223,416.3 221,416.8 209,416.7 195,410.5 195,396.9 207,397.2 209,396.6 220,386.3ZM260.3,392.3 258.1,394.3 257,396.4 257.9,398.3 261,399.9 263.3,400.3 267,399.5 271.4,398.3 275.2,396.3 275.5,394.3 275,391.8 273,390.8 265,390.8 263,391 261,391.8Z"/>
<path fill="#de3f2e" stroke="#de3f2e" stroke-width="0.3" d="M197,384.3 221.8,384.3 211,395 209,396.6 207,397.2 195,396.9 195,384.3ZM261,391.8 263,391 265,390.8 273,390.8 275,391.8 275.5,394.3 275.2,396.3 271.4,398.3 267,399.5 263.3,400.3 261,399.9 257.9,398.3 257,396.4 258.1,394.3 260.3,392.3Z"/>
</g>
<path d="M304.7,394.4 L298.7,397.1 L290.3,398.3 L280.7,398.9 L275.9,405.5 L272.3,411.5 L268.7,416.3 L263.9,421.1 L261.5,425.9 L259.1,431.9 L255.5,436.7 L255.2,440.9 L257.1,444.9 L255.2,449.9 L253.7,457.9 L253.7,465.9 L249.7,473.4 L246.3,476.7 L240.3,480.3 L233.1,480.9 L221.1,483.9 L209.1,486.3 L200.7,479.9 L194.7,475.5 L194.7,489.9 L304.7,489.9 Z" fill="#ffffff" stroke="#ffffff" stroke-width="2.6"/>
<path d="M304.7,394.4 L298.7,397.1 L290.3,398.3 L280.7,398.9 L275.9,405.5 L272.3,411.5 L268.7,416.3 L263.9,421.1 L261.5,425.9 L259.1,431.9 L255.5,436.7 L255.2,440.9 L257.1,444.9 L255.2,449.9 L253.7,457.9 L253.7,465.9 L249.7,473.4 L246.3,476.7 L240.3,480.3 L233.1,480.9 L221.1,483.9 L209.1,486.3 L200.7,479.9 L194.7,475.5 L194.7,489.9 L304.7,489.9 Z" fill="#e4e4e4" stroke="#9a9a9a" stroke-width="0.4"/>
<path d="M304.7,411.4 L292.7,413.1 L283.7,417.7 L274.7,423.9 L268.2,431.5 L266.7,438.9 L265.5,445.3 L259.9,452.3 L255.7,459.3 L254.3,466.3 L254.3,471.9 L257.1,474.7 L262.7,476.1 L265.5,473.3 L266.9,477.5 L268.3,483.1 L266.9,489.9 L304.7,489.9 Z" fill="#c6c6c6" stroke="#9a9a9a" stroke-width="0.4"/>
<path d="M194.7,476.7 L200.7,477.9 L207.7,483.9 L207.9,489.9 L194.7,489.9 Z" fill="#c6c6c6"/>
<path d="M240.3,480.9 L245.7,479.9 L248.7,483.9 L248.7,489.9 L240.3,489.9 Z" fill="#c6c6c6"/>
<path d="M194.7,463.1 L207.9,456.5 L227.7,454.3 L243.1,447.7 L247.5,443.3 L254.1,442.2" fill="none" stroke="#a8a8a8" stroke-width="0.45"/>
<path d="M194.7,465.1 L207.9,458.3 L227.7,456.1 L243.1,449.5 L248.2,444.9 L254.1,443.9" fill="none" stroke="#a8a8a8" stroke-width="0.45"/>
<path d="M245.3,445.5 L246.9,451.9 L246.2,460.9 L249.7,476.3" fill="none" stroke="#a8a8a8" stroke-width="0.45"/>
<path d="M281.6,401.4 L283.2,402.1 L285.3,403.6 L284.9,405.9 L286.0,409.4 L283.8,410.2" fill="none" stroke="#9a9a9a" stroke-width="0.45"/>
<path d="M288.9,399.2 L288.3,402.4 L288.9,405.8 L292.2,406.1 L296.2,406.5 L297.0,402.9 L295.5,399.9" fill="none" stroke="#9a9a9a" stroke-width="0.45"/>
<path d="M297.7,399.2 L298.4,402.4 L298.4,405.1 L300.7,405.4 L302.1,406.5 L302.8,409.4" fill="none" stroke="#9a9a9a" stroke-width="0.45"/>
<path d="M275.2,409.4 L273.7,412.9 L272.2,414.4 L271.2,418.4 L268.9,420.9 L268.2,425.4 L265.7,428.4 L265.3,432.9 L263.2,436.4 L262.5,440.9 L260.2,444.4 L259.2,449.9" fill="none" stroke="#9a9a9a" stroke-width="0.45"/>
<path d="M194.7,413.6 L216.7,404.8 L238.7,396.0 L254.1,389.4 L267.3,383.9" fill="none" stroke="#7a7a7a" stroke-opacity="0.45" stroke-width="0.4"/>
<path d="M196.7,453.9 L222.3,439.9 L236.7,431.9 L254.7,419.9 L282.7,405.9 L304.7,398.2" fill="none" stroke="#7a7a7a" stroke-opacity="0.45" stroke-width="0.4"/>
<path d="M194.7,470.7 L224.7,456.3 L254.7,442.9 L270.7,440.4 L305.7,438.7" fill="none" stroke="#7a7a7a" stroke-opacity="0.45" stroke-width="0.4"/>
<path d="M236.7,489.9 L247.0,488.3 L270.7,477.9 L305.7,468.3" fill="none" stroke="#7a7a7a" stroke-opacity="0.45" stroke-width="0.4"/>
<path d="M194.7,405.9 L223.3,438.9 L254.1,471.9 L267.3,488.9" fill="none" stroke="#7a7a7a" stroke-opacity="0.45" stroke-width="0.4"/>
<path d="M249.7,383.9 L260.7,416.9 L271.7,445.5 L282.7,471.9 L289.3,488.9" fill="none" stroke="#7a7a7a" stroke-opacity="0.45" stroke-width="0.4"/>
<path d="M197.2,398.4L196.8,403.8M196.1,402.5L196.8,403.8L197.6,402.6M197.2,415.0L196.8,420.4M196.1,419.1L196.8,420.4L197.6,419.2M197.2,431.6L196.8,437.0M196.1,435.7L196.8,437.0L197.6,435.8M197.2,448.2L196.8,453.6M196.1,452.3L196.8,453.6L197.6,452.4M197.2,464.8L196.8,470.2M196.1,468.9L196.8,470.2L197.6,469.0M212.6,388.5L211.6,383.1M212.6,384.2L211.6,383.1L211.1,384.5M212.6,405.1L211.6,399.7M212.6,400.8L211.6,399.7L211.1,401.1M212.6,421.7L211.6,416.3M212.6,417.4L211.6,416.3L211.1,417.7M212.6,438.3L211.6,432.9M212.6,434.0L211.6,432.9L211.1,434.3M212.6,454.9L211.6,449.5M212.6,450.6L211.6,449.5L211.1,450.9M212.6,471.5L211.6,466.1M212.6,467.2L211.6,466.1L211.1,467.5M212.6,488.1L211.6,482.7M212.6,483.8L211.6,482.7L211.1,484.1M229.0,389.2L225.4,385.0M226.8,385.5L225.4,385.0L225.7,386.5M229.0,405.8L225.4,401.6M226.8,402.1L225.4,401.6L225.7,403.1M229.0,422.4L225.4,418.2M226.8,418.7L225.4,418.2L225.7,419.7M229.0,439.0L225.4,434.8M226.8,435.3L225.4,434.8L225.7,436.3M229.0,455.6L225.4,451.4M226.8,451.9L225.4,451.4L225.7,452.9M229.0,472.2L225.4,468.0M226.8,468.5L225.4,468.0L225.7,469.5M245.3,388.1L239.3,388.7M240.5,387.8L239.3,388.7L240.7,389.3M245.3,404.7L239.3,405.3M240.5,404.4L239.3,405.3L240.7,405.9M245.3,421.3L239.3,421.9M240.5,421.0L239.3,421.9L240.7,422.5M245.3,437.9L239.3,438.5M240.5,437.6L239.3,438.5L240.7,439.1M245.3,454.5L239.3,455.1M240.5,454.2L239.3,455.1L240.7,455.7M245.3,471.1L239.3,471.7M240.5,470.8L239.3,471.7L240.7,472.3M260.8,388.8L254.0,390.6M255.1,389.5L254.0,390.6L255.5,391.0M260.8,405.4L254.0,407.2M255.1,406.1L254.0,407.2L255.5,407.6M260.8,422.0L254.0,423.8M255.1,422.7L254.0,423.8L255.5,424.2M275.9,390.1L269.1,391.9M270.2,390.8L269.1,391.9L270.6,392.3M275.9,406.7L269.1,408.5M270.2,407.4L269.1,408.5L270.6,408.9M291.0,391.4L284.2,393.2M285.3,392.1L284.2,393.2L285.7,393.6" fill="none" stroke="#111111" stroke-width="0.85"/>
</g>
<line x1="294.3" y1="435.8" x2="299" y2="435.8" stroke="#222" stroke-width="0.9"/>
<text x="278.5" y="443.90000000000003" font-size="6" fill="#222" textLength="21.5" lengthAdjust="spacingAndGlyphs">10 cm s<tspan dy="-2.4" font-size="4.4">−1</tspan></text>
<path d="M266.9,400.7 L279.5,398.1 L281.3,412.7 L270.5,414.9 Z" fill="none" stroke="#222" stroke-width="1.1"/>
<clipPath id="rc12"><rect x="324.3" y="384.4" width="108.39999999999998" height="103.90000000000003"/></clipPath>
<g clip-path="url(#rc12)"><g >
<path fill="#d3e6f0" stroke="#d3e6f0" stroke-width="0.3" d="M326.3,384.4 355.6,384.4 354.2,396.4 352.3,400.1 350.3,401.9 348.8,402.4 342.3,403.8 338.3,404.2 334.9,402.4 330.7,398.4 329.6,396.4 326.6,388.4 324.3,384.4Z"/>
<path fill="#e5eef4" stroke="#e5eef4" stroke-width="0.3" d="M325.4,386.4 327.5,390.4 329.6,396.4 330.7,398.4 336.3,403.4 338.3,404.2 340.3,404.1 348.8,402.4 350.3,401.9 352.3,400.1 354.2,396.4 355.6,384.4 364.3,384.4 365.1,396.4 364.6,398.4 362.3,403.2 358.1,410.4 352.3,416 350.3,416.9 338.3,418.8 336.3,418.3 332.3,416.3 324.3,410.8 324.3,384.6Z"/>
<path fill="#f7f7f7" stroke="#f7f7f7" stroke-width="0.3" d="M364.3,384.4 386.9,384.4 384.6,394.4 383,398.4 378.3,403.7 370.3,414.2 361.7,422.4 360.6,424.4 360.4,434.4 360.7,436.4 362.1,438.4 364.3,440.2 370.3,443.7 372.3,446.1 374.9,450.4 376.3,452 378.3,453.1 380.3,452.3 382.1,450.4 386.3,441.7 388.3,439.2 391.5,436.4 392.9,434.4 394.6,430.4 396.9,422.4 402,408.4 403.3,406.4 408.5,400.4 409.5,398.4 410.3,394.4 410.7,384.4 434.3,384.4 434.3,488.4 324.3,488.4 324.3,456.5 330.3,458 332.3,459 336.3,462.3 338.4,462.4 339.2,460.4 340,456.4 340.7,450.4 339.9,448.4 338.3,446.8 334.3,444.1 332.7,442.4 329.7,436.4 328.3,434.4 324.3,431.2 324.3,410.8 332.3,416.3 336.3,418.3 338.3,418.8 348.3,417.3 352.3,416 358.1,410.4 361.7,404.4 364.6,398.4 365.1,394.4 364.3,384.4Z"/>
<path fill="#faeae0" stroke="#faeae0" stroke-width="0.3" d="M388.3,384.4 410.7,384.4 410.1,396.4 408.5,400.4 403.3,406.4 402,408.4 396.9,422.4 394.6,430.4 392.9,434.4 391.5,436.4 388.3,439.2 386.3,441.7 382.1,450.4 380.3,452.3 378.3,453.1 376.3,452 374.9,450.4 372.3,446.1 370.3,443.7 364.3,440.2 362.1,438.4 360.7,436.4 360.4,434.4 360.6,424.4 361.7,422.4 370.3,414.2 378.3,403.7 383,398.4 384.6,394.4 386.9,384.4ZM326.1,432.4 328.3,434.4 329.7,436.4 332.7,442.4 334.3,444.1 338.3,446.8 339.9,448.4 340.7,450.4 340.6,452.4 339.2,460.4 338.4,462.4 336.3,462.3 332.3,459 330.3,458 324.3,456.5 324.3,431.2Z"/>
</g>
<path d="M434.0,394.5 L428.0,397.2 L419.6,398.4 L410.0,399.0 L405.2,405.6 L401.6,411.6 L398.0,416.4 L393.2,421.2 L390.8,426.0 L388.4,432.0 L384.8,436.8 L384.5,441.0 L386.4,445.0 L384.5,450.0 L383.0,458.0 L383.0,466.0 L379.0,473.5 L375.6,476.8 L369.6,480.4 L362.4,481.0 L350.4,484.0 L338.4,486.4 L330.0,480.0 L324.0,475.6 L324.0,490.0 L434.0,490.0 Z" fill="#e4e4e4" stroke="#9a9a9a" stroke-width="0.4"/>
<path d="M434.0,411.5 L422.0,413.2 L413.0,417.8 L404.0,424.0 L397.5,431.6 L396.0,439.0 L394.8,445.4 L389.2,452.4 L385.0,459.4 L383.6,466.4 L383.6,472.0 L386.4,474.8 L392.0,476.2 L394.8,473.4 L396.2,477.6 L397.6,483.2 L396.2,490.0 L434.0,490.0 Z" fill="#c6c6c6" stroke="#9a9a9a" stroke-width="0.4"/>
<path d="M324.0,476.8 L330.0,478.0 L337.0,484.0 L337.2,490.0 L324.0,490.0 Z" fill="#c6c6c6"/>
<path d="M369.6,481.0 L375.0,480.0 L378.0,484.0 L378.0,490.0 L369.6,490.0 Z" fill="#c6c6c6"/>
<path d="M324.0,463.2 L337.2,456.6 L357.0,454.4 L372.4,447.8 L376.8,443.4 L383.4,442.3" fill="none" stroke="#a8a8a8" stroke-width="0.45"/>
<path d="M324.0,465.2 L337.2,458.4 L357.0,456.2 L372.4,449.6 L377.5,445.0 L383.4,444.0" fill="none" stroke="#a8a8a8" stroke-width="0.45"/>
<path d="M374.6,445.6 L376.2,452.0 L375.5,461.0 L379.0,476.4" fill="none" stroke="#a8a8a8" stroke-width="0.45"/>
<path d="M410.9,401.5 L412.5,402.2 L414.6,403.7 L414.2,406.0 L415.3,409.5 L413.1,410.3" fill="none" stroke="#9a9a9a" stroke-width="0.45"/>
<path d="M418.2,399.3 L417.6,402.5 L418.2,405.9 L421.5,406.2 L425.5,406.6 L426.3,403.0 L424.8,400.0" fill="none" stroke="#9a9a9a" stroke-width="0.45"/>
<path d="M427.0,399.3 L427.7,402.5 L427.7,405.2 L430.0,405.5 L431.4,406.6 L432.1,409.5" fill="none" stroke="#9a9a9a" stroke-width="0.45"/>
<path d="M404.5,409.5 L403.0,413.0 L401.5,414.5 L400.5,418.5 L398.2,421.0 L397.5,425.5 L395.0,428.5 L394.6,433.0 L392.5,436.5 L391.8,441.0 L389.5,444.5 L388.5,450.0" fill="none" stroke="#9a9a9a" stroke-width="0.45"/>
<path d="M324.0,413.7 L346.0,404.9 L368.0,396.1 L383.4,389.5 L396.6,384.0" fill="none" stroke="#7a7a7a" stroke-opacity="0.45" stroke-width="0.4"/>
<path d="M326.0,454.0 L351.6,440.0 L366.0,432.0 L384.0,420.0 L412.0,406.0 L434.0,398.3" fill="none" stroke="#7a7a7a" stroke-opacity="0.45" stroke-width="0.4"/>
<path d="M324.0,470.8 L354.0,456.4 L384.0,443.0 L400.0,440.5 L435.0,438.8" fill="none" stroke="#7a7a7a" stroke-opacity="0.45" stroke-width="0.4"/>
<path d="M366.0,490.0 L376.3,488.4 L400.0,478.0 L435.0,468.4" fill="none" stroke="#7a7a7a" stroke-opacity="0.45" stroke-width="0.4"/>
<path d="M324.0,406.0 L352.6,439.0 L383.4,472.0 L396.6,489.0" fill="none" stroke="#7a7a7a" stroke-opacity="0.45" stroke-width="0.4"/>
<path d="M379.0,384.0 L390.0,417.0 L401.0,445.6 L412.0,472.0 L418.6,489.0" fill="none" stroke="#7a7a7a" stroke-opacity="0.45" stroke-width="0.4"/>
</g>
<text x="431.6" y="439.0" text-anchor="end" font-size="6.6" fill="#222">76 S</text>
<text x="431.6" y="468.5" text-anchor="end" font-size="6.6" fill="#222">80 S</text>
<text transform="translate(407.0,456.0) rotate(62)" text-anchor="middle" dy="2.3" font-size="6.6" fill="#222">20 W</text>
<text transform="translate(341.5,425.0) rotate(48)" text-anchor="middle" dy="2.3" font-size="6.6" fill="#222">40 W</text>
<path d="M396.2,400.8 L408.8,398.2 L410.6,412.8 L399.8,415.0 Z" fill="none" stroke="#222" stroke-width="1.1"/>
<rect x="39.5" y="37.5" width="136.5" height="111.9" fill="none" stroke="#c8c8c8" stroke-width="1.6"/>
<text x="41.8" y="45.1" font-size="8.6" fill="#1a1a1a">a)</text>
<rect x="182" y="37.5" width="136.5" height="111.9" fill="none" stroke="#c8c8c8" stroke-width="1.6"/>
<text x="184.3" y="45.1" font-size="8.6" fill="#1a1a1a">e)</text>
<rect x="324.3" y="37.5" width="136.2" height="111.9" fill="none" stroke="#c8c8c8" stroke-width="1.6"/>
<text x="326.6" y="45.1" font-size="8.6" fill="#1a1a1a">i)</text>
<rect x="38.5" y="158.4" width="136.9" height="111.99999999999997" fill="none" stroke="#c8c8c8" stroke-width="1.6"/>
<text x="40.8" y="166.0" font-size="8.6" fill="#1a1a1a">b)</text>
<rect x="181.5" y="158.4" width="137.0" height="111.99999999999997" fill="none" stroke="#c8c8c8" stroke-width="1.6"/>
<text x="183.8" y="166.0" font-size="8.6" fill="#1a1a1a">f)</text>
<rect x="324.3" y="158.4" width="136.2" height="111.99999999999997" fill="none" stroke="#c8c8c8" stroke-width="1.6"/>
<text x="326.6" y="166.0" font-size="8.6" fill="#1a1a1a">j)</text>
<rect x="67" y="275" width="108.6" height="104" fill="none" stroke="#c8c8c8" stroke-width="1.6"/>
<text x="69.3" y="282.6" font-size="8.6" fill="#1a1a1a">c)</text>
<rect x="195" y="275" width="108.5" height="104" fill="none" stroke="#c8c8c8" stroke-width="1.6"/>
<text x="197.3" y="282.6" font-size="8.6" fill="#1a1a1a">g)</text>
<rect x="324.3" y="275" width="108.39999999999998" height="104" fill="none" stroke="#c8c8c8" stroke-width="1.6"/>
<text x="326.6" y="282.6" font-size="8.6" fill="#1a1a1a">k)</text>
<rect x="67.4" y="384.3" width="108.19999999999999" height="104.09999999999997" fill="none" stroke="#c8c8c8" stroke-width="1.6"/>
<text x="69.7" y="391.90000000000003" font-size="8.6" fill="#1a1a1a">d)</text>
<rect x="195" y="384.3" width="108.5" height="104.09999999999997" fill="none" stroke="#c8c8c8" stroke-width="1.6"/>
<text x="197.3" y="391.90000000000003" font-size="8.6" fill="#1a1a1a">h)</text>
<rect x="324.3" y="384.4" width="108.39999999999998" height="103.90000000000003" fill="none" stroke="#c8c8c8" stroke-width="1.6"/>
<text x="326.6" y="392.0" font-size="8.6" fill="#1a1a1a">l)</text>
<rect x="29.2" y="42.00" width="7.2" height="3.71" fill="#f4fbed"/>
<rect x="29.2" y="45.41" width="7.2" height="3.71" fill="#eef8e8"/>
<rect x="29.2" y="48.83" width="7.2" height="3.71" fill="#e8f6e2"/>
<rect x="29.2" y="52.24" width="7.2" height="3.71" fill="#e2f4dc"/>
<rect x="29.2" y="55.65" width="7.2" height="3.71" fill="#dcf1d7"/>
<rect x="29.2" y="59.07" width="7.2" height="3.71" fill="#d7efd1"/>
<rect x="29.2" y="62.48" width="7.2" height="3.71" fill="#d1edcb"/>
<rect x="29.2" y="65.89" width="7.2" height="3.71" fill="#ccebc5"/>
<rect x="29.2" y="69.31" width="7.2" height="3.71" fill="#c2e7c1"/>
<rect x="29.2" y="72.72" width="7.2" height="3.71" fill="#b9e4bc"/>
<rect x="29.2" y="76.13" width="7.2" height="3.71" fill="#afe0b8"/>
<rect x="29.2" y="79.55" width="7.2" height="3.71" fill="#a5dcb6"/>
<rect x="29.2" y="82.96" width="7.2" height="3.71" fill="#99d7ba"/>
<rect x="29.2" y="86.37" width="7.2" height="3.71" fill="#8dd3be"/>
<rect x="29.2" y="89.79" width="7.2" height="3.71" fill="#81cec2"/>
<rect x="29.2" y="93.20" width="7.2" height="3.71" fill="#75c9c6"/>
<rect x="29.2" y="96.61" width="7.2" height="3.71" fill="#69c2ca"/>
<rect x="29.2" y="100.03" width="7.2" height="3.71" fill="#5dbbce"/>
<rect x="29.2" y="103.44" width="7.2" height="3.71" fill="#51b5d2"/>
<rect x="29.2" y="106.85" width="7.2" height="3.71" fill="#47abcf"/>
<rect x="29.2" y="110.27" width="7.2" height="3.71" fill="#3ea1c9"/>
<rect x="29.2" y="113.68" width="7.2" height="3.71" fill="#3496c4"/>
<rect x="29.2" y="117.09" width="7.2" height="3.71" fill="#2b8cbe"/>
<rect x="29.2" y="120.51" width="7.2" height="3.71" fill="#2282b9"/>
<rect x="29.2" y="123.92" width="7.2" height="3.71" fill="#1879b4"/>
<rect x="29.2" y="127.33" width="7.2" height="3.71" fill="#0f6fb0"/>
<rect x="29.2" y="130.75" width="7.2" height="3.71" fill="#0865a9"/>
<rect x="29.2" y="134.16" width="7.2" height="3.71" fill="#085b9e"/>
<rect x="29.2" y="137.57" width="7.2" height="3.71" fill="#085092"/>
<rect x="29.2" y="140.99" width="7.2" height="3.71" fill="#084587"/>
<path d="M29.2,42.3 L32.8,37 L36.4,42.3 Z" fill="#f7fcf0"/>
<path d="M29.2,144.1 L32.8,149.4 L36.4,144.1 Z" fill="#084081"/>
<path d="M29.2,42 L32.8,37 L36.4,42 L36.4,144.4 L32.8,149.4 L29.2,144.4 Z" fill="none" stroke="#8a8a8a" stroke-width="0.5"/>
<line x1="28.0" y1="42.5" x2="29.2" y2="42.5" stroke="#666" stroke-width="0.5"/>
<text x="27.2" y="44.9" text-anchor="end" font-size="6.6" fill="#333">1000</text>
<line x1="28.0" y1="59.4" x2="29.2" y2="59.4" stroke="#666" stroke-width="0.5"/>
<text x="27.2" y="61.8" text-anchor="end" font-size="6.6" fill="#333">995</text>
<line x1="28.0" y1="76.4" x2="29.2" y2="76.4" stroke="#666" stroke-width="0.5"/>
<text x="27.2" y="78.80000000000001" text-anchor="end" font-size="6.6" fill="#333">990</text>
<line x1="28.0" y1="93.6" x2="29.2" y2="93.6" stroke="#666" stroke-width="0.5"/>
<text x="27.2" y="96.0" text-anchor="end" font-size="6.6" fill="#333">985</text>
<line x1="28.0" y1="110.6" x2="29.2" y2="110.6" stroke="#666" stroke-width="0.5"/>
<text x="27.2" y="113.0" text-anchor="end" font-size="6.6" fill="#333">980</text>
<line x1="28.0" y1="127.4" x2="29.2" y2="127.4" stroke="#666" stroke-width="0.5"/>
<text x="27.2" y="129.8" text-anchor="end" font-size="6.6" fill="#333">975</text>
<line x1="28.0" y1="144.4" x2="29.2" y2="144.4" stroke="#666" stroke-width="0.5"/>
<text x="27.2" y="146.8" text-anchor="end" font-size="6.6" fill="#333">970</text>
<text transform="translate(8.5,93) rotate(-90)" text-anchor="middle" font-size="7.4" fill="#333" dy="2.59">mslp, hPa</text>
<rect x="28.8" y="163.40" width="7.2" height="3.70" fill="#ad0826"/>
<rect x="28.8" y="166.80" width="7.2" height="3.70" fill="#be1826"/>
<rect x="28.8" y="170.21" width="7.2" height="3.70" fill="#cf2827"/>
<rect x="28.8" y="173.61" width="7.2" height="3.70" fill="#dc3a2c"/>
<rect x="28.8" y="177.01" width="7.2" height="3.70" fill="#e64e35"/>
<rect x="28.8" y="180.42" width="7.2" height="3.70" fill="#ef633e"/>
<rect x="28.8" y="183.82" width="7.2" height="3.70" fill="#f67848"/>
<rect x="28.8" y="187.22" width="7.2" height="3.70" fill="#f88e52"/>
<rect x="28.8" y="190.63" width="7.2" height="3.70" fill="#fca35c"/>
<rect x="28.8" y="194.03" width="7.2" height="3.70" fill="#fdb669"/>
<rect x="28.8" y="197.43" width="7.2" height="3.70" fill="#fec778"/>
<rect x="28.8" y="200.84" width="7.2" height="3.70" fill="#fed888"/>
<rect x="28.8" y="204.24" width="7.2" height="3.70" fill="#fee598"/>
<rect x="28.8" y="207.64" width="7.2" height="3.70" fill="#fef0a8"/>
<rect x="28.8" y="211.05" width="7.2" height="3.70" fill="#fffab7"/>
<rect x="28.8" y="214.45" width="7.2" height="3.70" fill="#fafdc8"/>
<rect x="28.8" y="217.85" width="7.2" height="3.70" fill="#f0f9dc"/>
<rect x="28.8" y="221.26" width="7.2" height="3.70" fill="#e5f5ef"/>
<rect x="28.8" y="224.66" width="7.2" height="3.70" fill="#d7eff6"/>
<rect x="28.8" y="228.06" width="7.2" height="3.70" fill="#c6e6f0"/>
<rect x="28.8" y="231.47" width="7.2" height="3.70" fill="#b4ddec"/>
<rect x="28.8" y="234.87" width="7.2" height="3.70" fill="#a2d2e5"/>
<rect x="28.8" y="238.27" width="7.2" height="3.70" fill="#90c3dd"/>
<rect x="28.8" y="241.68" width="7.2" height="3.70" fill="#7db4d5"/>
<rect x="28.8" y="245.08" width="7.2" height="3.70" fill="#6ca4cc"/>
<rect x="28.8" y="248.48" width="7.2" height="3.70" fill="#5d91c2"/>
<rect x="28.8" y="251.89" width="7.2" height="3.70" fill="#4d7eb9"/>
<rect x="28.8" y="255.29" width="7.2" height="3.70" fill="#426baf"/>
<rect x="28.8" y="258.69" width="7.2" height="3.70" fill="#3b56a4"/>
<rect x="28.8" y="262.10" width="7.2" height="3.70" fill="#34419a"/>
<path d="M28.8,163.70000000000002 L32.4,158.4 L36.0,163.70000000000002 Z" fill="#a50026"/>
<path d="M28.8,265.2 L32.4,270.5 L36.0,265.2 Z" fill="#313695"/>
<path d="M28.8,163.4 L32.4,158.4 L36.0,163.4 L36.0,265.5 L32.4,270.5 L28.8,265.5 Z" fill="none" stroke="#8a8a8a" stroke-width="0.5"/>
<line x1="27.6" y1="169.6" x2="28.8" y2="169.6" stroke="#666" stroke-width="0.5"/>
<text x="26.8" y="172.0" text-anchor="end" font-size="6.6" fill="#333">15.0</text>
<line x1="27.6" y1="185.8" x2="28.8" y2="185.8" stroke="#666" stroke-width="0.5"/>
<text x="26.8" y="188.20000000000002" text-anchor="end" font-size="6.6" fill="#333">12.5</text>
<line x1="27.6" y1="201.9" x2="28.8" y2="201.9" stroke="#666" stroke-width="0.5"/>
<text x="26.8" y="204.3" text-anchor="end" font-size="6.6" fill="#333">10.0</text>
<line x1="27.6" y1="217.9" x2="28.8" y2="217.9" stroke="#666" stroke-width="0.5"/>
<text x="26.8" y="220.3" text-anchor="end" font-size="6.6" fill="#333">7.5</text>
<line x1="27.6" y1="233.8" x2="28.8" y2="233.8" stroke="#666" stroke-width="0.5"/>
<text x="26.8" y="236.20000000000002" text-anchor="end" font-size="6.6" fill="#333">5.0</text>
<line x1="27.6" y1="249.8" x2="28.8" y2="249.8" stroke="#666" stroke-width="0.5"/>
<text x="26.8" y="252.20000000000002" text-anchor="end" font-size="6.6" fill="#333">2.5</text>
<line x1="27.6" y1="265.8" x2="28.8" y2="265.8" stroke="#666" stroke-width="0.5"/>
<text x="26.8" y="268.2" text-anchor="end" font-size="6.6" fill="#333">0.0</text>
<text transform="translate(8.9,214.5) rotate(-90)" text-anchor="middle" font-size="7.4" fill="#333" dy="2.59">wind speed, m s<tspan dy="-3" font-size="5">−1</tspan></text>
<rect x="463.2" y="41.80" width="6.4" height="5.15" fill="#613806"/>
<rect x="463.2" y="46.65" width="6.4" height="5.15" fill="#7c4809"/>
<rect x="463.2" y="51.50" width="6.4" height="5.15" fill="#965a11"/>
<rect x="463.2" y="56.34" width="6.4" height="5.15" fill="#ae7121"/>
<rect x="463.2" y="61.19" width="6.4" height="5.15" fill="#c48a38"/>
<rect x="463.2" y="66.04" width="6.4" height="5.15" fill="#d3a95f"/>
<rect x="463.2" y="70.89" width="6.4" height="5.15" fill="#e1c684"/>
<rect x="463.2" y="75.73" width="6.4" height="5.15" fill="#ecd8a5"/>
<rect x="463.2" y="80.58" width="6.4" height="5.15" fill="#f6e9c5"/>
<rect x="463.2" y="85.43" width="6.4" height="5.15" fill="#f5efdd"/>
<rect x="463.2" y="90.28" width="6.4" height="5.15" fill="#f5f5f5"/>
<rect x="463.2" y="95.12" width="6.4" height="5.15" fill="#dff0ed"/>
<rect x="463.2" y="99.97" width="6.4" height="5.15" fill="#c9ebe6"/>
<rect x="463.2" y="104.82" width="6.4" height="5.15" fill="#a9ded6"/>
<rect x="463.2" y="109.67" width="6.4" height="5.15" fill="#87d0c4"/>
<rect x="463.2" y="114.51" width="6.4" height="5.15" fill="#63b8ae"/>
<rect x="463.2" y="119.36" width="6.4" height="5.15" fill="#409f96"/>
<rect x="463.2" y="124.21" width="6.4" height="5.15" fill="#24877f"/>
<rect x="463.2" y="129.06" width="6.4" height="5.15" fill="#0b6f67"/>
<rect x="463.2" y="133.90" width="6.4" height="5.15" fill="#015a51"/>
<rect x="463.2" y="138.75" width="6.4" height="5.15" fill="#00463b"/>
<path d="M463.2,42.099999999999994 L466.4,36.8 L469.59999999999997,42.099999999999994 Z" fill="#543005"/>
<path d="M463.2,143.29999999999998 L466.4,148.6 L469.59999999999997,143.29999999999998 Z" fill="#003c30"/>
<path d="M463.2,41.8 L466.4,36.8 L469.59999999999997,41.8 L469.59999999999997,143.6 L466.4,148.6 L463.2,143.6 Z" fill="none" stroke="#8a8a8a" stroke-width="0.5"/>
<line x1="469.59999999999997" y1="41.8" x2="471.2" y2="41.8" stroke="#666" stroke-width="0.5"/>
<text x="472.79999999999995" y="44.199999999999996" font-size="6.6" fill="#333">21</text>
<line x1="469.59999999999997" y1="56.4" x2="471.2" y2="56.4" stroke="#666" stroke-width="0.5"/>
<text x="472.79999999999995" y="58.8" font-size="6.6" fill="#333">15</text>
<line x1="469.59999999999997" y1="71.2" x2="471.2" y2="71.2" stroke="#666" stroke-width="0.5"/>
<text x="472.79999999999995" y="73.60000000000001" font-size="6.6" fill="#333">9</text>
<line x1="469.59999999999997" y1="86" x2="471.2" y2="86" stroke="#666" stroke-width="0.5"/>
<text x="472.79999999999995" y="88.4" font-size="6.6" fill="#333">3</text>
<line x1="469.59999999999997" y1="100.6" x2="471.2" y2="100.6" stroke="#666" stroke-width="0.5"/>
<text x="472.79999999999995" y="103.0" font-size="6.6" fill="#333">−3</text>
<line x1="469.59999999999997" y1="115.4" x2="471.2" y2="115.4" stroke="#666" stroke-width="0.5"/>
<text x="472.79999999999995" y="117.80000000000001" font-size="6.6" fill="#333">−9</text>
<line x1="469.59999999999997" y1="130.2" x2="471.2" y2="130.2" stroke="#666" stroke-width="0.5"/>
<text x="472.79999999999995" y="132.6" font-size="6.6" fill="#333">−15</text>
<line x1="469.59999999999997" y1="144.6" x2="471.2" y2="144.6" stroke="#666" stroke-width="0.5"/>
<text x="472.79999999999995" y="147.0" font-size="6.6" fill="#333">−21</text>
<text transform="translate(488.7,93) rotate(-90)" text-anchor="middle" font-size="7.4" fill="#333" dy="2.59">mslp anomaly, hPa</text>
<rect x="463.2" y="163.00" width="6.4" height="7.13" fill="#3a1040"/>
<rect x="463.2" y="169.83" width="6.4" height="7.13" fill="#6a1f5e"/>
<rect x="463.2" y="176.67" width="6.4" height="7.13" fill="#96305f"/>
<rect x="463.2" y="183.50" width="6.4" height="7.13" fill="#b84860"/>
<rect x="463.2" y="190.33" width="6.4" height="7.13" fill="#d06a60"/>
<rect x="463.2" y="197.17" width="6.4" height="7.13" fill="#e5a088"/>
<rect x="463.2" y="204.00" width="6.4" height="7.13" fill="#f0c4b2"/>
<rect x="463.2" y="210.83" width="6.4" height="7.13" fill="#fcefe9"/>
<rect x="463.2" y="217.67" width="6.4" height="7.13" fill="#cbdbc3"/>
<rect x="463.2" y="224.50" width="6.4" height="7.13" fill="#98bc98"/>
<rect x="463.2" y="231.33" width="6.4" height="7.13" fill="#50a080"/>
<rect x="463.2" y="238.17" width="6.4" height="7.13" fill="#207870"/>
<rect x="463.2" y="245.00" width="6.4" height="7.13" fill="#1e5868"/>
<rect x="463.2" y="251.83" width="6.4" height="7.13" fill="#1e3c58"/>
<rect x="463.2" y="258.67" width="6.4" height="7.13" fill="#151d44"/>
<path d="M463.2,163.3 L466.4,158 L469.59999999999997,163.3 Z" fill="#340d35"/>
<path d="M463.2,265.2 L466.4,270.5 L469.59999999999997,265.2 Z" fill="#151d44"/>
<path d="M463.2,163 L466.4,158 L469.59999999999997,163 L469.59999999999997,265.5 L466.4,270.5 L463.2,265.5 Z" fill="none" stroke="#8a8a8a" stroke-width="0.5"/>
<line x1="469.59999999999997" y1="163" x2="471.2" y2="163" stroke="#666" stroke-width="0.5"/>
<text x="472.79999999999995" y="165.4" font-size="6.6" fill="#333">7.5</text>
<line x1="469.59999999999997" y1="184" x2="471.2" y2="184" stroke="#666" stroke-width="0.5"/>
<text x="472.79999999999995" y="186.4" font-size="6.6" fill="#333">4.5</text>
<line x1="469.59999999999997" y1="204.6" x2="471.2" y2="204.6" stroke="#666" stroke-width="0.5"/>
<text x="472.79999999999995" y="207.0" font-size="6.6" fill="#333">1.5</text>
<line x1="469.59999999999997" y1="225.2" x2="471.2" y2="225.2" stroke="#666" stroke-width="0.5"/>
<text x="472.79999999999995" y="227.6" font-size="6.6" fill="#333">−1.5</text>
<line x1="469.59999999999997" y1="245.5" x2="471.2" y2="245.5" stroke="#666" stroke-width="0.5"/>
<text x="472.79999999999995" y="247.9" font-size="6.6" fill="#333">−4.5</text>
<line x1="469.59999999999997" y1="265.8" x2="471.2" y2="265.8" stroke="#666" stroke-width="0.5"/>
<text x="472.79999999999995" y="268.2" font-size="6.6" fill="#333">−7.5</text>
<text transform="translate(490,215) rotate(-90)" text-anchor="middle" font-size="7.4" fill="#333" dy="2.59">wind speed anomaly, m s<tspan dy="-3" font-size="5">−1</tspan></text>
<rect x="435.2" y="279.80" width="5.3" height="4.79" fill="#790622"/>
<rect x="435.2" y="284.29" width="5.3" height="4.79" fill="#9d1128"/>
<rect x="435.2" y="288.78" width="5.3" height="4.79" fill="#b92631"/>
<rect x="435.2" y="293.27" width="5.3" height="4.79" fill="#ca4842"/>
<rect x="435.2" y="297.76" width="5.3" height="4.79" fill="#da6a55"/>
<rect x="435.2" y="302.25" width="5.3" height="4.79" fill="#e98b6e"/>
<rect x="435.2" y="306.74" width="5.3" height="4.79" fill="#f5aa89"/>
<rect x="435.2" y="311.23" width="5.3" height="4.79" fill="#f9c4a9"/>
<rect x="435.2" y="315.72" width="5.3" height="4.79" fill="#fddcc9"/>
<rect x="435.2" y="320.21" width="5.3" height="4.79" fill="#faeae0"/>
<rect x="435.2" y="324.70" width="5.3" height="4.79" fill="#f7f7f7"/>
<rect x="435.2" y="329.20" width="5.3" height="4.79" fill="#e5eef4"/>
<rect x="435.2" y="333.69" width="5.3" height="4.79" fill="#d3e6f0"/>
<rect x="435.2" y="338.18" width="5.3" height="4.79" fill="#b6d7e8"/>
<rect x="435.2" y="342.67" width="5.3" height="4.79" fill="#98c8e0"/>
<rect x="435.2" y="347.16" width="5.3" height="4.79" fill="#74b2d4"/>
<rect x="435.2" y="351.65" width="5.3" height="4.79" fill="#4e9ac7"/>
<rect x="435.2" y="356.14" width="5.3" height="4.79" fill="#3884bb"/>
<rect x="435.2" y="360.63" width="5.3" height="4.79" fill="#276fb0"/>
<rect x="435.2" y="365.12" width="5.3" height="4.79" fill="#195797"/>
<rect x="435.2" y="369.61" width="5.3" height="4.79" fill="#0c3d73"/>
<path d="M435.2,280.1 L437.84999999999997,275.3 L440.5,280.1 Z" fill="#67001f"/>
<path d="M435.2,373.8 L437.84999999999997,378.6 L440.5,373.8 Z" fill="#053061"/>
<path d="M435.2,279.8 L437.84999999999997,275.3 L440.5,279.8 L440.5,374.1 L437.84999999999997,378.6 L435.2,374.1 Z" fill="none" stroke="#8a8a8a" stroke-width="0.5"/>
<line x1="440.5" y1="280" x2="442.1" y2="280" stroke="#666" stroke-width="0.5"/>
<text x="443.7" y="282.4" font-size="6.6" fill="#333">21</text>
<line x1="440.5" y1="293.8" x2="442.1" y2="293.8" stroke="#666" stroke-width="0.5"/>
<text x="443.7" y="296.2" font-size="6.6" fill="#333">15</text>
<line x1="440.5" y1="307.3" x2="442.1" y2="307.3" stroke="#666" stroke-width="0.5"/>
<text x="443.7" y="309.7" font-size="6.6" fill="#333">9</text>
<line x1="440.5" y1="321" x2="442.1" y2="321" stroke="#666" stroke-width="0.5"/>
<text x="443.7" y="323.4" font-size="6.6" fill="#333">3</text>
<line x1="440.5" y1="334.4" x2="442.1" y2="334.4" stroke="#666" stroke-width="0.5"/>
<text x="443.7" y="336.79999999999995" font-size="6.6" fill="#333">−3</text>
<line x1="440.5" y1="348" x2="442.1" y2="348" stroke="#666" stroke-width="0.5"/>
<text x="443.7" y="350.4" font-size="6.6" fill="#333">−9</text>
<line x1="440.5" y1="361.5" x2="442.1" y2="361.5" stroke="#666" stroke-width="0.5"/>
<text x="443.7" y="363.9" font-size="6.6" fill="#333">−15</text>
<line x1="440.5" y1="375" x2="442.1" y2="375" stroke="#666" stroke-width="0.5"/>
<text x="443.7" y="377.4" font-size="6.6" fill="#333">−21</text>
<text transform="translate(460.7,327) rotate(-90)" text-anchor="middle" font-size="7.4" fill="#333" dy="2.59">SIC anomaly, %</text>
<rect x="59.2" y="388.90" width="5.8" height="2.67" fill="#a90426"/>
<rect x="59.2" y="391.27" width="5.8" height="2.67" fill="#b10b26"/>
<rect x="59.2" y="393.64" width="5.8" height="2.67" fill="#b91326"/>
<rect x="59.2" y="396.02" width="5.8" height="2.67" fill="#c11b27"/>
<rect x="59.2" y="398.39" width="5.8" height="2.67" fill="#c92327"/>
<rect x="59.2" y="400.76" width="5.8" height="2.67" fill="#d12b27"/>
<rect x="59.2" y="403.13" width="5.8" height="2.67" fill="#d93329"/>
<rect x="59.2" y="405.51" width="5.8" height="2.67" fill="#de3e2d"/>
<rect x="59.2" y="407.88" width="5.8" height="2.67" fill="#e34832"/>
<rect x="59.2" y="410.25" width="5.8" height="2.67" fill="#e85337"/>
<rect x="59.2" y="412.62" width="5.8" height="2.67" fill="#ed5d3c"/>
<rect x="59.2" y="415.00" width="5.8" height="2.67" fill="#f26841"/>
<rect x="59.2" y="417.37" width="5.8" height="2.67" fill="#f57446"/>
<rect x="59.2" y="419.74" width="5.8" height="2.67" fill="#f7804c"/>
<rect x="59.2" y="422.12" width="5.8" height="2.67" fill="#f88c51"/>
<rect x="59.2" y="424.49" width="5.8" height="2.67" fill="#fa9857"/>
<rect x="59.2" y="426.86" width="5.8" height="2.67" fill="#fca45c"/>
<rect x="59.2" y="429.23" width="5.8" height="2.67" fill="#fdb063"/>
<rect x="59.2" y="431.61" width="5.8" height="2.67" fill="#fdba6c"/>
<rect x="59.2" y="433.98" width="5.8" height="2.67" fill="#fdc476"/>
<rect x="59.2" y="436.35" width="5.8" height="2.67" fill="#fece7f"/>
<rect x="59.2" y="438.72" width="5.8" height="2.67" fill="#fed889"/>
<rect x="59.2" y="441.09" width="5.8" height="2.67" fill="#fee293"/>
<rect x="59.2" y="443.47" width="5.8" height="2.67" fill="#fee99d"/>
<rect x="59.2" y="445.84" width="5.8" height="2.67" fill="#feefa7"/>
<rect x="59.2" y="448.21" width="5.8" height="2.67" fill="#fff6b2"/>
<rect x="59.2" y="450.58" width="5.8" height="2.67" fill="#fffebd"/>
<rect x="59.2" y="452.96" width="5.8" height="2.67" fill="#f9fdca"/>
<rect x="59.2" y="455.33" width="5.8" height="2.67" fill="#f1fad8"/>
<rect x="59.2" y="457.70" width="5.8" height="2.67" fill="#e9f7e7"/>
<rect x="59.2" y="460.07" width="5.8" height="2.67" fill="#e1f4f6"/>
<rect x="59.2" y="462.45" width="5.8" height="2.67" fill="#d4edf5"/>
<rect x="59.2" y="464.82" width="5.8" height="2.67" fill="#c5e6f0"/>
<rect x="59.2" y="467.19" width="5.8" height="2.67" fill="#b5deec"/>
<rect x="59.2" y="469.56" width="5.8" height="2.67" fill="#a4d3e6"/>
<rect x="59.2" y="471.94" width="5.8" height="2.67" fill="#91c4de"/>
<rect x="59.2" y="474.31" width="5.8" height="2.67" fill="#7db4d5"/>
<rect x="59.2" y="476.68" width="5.8" height="2.67" fill="#689fca"/>
<rect x="59.2" y="479.06" width="5.8" height="2.67" fill="#5184bc"/>
<rect x="59.2" y="481.43" width="5.8" height="2.67" fill="#3e5ea9"/>
<path d="M59.2,389.2 L62.1,384.4 L65.0,389.2 Z" fill="#a50026"/>
<path d="M59.2,483.5 L62.1,488.3 L65.0,483.5 Z" fill="#313695"/>
<path d="M59.2,388.9 L62.1,384.4 L65.0,388.9 L65.0,483.8 L62.1,488.3 L59.2,483.8 Z" fill="none" stroke="#8a8a8a" stroke-width="0.5"/>
<line x1="58.0" y1="389" x2="59.2" y2="389" stroke="#666" stroke-width="0.5"/>
<text x="57.2" y="391.4" text-anchor="end" font-size="6.6" fill="#333">20</text>
<line x1="58.0" y1="412.8" x2="59.2" y2="412.8" stroke="#666" stroke-width="0.5"/>
<text x="57.2" y="415.2" text-anchor="end" font-size="6.6" fill="#333">15</text>
<line x1="58.0" y1="436.5" x2="59.2" y2="436.5" stroke="#666" stroke-width="0.5"/>
<text x="57.2" y="438.9" text-anchor="end" font-size="6.6" fill="#333">10</text>
<line x1="58.0" y1="460.2" x2="59.2" y2="460.2" stroke="#666" stroke-width="0.5"/>
<text x="57.2" y="462.59999999999997" text-anchor="end" font-size="6.6" fill="#333">5</text>
<line x1="58.0" y1="484" x2="59.2" y2="484" stroke="#666" stroke-width="0.5"/>
<text x="57.2" y="486.4" text-anchor="end" font-size="6.6" fill="#333">0</text>
<text transform="translate(43.4,436.4) rotate(-90)" text-anchor="middle" font-size="7.4" fill="#333" dy="2.59">Sea ice motion, cm s<tspan dy="-3" font-size="5">−1</tspan></text>
<rect x="435.2" y="388.80" width="5.3" height="4.82" fill="#790622"/>
<rect x="435.2" y="393.32" width="5.3" height="4.82" fill="#9d1128"/>
<rect x="435.2" y="397.84" width="5.3" height="4.82" fill="#b92631"/>
<rect x="435.2" y="402.36" width="5.3" height="4.82" fill="#ca4842"/>
<rect x="435.2" y="406.88" width="5.3" height="4.82" fill="#da6a55"/>
<rect x="435.2" y="411.40" width="5.3" height="4.82" fill="#e98b6e"/>
<rect x="435.2" y="415.91" width="5.3" height="4.82" fill="#f5aa89"/>
<rect x="435.2" y="420.43" width="5.3" height="4.82" fill="#f9c4a9"/>
<rect x="435.2" y="424.95" width="5.3" height="4.82" fill="#fddcc9"/>
<rect x="435.2" y="429.47" width="5.3" height="4.82" fill="#faeae0"/>
<rect x="435.2" y="433.99" width="5.3" height="4.82" fill="#f7f7f7"/>
<rect x="435.2" y="438.51" width="5.3" height="4.82" fill="#e5eef4"/>
<rect x="435.2" y="443.03" width="5.3" height="4.82" fill="#d3e6f0"/>
<rect x="435.2" y="447.55" width="5.3" height="4.82" fill="#b6d7e8"/>
<rect x="435.2" y="452.07" width="5.3" height="4.82" fill="#98c8e0"/>
<rect x="435.2" y="456.59" width="5.3" height="4.82" fill="#74b2d4"/>
<rect x="435.2" y="461.10" width="5.3" height="4.82" fill="#4e9ac7"/>
<rect x="435.2" y="465.62" width="5.3" height="4.82" fill="#3884bb"/>
<rect x="435.2" y="470.14" width="5.3" height="4.82" fill="#276fb0"/>
<rect x="435.2" y="474.66" width="5.3" height="4.82" fill="#195797"/>
<rect x="435.2" y="479.18" width="5.3" height="4.82" fill="#0c3d73"/>
<path d="M435.2,389.1 L437.84999999999997,384.3 L440.5,389.1 Z" fill="#67001f"/>
<path d="M435.2,483.4 L437.84999999999997,488.2 L440.5,483.4 Z" fill="#053061"/>
<path d="M435.2,388.8 L437.84999999999997,384.3 L440.5,388.8 L440.5,483.7 L437.84999999999997,488.2 L435.2,483.7 Z" fill="none" stroke="#8a8a8a" stroke-width="0.5"/>
<line x1="440.5" y1="402.6" x2="442.1" y2="402.6" stroke="#666" stroke-width="0.5"/>
<text x="443.7" y="405.0" font-size="6.6" fill="#333">15</text>
<line x1="440.5" y1="425" x2="442.1" y2="425" stroke="#666" stroke-width="0.5"/>
<text x="443.7" y="427.4" font-size="6.6" fill="#333">5</text>
<line x1="440.5" y1="447.5" x2="442.1" y2="447.5" stroke="#666" stroke-width="0.5"/>
<text x="443.7" y="449.9" font-size="6.6" fill="#333">−5</text>
<line x1="440.5" y1="470.4" x2="442.1" y2="470.4" stroke="#666" stroke-width="0.5"/>
<text x="443.7" y="472.79999999999995" font-size="6.6" fill="#333">−15</text>
<text transform="translate(462,436) rotate(-90)" text-anchor="middle" font-size="7.4" fill="#333" dy="2.59">Sea ice motion, cm s<tspan dy="-3" font-size="5">−1</tspan></text>
</svg>
</body></html>
